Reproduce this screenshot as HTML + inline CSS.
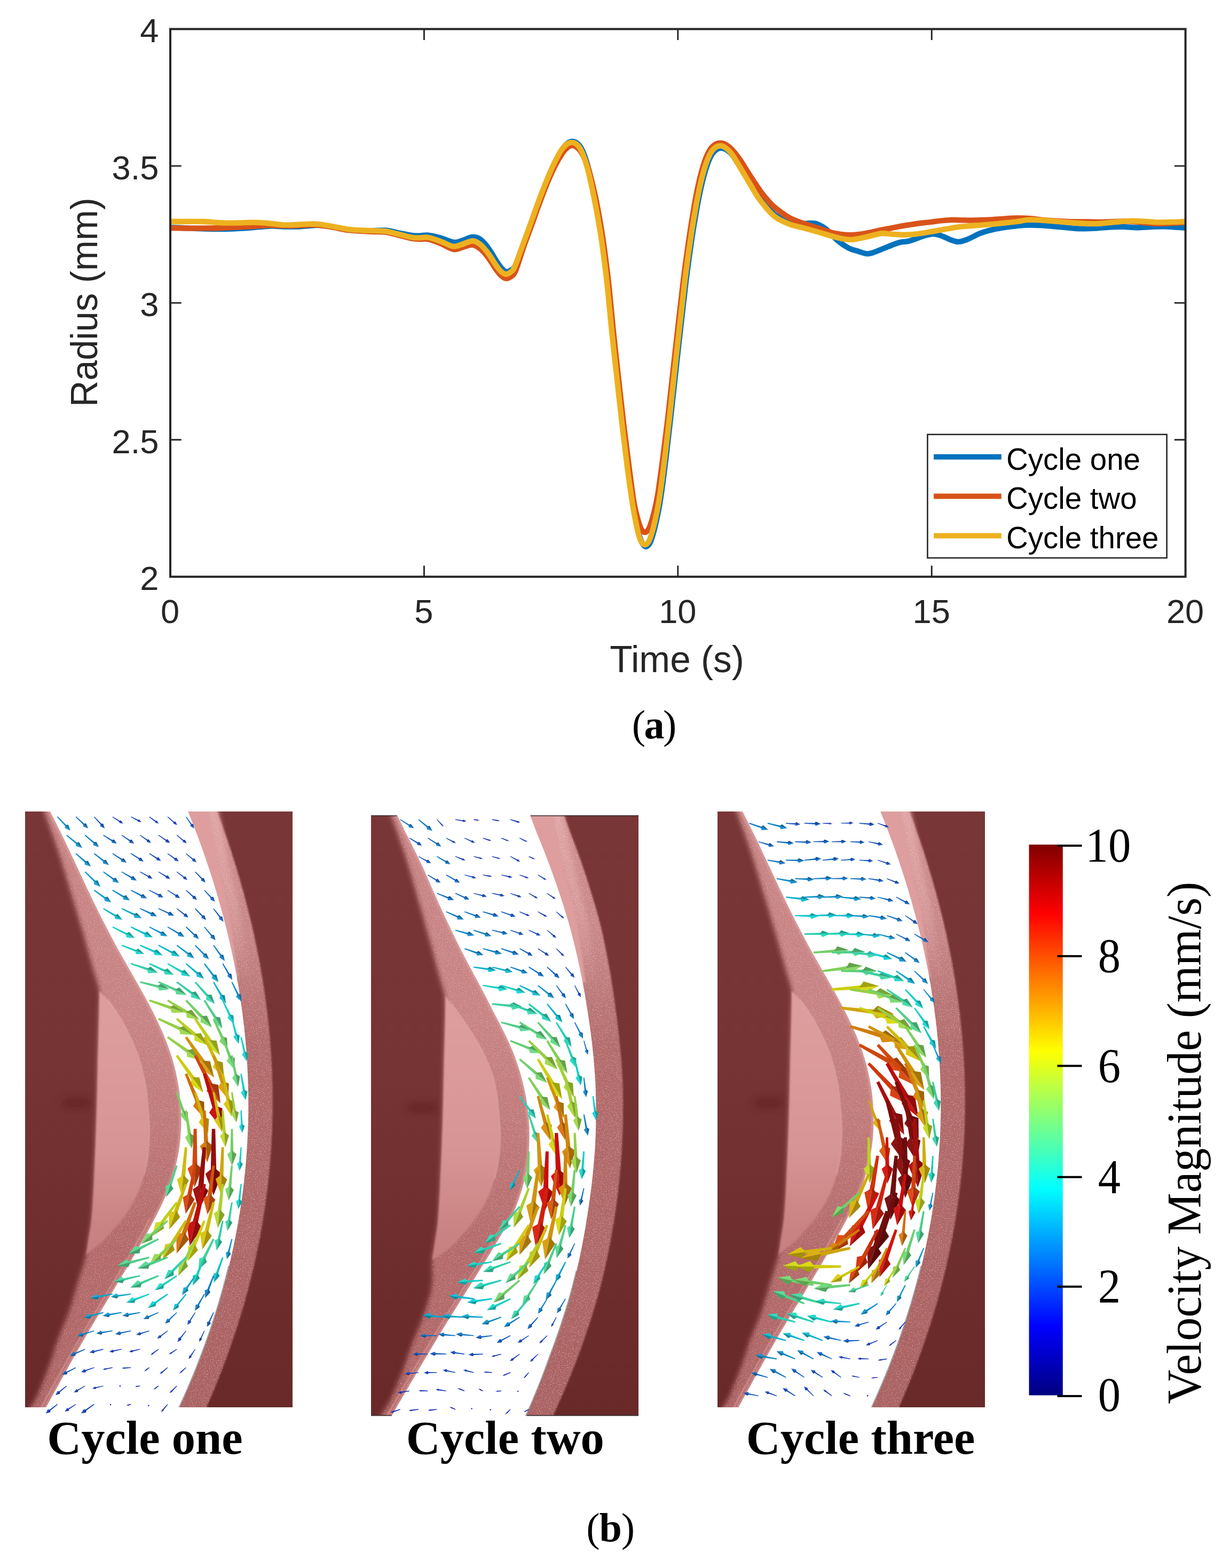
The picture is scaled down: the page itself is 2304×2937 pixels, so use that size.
<!DOCTYPE html>
<html lang="en"><head><meta charset="utf-8"><title>Radius and velocity field over three cycles</title>
<style>
html,body{margin:0;padding:0;background:#fff}
body{width:2304px;height:2937px;overflow:hidden}
svg{display:block}
text{white-space:pre}
</style></head><body>
<svg width="2304" height="2937" viewBox="0 0 2304 2937">
<rect width="2304" height="2937" fill="#fff"/>
<clipPath id="axclip"><rect x="319.0" y="54.4" width="1901.6" height="1025.9"/></clipPath>
<g clip-path="url(#axclip)" fill="none" stroke-width="10.3" stroke-linejoin="round" stroke-linecap="butt">
<path stroke="#0072BD" d="M319.0 426.0C324.2 426.2 339.5 427.1 350.0 427.5C360.5 427.9 370.8 428.2 382.0 428.5C393.2 428.8 406.5 429.1 417.0 429.0C427.5 428.9 435.3 428.5 445.0 428.0C454.7 427.5 465.0 426.8 475.0 426.0C485.0 425.2 495.2 423.8 505.0 423.5C514.8 423.2 524.8 424.3 534.0 424.5C543.2 424.7 552.7 424.8 560.0 424.5C567.3 424.2 571.7 423.4 578.0 423.0C584.3 422.6 590.2 421.7 598.0 422.0C605.8 422.3 616.2 423.6 625.0 425.0C633.8 426.4 641.8 429.2 651.0 430.5C660.2 431.8 671.8 432.2 680.0 432.5C688.2 432.8 692.8 432.2 700.0 432.0C707.2 431.8 715.0 430.8 723.0 431.5C731.0 432.2 739.7 434.9 748.0 436.5C756.3 438.1 766.3 440.2 773.0 441.0C779.7 441.8 783.2 441.6 788.0 441.5C792.8 441.4 795.8 439.8 802.0 440.5C808.2 441.2 817.7 443.4 825.0 445.5C832.3 447.6 840.8 451.7 846.0 453.0C851.2 454.3 852.0 454.2 856.0 453.5C860.0 452.8 866.0 450.4 870.0 449.0C874.0 447.6 877.1 445.8 880.0 445.0C882.9 444.2 884.6 443.8 887.4 444.0C890.2 444.2 893.7 444.7 897.0 446.5C900.3 448.3 903.3 450.9 907.0 455.0C910.7 459.1 915.2 465.3 919.0 471.0C922.8 476.7 926.5 483.7 930.0 489.0C933.5 494.3 936.9 499.7 940.0 503.0C943.1 506.3 946.0 508.5 948.8 509.0C951.6 509.5 954.3 507.8 957.0 506.0C959.7 504.2 961.2 505.7 965.0 498.0C968.8 490.3 975.0 472.8 980.0 460.0C985.0 447.2 989.9 434.2 994.7 421.0C999.5 407.8 1004.1 394.2 1009.0 381.0C1013.9 367.8 1019.0 354.4 1024.0 342.0C1029.0 329.6 1034.2 316.8 1039.0 306.5C1043.8 296.2 1049.0 286.3 1053.0 280.0C1057.0 273.7 1059.8 271.0 1063.0 268.5C1066.2 266.0 1069.2 264.8 1072.5 265.0C1075.8 265.2 1079.4 266.7 1082.5 269.5C1085.6 272.3 1088.0 275.4 1091.0 282.0C1094.0 288.6 1097.4 298.1 1100.5 309.0C1103.6 319.9 1106.5 333.5 1109.5 347.3C1112.5 361.1 1115.3 374.6 1118.5 392.0C1121.7 409.4 1125.2 428.4 1128.5 451.4C1131.8 474.4 1135.2 501.1 1138.5 530.0C1141.8 558.9 1144.8 594.7 1148.0 625.0C1151.2 655.3 1154.3 683.1 1157.5 712.0C1160.7 740.9 1164.0 771.4 1167.2 798.6C1170.4 825.8 1173.3 850.6 1176.5 875.0C1179.7 899.4 1183.8 927.9 1186.5 945.2C1189.2 962.5 1190.5 969.0 1192.5 979.0C1194.5 989.0 1196.3 998.3 1198.2 1005.0C1200.1 1011.7 1202.0 1015.8 1204.0 1019.0C1206.0 1022.2 1208.0 1023.9 1210.0 1024.0C1212.0 1024.1 1214.0 1022.5 1216.0 1019.5C1218.0 1016.5 1219.5 1012.9 1221.7 1006.0C1223.9 999.1 1226.4 989.7 1229.0 978.0C1231.6 966.3 1234.1 955.3 1237.1 936.0C1240.1 916.7 1243.8 887.8 1247.0 862.0C1250.2 836.2 1253.2 809.0 1256.4 781.0C1259.6 753.0 1262.8 722.9 1266.0 694.0C1269.2 665.1 1272.5 635.3 1275.7 607.5C1278.9 579.7 1281.8 552.7 1285.0 527.0C1288.2 501.3 1291.7 475.9 1295.0 453.4C1298.3 430.9 1301.8 409.9 1305.0 392.0C1308.2 374.1 1311.1 359.5 1314.3 346.0C1317.5 332.5 1320.8 320.5 1324.0 311.0C1327.2 301.5 1330.4 294.2 1333.6 289.0C1336.8 283.8 1339.8 281.4 1343.0 279.5C1346.2 277.6 1349.4 277.2 1352.5 277.5C1355.6 277.8 1358.3 278.9 1361.5 281.0C1364.7 283.1 1367.8 285.3 1371.5 290.0C1375.2 294.7 1379.6 302.2 1384.0 309.0C1388.4 315.8 1393.8 324.4 1398.0 331.0C1402.2 337.6 1405.1 342.4 1409.0 348.5C1412.9 354.6 1416.8 361.2 1421.3 367.5C1425.8 373.8 1430.8 380.1 1436.0 386.0C1441.2 391.9 1445.5 398.2 1452.7 403.0C1459.9 407.8 1470.2 411.9 1479.0 414.5C1487.8 417.1 1498.8 418.1 1505.4 418.6C1512.0 419.2 1514.2 417.6 1518.6 417.8C1523.0 418.0 1526.9 418.1 1531.7 420.0C1536.5 421.9 1541.3 424.2 1547.5 429.2C1553.7 434.2 1561.6 444.3 1568.6 450.2C1575.6 456.1 1583.5 461.4 1589.7 464.7C1595.9 468.0 1599.8 468.2 1605.5 470.0C1611.2 471.8 1618.8 474.9 1624.0 475.3C1629.2 475.7 1630.4 474.8 1637.0 472.6C1643.6 470.4 1655.6 465.1 1663.5 462.0C1671.4 458.9 1677.9 455.9 1684.5 454.2C1691.1 452.4 1695.5 453.5 1703.0 451.5C1710.5 449.5 1721.8 444.5 1729.3 442.3C1736.8 440.1 1742.1 438.5 1747.8 438.4C1753.5 438.3 1757.9 439.9 1763.6 441.8C1769.3 443.7 1776.7 447.9 1782.0 449.7C1787.3 451.5 1790.4 453.0 1795.2 452.9C1800.0 452.8 1804.4 451.4 1811.0 448.9C1817.6 446.3 1827.8 440.5 1834.7 437.6C1841.7 434.7 1845.3 433.6 1852.7 431.7C1860.1 429.8 1870.2 427.8 1879.0 426.4C1887.8 424.9 1896.6 423.8 1905.4 423.0C1914.2 422.2 1920.7 421.6 1931.7 421.7C1942.7 421.8 1960.2 423.0 1971.2 423.8C1982.2 424.6 1988.8 425.6 1997.6 426.4C2006.4 427.1 2015.2 428.1 2024.0 428.3C2032.8 428.5 2041.5 428.1 2050.3 427.7C2059.1 427.2 2067.8 426.1 2076.6 425.6C2085.4 425.1 2094.2 424.7 2103.0 424.8C2111.8 424.9 2120.5 426.3 2129.3 426.4C2138.1 426.4 2146.9 425.5 2155.7 425.1C2164.5 424.8 2171.2 424.0 2182.0 424.3C2192.8 424.6 2214.2 426.6 2220.7 427.0"/>
<path stroke="#D95319" d="M319.0 427.0C324.2 427.1 339.5 427.4 350.0 427.5C360.5 427.6 370.8 427.6 382.0 427.5C393.2 427.4 406.5 427.3 417.0 427.0C427.5 426.7 435.3 426.0 445.0 425.5C454.7 425.0 465.0 424.6 475.0 424.0C485.0 423.4 495.2 422.2 505.0 422.0C514.8 421.8 524.8 422.9 534.0 423.0C543.2 423.1 552.7 422.8 560.0 422.5C567.3 422.2 571.7 421.6 578.0 421.5C584.3 421.4 590.2 421.2 598.0 422.0C605.8 422.8 616.2 424.5 625.0 426.0C633.8 427.5 641.8 429.8 651.0 431.0C660.2 432.2 671.8 432.5 680.0 433.0C688.2 433.5 692.8 433.7 700.0 434.0C707.2 434.3 715.0 433.8 723.0 435.0C731.0 436.2 739.7 439.0 748.0 441.0C756.3 443.0 766.3 445.8 773.0 447.0C779.7 448.2 783.2 447.8 788.0 448.0C792.8 448.2 795.8 446.7 802.0 448.0C808.2 449.3 817.7 453.0 825.0 456.0C832.3 459.0 841.0 464.2 846.0 466.0C851.0 467.8 851.0 467.7 855.0 467.0C859.0 466.3 865.2 463.4 870.0 462.0C874.8 460.6 880.0 458.5 884.0 458.5C888.0 458.5 890.5 459.9 894.0 462.0C897.5 464.1 901.2 467.0 905.0 471.0C908.8 475.0 913.2 480.7 917.0 486.0C920.8 491.3 924.5 498.1 928.0 503.0C931.5 507.9 934.8 512.4 938.0 515.5C941.2 518.6 944.2 521.1 947.4 521.5C950.6 521.9 954.0 520.2 957.0 518.0C960.0 515.8 961.5 517.3 965.5 508.0C969.5 498.7 976.0 476.3 981.0 462.0C986.0 447.7 990.9 435.3 995.7 422.0C1000.5 408.7 1005.1 395.2 1010.0 382.0C1014.9 368.8 1020.0 355.0 1025.0 343.0C1030.0 331.0 1035.2 319.5 1040.0 310.0C1044.8 300.5 1050.0 291.8 1054.0 286.0C1058.0 280.2 1060.9 277.7 1064.0 275.5C1067.1 273.3 1069.5 272.4 1072.5 272.7C1075.5 272.9 1078.9 274.3 1082.0 277.0C1085.1 279.7 1087.8 283.2 1091.0 289.0C1094.2 294.8 1097.8 302.3 1101.0 312.0C1104.2 321.7 1107.3 334.0 1110.5 347.3C1113.7 360.6 1116.8 374.6 1120.0 392.0C1123.2 409.4 1126.7 428.4 1130.0 451.4C1133.3 474.4 1136.8 501.1 1140.0 530.0C1143.2 558.9 1146.2 594.7 1149.4 625.0C1152.6 655.3 1155.8 683.1 1159.0 712.0C1162.2 740.9 1165.5 771.9 1168.7 798.6C1171.9 825.3 1175.0 848.8 1178.0 872.0C1181.0 895.2 1184.5 922.3 1187.0 938.0C1189.5 953.7 1191.1 958.2 1193.0 966.0C1194.9 973.8 1196.9 980.3 1198.6 985.0C1200.3 989.7 1201.4 992.0 1203.0 994.0C1204.6 996.0 1206.3 997.0 1208.0 997.0C1209.7 997.0 1211.4 996.0 1213.0 994.0C1214.6 992.0 1215.8 990.3 1217.7 985.0C1219.6 979.7 1222.1 972.0 1224.5 962.0C1226.9 952.0 1229.4 942.8 1232.3 925.0C1235.2 907.2 1238.8 879.3 1242.0 855.0C1245.2 830.7 1248.2 806.5 1251.4 779.3C1254.6 752.1 1257.8 720.9 1261.0 692.0C1264.2 663.1 1267.5 633.5 1270.7 605.7C1273.9 577.9 1276.8 550.7 1280.0 525.0C1283.2 499.3 1286.7 474.2 1290.0 451.4C1293.3 428.6 1296.8 406.6 1300.0 388.0C1303.2 369.4 1306.2 354.1 1309.5 340.0C1312.8 325.9 1316.2 313.3 1319.5 303.5C1322.8 293.7 1326.2 286.5 1329.6 281.0C1333.0 275.5 1336.4 272.7 1340.0 270.5C1343.6 268.3 1347.5 267.8 1351.0 268.0C1354.5 268.2 1357.5 269.3 1361.0 271.5C1364.5 273.7 1367.8 276.4 1372.0 281.0C1376.2 285.6 1381.3 292.3 1386.0 299.0C1390.7 305.7 1395.7 314.2 1400.0 321.0C1404.3 327.8 1407.6 332.9 1412.0 339.5C1416.4 346.1 1421.8 354.5 1426.3 360.6C1430.8 366.7 1434.6 371.2 1439.0 376.0C1443.4 380.8 1446.0 384.3 1452.7 389.6C1459.4 394.9 1470.2 403.2 1479.0 408.0C1487.8 412.8 1496.6 415.4 1505.4 418.6C1514.2 421.8 1522.9 424.1 1531.7 427.0C1540.5 429.9 1550.8 433.7 1558.0 435.7C1565.2 437.7 1569.3 438.1 1575.0 438.8C1580.7 439.6 1586.8 440.2 1592.3 440.2C1597.8 440.2 1602.7 439.6 1608.0 439.0C1613.3 438.4 1618.2 437.6 1624.0 436.5C1629.8 435.4 1636.4 433.9 1643.0 432.5C1649.6 431.1 1656.8 429.7 1663.5 428.4C1670.2 427.1 1676.4 425.7 1683.0 424.5C1689.6 423.3 1696.5 422.2 1703.0 421.2C1709.5 420.2 1715.4 419.2 1722.0 418.3C1728.6 417.4 1735.8 416.8 1742.5 416.0C1749.2 415.2 1755.4 414.2 1762.0 413.5C1768.6 412.8 1775.7 412.2 1782.0 412.0C1788.3 411.8 1793.4 412.2 1800.0 412.3C1806.6 412.4 1812.7 412.7 1821.5 412.6C1830.3 412.5 1843.1 412.2 1852.7 411.7C1862.3 411.2 1870.2 410.3 1879.0 409.8C1887.8 409.3 1896.6 408.6 1905.4 408.5C1914.2 408.4 1922.9 408.8 1931.7 409.5C1940.5 410.2 1947.0 411.6 1958.0 412.5C1969.0 413.4 1984.4 414.5 1997.6 415.0C2010.8 415.5 2026.0 415.3 2037.0 415.5C2048.0 415.7 2054.7 416.1 2063.5 416.0C2072.3 415.9 2081.0 415.2 2089.8 415.0C2098.6 414.8 2107.4 414.2 2116.2 414.5C2125.0 414.8 2133.7 416.2 2142.5 417.0C2151.3 417.8 2160.0 418.8 2168.8 419.0C2177.6 419.2 2186.5 418.4 2195.2 418.0C2203.8 417.6 2216.4 416.8 2220.7 416.5"/>
<path stroke="#EDB120" d="M319.0 415.0C324.2 415.0 339.5 415.0 350.0 415.0C360.5 415.0 370.8 414.6 382.0 415.0C393.2 415.4 406.5 417.1 417.0 417.5C427.5 417.9 435.3 417.6 445.0 417.5C454.7 417.4 465.0 416.5 475.0 416.7C485.0 416.9 495.2 417.7 505.0 418.5C514.8 419.3 524.8 421.1 534.0 421.4C543.2 421.7 552.7 420.8 560.0 420.5C567.3 420.2 571.7 419.7 578.0 419.6C584.3 419.5 590.2 419.2 598.0 420.0C605.8 420.8 616.2 422.9 625.0 424.5C633.8 426.1 641.8 428.1 651.0 429.3C660.2 430.5 671.8 431.0 680.0 431.5C688.2 432.0 692.8 431.9 700.0 432.2C707.2 432.5 715.0 432.0 723.0 433.1C731.0 434.2 739.7 437.1 748.0 439.0C756.3 440.9 766.3 443.8 773.0 444.8C779.7 445.9 783.2 445.3 788.0 445.3C792.8 445.3 795.8 443.7 802.0 444.8C808.2 445.9 817.7 449.3 825.0 452.0C832.3 454.7 841.0 459.4 846.0 460.9C851.0 462.4 851.0 461.8 855.0 461.0C859.0 460.2 865.2 457.6 870.0 456.0C874.8 454.4 880.0 451.6 884.0 451.3C888.0 451.0 890.5 452.1 894.0 454.0C897.5 455.9 901.2 459.0 905.0 463.0C908.8 467.0 913.2 472.6 917.0 478.0C920.8 483.4 924.5 490.2 928.0 495.2C931.5 500.2 934.8 504.9 938.0 508.0C941.2 511.1 944.4 513.3 947.4 513.6C950.4 513.9 953.3 512.1 956.0 510.0C958.7 507.9 959.8 509.0 963.5 501.0C967.2 493.0 973.1 475.2 978.0 462.0C982.9 448.8 987.9 435.3 992.7 422.0C997.5 408.7 1002.1 395.2 1007.0 382.0C1011.9 368.8 1017.0 355.3 1022.0 343.0C1027.0 330.7 1032.1 318.2 1037.0 308.0C1041.9 297.8 1047.1 287.8 1051.3 281.5C1055.5 275.2 1058.6 272.4 1062.0 270.0C1065.4 267.6 1068.6 266.6 1071.8 266.8C1075.0 267.0 1078.1 268.3 1081.0 271.0C1083.9 273.7 1086.3 276.5 1089.3 283.0C1092.3 289.5 1095.9 299.3 1099.0 310.0C1102.1 320.7 1105.0 333.6 1108.0 347.3C1111.0 361.0 1113.8 374.6 1117.0 392.0C1120.2 409.4 1123.7 428.4 1127.0 451.4C1130.3 474.4 1133.8 501.1 1137.0 530.0C1140.2 558.9 1143.2 594.7 1146.4 625.0C1149.6 655.3 1152.8 683.1 1156.0 712.0C1159.2 740.9 1162.5 771.4 1165.7 798.6C1168.9 825.8 1171.8 850.6 1175.0 875.0C1178.2 899.4 1182.3 928.0 1185.0 945.2C1187.7 962.4 1189.1 968.4 1191.0 978.0C1192.9 987.6 1194.8 996.7 1196.6 1003.0C1198.4 1009.3 1200.1 1013.1 1202.0 1016.0C1203.9 1018.9 1206.2 1020.4 1208.2 1020.4C1210.2 1020.4 1212.1 1018.9 1214.0 1016.0C1215.9 1013.1 1217.5 1009.8 1219.7 1003.0C1221.9 996.2 1224.4 986.6 1227.0 975.0C1229.6 963.4 1232.1 952.8 1235.1 933.6C1238.1 914.4 1241.8 885.7 1245.0 860.0C1248.2 834.3 1251.2 807.3 1254.4 779.3C1257.6 751.3 1260.8 720.9 1264.0 692.0C1267.2 663.1 1270.5 633.5 1273.7 605.7C1276.9 577.9 1279.8 550.7 1283.0 525.0C1286.2 499.3 1289.7 473.9 1293.0 451.4C1296.3 428.9 1299.8 408.0 1303.0 390.0C1306.2 372.0 1309.1 357.1 1312.3 343.4C1315.5 329.7 1318.8 317.6 1322.0 308.0C1325.2 298.4 1328.4 291.0 1331.6 285.6C1334.8 280.2 1337.8 277.6 1341.0 275.5C1344.2 273.4 1347.7 272.9 1350.9 273.2C1354.1 273.5 1356.8 275.1 1360.0 277.5C1363.2 279.9 1366.4 282.4 1370.2 287.5C1374.0 292.6 1378.5 300.6 1383.0 308.0C1387.5 315.4 1393.0 324.9 1397.2 331.9C1401.4 338.9 1404.2 343.6 1408.0 350.0C1411.8 356.4 1415.8 363.9 1420.3 370.4C1424.8 376.9 1429.6 382.9 1435.0 389.0C1440.4 395.1 1445.4 401.6 1452.7 406.8C1460.0 412.0 1470.2 416.6 1479.0 420.0C1487.8 423.4 1496.6 424.6 1505.4 427.0C1514.2 429.4 1522.9 431.8 1531.7 434.4C1540.5 436.9 1550.9 440.3 1558.1 442.3C1565.3 444.3 1569.3 445.4 1575.0 446.5C1580.7 447.6 1586.8 448.8 1592.3 448.9C1597.8 449.0 1602.7 447.9 1608.0 447.0C1613.3 446.1 1618.7 444.9 1624.0 443.6C1629.3 442.4 1635.2 440.6 1640.0 439.5C1644.8 438.4 1648.0 437.2 1653.0 437.0C1658.0 436.8 1663.9 438.1 1670.0 438.5C1676.1 438.9 1682.1 439.7 1689.8 439.7C1697.5 439.7 1705.2 439.7 1716.2 438.4C1727.2 437.1 1742.5 434.0 1755.7 431.8C1768.9 429.6 1783.7 426.8 1795.2 425.2C1806.8 423.6 1815.4 423.3 1825.0 422.5C1834.6 421.7 1843.7 421.2 1852.7 420.4C1861.7 419.6 1870.2 418.7 1879.0 417.8C1887.8 416.9 1898.6 415.9 1905.4 415.0C1912.2 414.1 1915.6 413.1 1920.0 412.5C1924.4 411.9 1925.4 411.6 1931.7 411.7C1938.0 411.8 1947.0 412.2 1958.0 413.0C1969.0 413.8 1984.4 415.4 1997.6 416.4C2010.8 417.4 2026.0 418.6 2037.0 419.0C2048.0 419.4 2054.7 419.0 2063.5 418.5C2072.3 418.0 2081.0 416.7 2089.8 415.9C2098.6 415.1 2107.4 414.0 2116.2 413.8C2125.0 413.6 2133.7 414.2 2142.5 414.6C2151.3 415.0 2160.0 416.2 2168.8 416.4C2177.6 416.6 2186.5 416.1 2195.2 415.9C2203.8 415.7 2216.4 415.1 2220.7 415.0"/>
</g>
<g stroke="#262626" stroke-width="4" fill="none">
<rect x="319.0" y="54.4" width="1901.6" height="1025.9"/>
<path stroke-width="2.9" d="M794.4 1080.3v-20.7M794.4 54.4v20.7M1269.8 1080.3v-20.7M1269.8 54.4v20.7M1745.2 1080.3v-20.7M1745.2 54.4v20.7M319.0 823.8h20.7M2220.6 823.8h-20.7M319.0 567.4h20.7M2220.6 567.4h-20.7M319.0 310.9h20.7M2220.6 310.9h-20.7"/>
</g>
<g font-family="'Liberation Sans',Arial,Helvetica,sans-serif" fill="#262626" font-size="63.2">
<text x="318.5" y="1167" text-anchor="middle">0</text>
<text x="793.9" y="1167" text-anchor="middle">5</text>
<text x="1269.3" y="1167" text-anchor="middle">10</text>
<text x="1744.7" y="1167" text-anchor="middle">15</text>
<text x="2220.1" y="1167" text-anchor="middle">20</text>
<text x="297.4" y="1105.1" text-anchor="end">2</text>
<text x="297.4" y="848.6" text-anchor="end">2.5</text>
<text x="297.4" y="592.1" text-anchor="end">3</text>
<text x="297.4" y="335.7" text-anchor="end">3.5</text>
<text x="297.4" y="79.2" text-anchor="end">4</text>
</g>
<g font-family="'Liberation Sans',Arial,Helvetica,sans-serif" fill="#262626" font-size="71">
<text transform="translate(1268,1258.9) scale(0.977,1)" text-anchor="middle">Time (s)</text>
<text transform="translate(182,566.3) rotate(-90) scale(0.965,1)" text-anchor="middle">Radius (mm)</text>
</g>
<rect x="1737.4" y="813.8" width="448.2" height="231.2" fill="#fff" stroke="#262626" stroke-width="2.6"/>
<g stroke-width="10" fill="none">
<path stroke="#0072BD" d="M1749 855.7H1875.8"/>
<path stroke="#D95319" d="M1749 929.4H1875.8"/>
<path stroke="#EDB120" d="M1749 1003.5H1875.8"/>
</g>
<g font-family="'Liberation Sans',Arial,Helvetica,sans-serif" fill="#000" font-size="57.5">
<text transform="translate(1885,879.8) scale(0.982,1)">Cycle one</text>
<text transform="translate(1885,953.2) scale(0.982,1)">Cycle two</text>
<text transform="translate(1885,1027.3) scale(0.982,1)">Cycle three</text>
</g>
<text x="1225.6" y="1383.3" text-anchor="middle" font-family="'Liberation Serif','Times New Roman',serif" font-size="76" fill="#000">(<tspan font-weight="bold" dx="-2.5">a</tspan><tspan dx="-2.5">)</tspan></text>
<defs>
<filter id="b6" x="-20%" y="-5%" width="140%" height="110%"><feGaussianBlur stdDeviation="5"/></filter>
<filter id="b6w" x="-100%" y="-10%" width="300%" height="120%"><feGaussianBlur stdDeviation="5"/></filter>
<filter id="b3" x="-20%" y="-5%" width="140%" height="110%"><feGaussianBlur stdDeviation="1.6"/></filter>
<filter id="b1" x="-20%" y="-5%" width="140%" height="110%"><feGaussianBlur stdDeviation="0.8"/></filter>
<filter id="b12" x="-50%" y="-50%" width="200%" height="200%"><feGaussianBlur stdDeviation="7"/></filter>
<filter id="spk" x="0" y="0" width="100%" height="100%" color-interpolation-filters="sRGB"><feTurbulence type="fractalNoise" baseFrequency="0.5" numOctaves="2" seed="7" result="n"/><feColorMatrix in="n" type="matrix" values="0 0 0 0 1  0 0 0 0 0.84  0 0 0 0 0.84  0 0 0 6 -3.55" result="s"/><feComposite in="s" in2="SourceGraphic" operator="in"/></filter>
<linearGradient id="gdark" gradientUnits="userSpaceOnUse" x1="0" y1="1519" x2="0" y2="2640"><stop offset="0.000" stop-color="#793636"/><stop offset="0.429" stop-color="#773434"/><stop offset="0.697" stop-color="#702e2e"/><stop offset="1.000" stop-color="#692929"/></linearGradient>
<linearGradient id="glb" gradientUnits="userSpaceOnUse" x1="0" y1="1519" x2="0" y2="2640"><stop offset="0.000" stop-color="#c88585"/><stop offset="0.340" stop-color="#c88484"/><stop offset="0.518" stop-color="#c07a7a"/><stop offset="0.697" stop-color="#b56c6c"/><stop offset="1.000" stop-color="#ad6565"/></linearGradient>
<linearGradient id="grb" gradientUnits="userSpaceOnUse" x1="0" y1="1519" x2="0" y2="2640"><stop offset="0.000" stop-color="#cf9090"/><stop offset="0.206" stop-color="#c68686"/><stop offset="0.384" stop-color="#b36c6c"/><stop offset="0.697" stop-color="#ae6767"/><stop offset="1.000" stop-color="#a96262"/></linearGradient>
<linearGradient id="glf" gradientUnits="userSpaceOnUse" x1="0" y1="1519" x2="0" y2="2640"><stop offset="0.000" stop-color="#de9d9d"/><stop offset="0.340" stop-color="#de9d9d"/><stop offset="0.563" stop-color="#d79494"/><stop offset="0.697" stop-color="#c98282"/><stop offset="1.000" stop-color="#c07878"/></linearGradient>
<linearGradient id="ghl" gradientUnits="userSpaceOnUse" x1="0" y1="1500" x2="0" y2="1840"><stop offset="0" stop-color="#e6adad" stop-opacity="0.75"/><stop offset="0.55" stop-color="#e6adad" stop-opacity="0.5"/><stop offset="1" stop-color="#e6adad" stop-opacity="0"/></linearGradient>
<path id="p_lband" d="M76.0 1505.0C77.1 1507.4 77.1 1504.7 82.5 1519.3C87.9 1533.9 100.3 1567.7 108.5 1592.4C116.7 1617.1 123.9 1642.3 131.5 1667.3C139.1 1692.3 146.8 1717.3 154.0 1742.3C161.2 1767.3 169.7 1798.2 175.0 1817.2C180.3 1836.2 184.2 1842.2 186.0 1856.0C187.8 1869.8 186.0 1876.0 185.5 1900.0C185.0 1924.0 183.8 1966.7 183.0 2000.0C182.2 2033.3 181.7 2064.7 180.5 2100.0C179.3 2135.3 177.5 2182.0 176.0 2212.0C174.5 2242.0 173.4 2262.0 171.7 2280.0C170.0 2298.0 167.8 2308.2 166.0 2320.0C164.2 2331.8 164.6 2337.2 161.2 2351.0C157.8 2364.8 150.7 2385.6 145.4 2403.0C140.1 2420.4 135.8 2438.1 129.6 2455.7C123.4 2473.3 115.0 2490.8 108.5 2508.4C102.0 2526.0 97.4 2543.4 90.9 2561.0C84.5 2578.6 75.7 2600.9 69.8 2613.7C63.9 2626.5 60.1 2630.3 55.8 2638.0C51.5 2645.7 46.0 2656.3 44.0 2660.0L91.1 2660.0C93.1 2656.3 99.3 2645.2 103.4 2637.8C107.5 2630.4 111.6 2623.0 115.6 2615.6C119.7 2608.2 123.8 2600.8 127.9 2593.4C131.9 2586.0 136.0 2578.6 140.1 2571.2C144.2 2563.8 148.3 2556.3 152.5 2548.9C156.7 2541.5 160.8 2534.1 165.1 2526.7C169.3 2519.3 173.6 2511.9 177.9 2504.5C182.2 2497.1 186.6 2489.7 191.0 2482.3C195.4 2474.9 199.8 2467.5 204.3 2460.1C208.7 2452.7 213.2 2445.3 217.7 2437.9C222.1 2430.5 226.6 2423.1 231.1 2415.7C235.5 2408.3 240.0 2400.9 244.4 2393.5C248.9 2386.1 253.3 2378.7 257.7 2371.2C262.1 2363.8 266.5 2356.4 270.8 2349.0C275.1 2341.6 279.4 2334.2 283.6 2326.8C287.8 2319.4 292.0 2312.0 296.0 2304.6C300.1 2297.2 304.1 2289.8 307.9 2282.4C311.8 2275.0 315.5 2267.6 319.1 2260.2C322.6 2252.8 326.0 2245.4 329.1 2238.0C332.2 2230.6 335.1 2223.2 337.7 2215.8C340.3 2208.4 342.6 2201.0 344.7 2193.6C346.7 2186.2 348.5 2178.8 350.1 2171.3C351.6 2163.9 352.9 2156.5 353.9 2149.1C355.0 2141.7 355.8 2134.3 356.3 2126.9C356.9 2119.5 357.3 2112.1 357.4 2104.7C357.5 2097.3 357.4 2089.9 357.1 2082.5C356.9 2075.1 356.4 2067.7 355.7 2060.3C355.0 2052.9 354.1 2045.5 353.0 2038.1C351.9 2030.7 350.6 2023.3 349.0 2015.9C347.5 2008.5 345.7 2001.1 343.7 1993.7C341.7 1986.2 339.5 1978.8 337.0 1971.4C334.5 1964.0 331.8 1956.6 328.9 1949.2C326.0 1941.8 322.8 1934.4 319.5 1927.0C316.2 1919.6 312.7 1912.2 309.1 1904.8C305.5 1897.4 301.7 1890.0 297.8 1882.6C293.9 1875.2 289.9 1867.8 285.8 1860.4C281.7 1853.0 277.5 1845.6 273.3 1838.2C269.1 1830.8 264.8 1823.4 260.6 1816.0C256.4 1808.6 252.1 1801.2 247.9 1793.8C243.7 1786.3 239.6 1778.9 235.5 1771.5C231.5 1764.1 227.5 1756.7 223.7 1749.3C219.8 1741.9 216.0 1734.5 212.2 1727.1C208.4 1719.7 204.7 1712.3 201.1 1704.9C197.4 1697.5 193.8 1690.1 190.2 1682.7C186.7 1675.3 183.1 1667.9 179.6 1660.5C176.1 1653.1 172.6 1645.7 169.2 1638.3C165.7 1630.9 162.2 1623.5 158.8 1616.1C155.3 1608.7 151.8 1601.2 148.3 1593.8C144.8 1586.4 141.3 1579.0 137.7 1571.6C134.1 1564.2 130.5 1556.8 126.8 1549.4C123.1 1542.0 119.4 1534.6 115.6 1527.2C111.7 1519.8 105.8 1508.7 103.8 1505.0Z"/>
<path id="p_lband2" d="M76.0 1505.0C77.1 1507.4 77.1 1504.7 82.5 1519.3C87.9 1533.9 100.3 1567.7 108.5 1592.4C116.7 1617.1 123.9 1642.3 131.5 1667.3C139.1 1692.3 146.8 1717.3 154.0 1742.3C161.2 1767.3 169.7 1798.2 175.0 1817.2C180.3 1836.2 184.2 1849.5 186.0 1856.0L201.0 1872.0C204.3 1876.7 214.4 1889.5 220.9 1900.0C227.4 1910.5 234.3 1923.3 240.2 1935.0C246.0 1946.7 251.6 1958.6 256.0 1970.3C260.4 1982.0 263.7 1993.7 266.6 2005.4C269.5 2017.1 271.9 2028.8 273.6 2040.5C275.4 2052.2 276.2 2065.8 277.1 2075.7C278.0 2085.6 278.5 2092.3 278.9 2100.0C279.3 2107.7 279.8 2111.3 279.5 2122.0C279.2 2132.7 278.6 2151.0 277.0 2164.0C275.4 2177.0 272.8 2188.8 270.0 2200.0C267.2 2211.2 264.2 2221.0 260.0 2231.0C255.8 2241.0 250.6 2250.6 245.0 2260.0C239.4 2269.4 232.3 2279.5 226.3 2287.3C220.3 2295.1 214.6 2300.8 209.0 2307.0C203.4 2313.2 198.1 2319.6 192.6 2324.8C187.1 2330.0 181.2 2333.6 176.0 2338.0C170.8 2342.4 163.7 2348.8 161.2 2351.0L145.4 2403.0C142.8 2411.8 135.8 2438.1 129.6 2455.7C123.4 2473.3 115.0 2490.8 108.5 2508.4C102.0 2526.0 97.4 2543.4 90.9 2561.0C84.5 2578.6 75.7 2600.9 69.8 2613.7C63.9 2626.5 60.1 2630.3 55.8 2638.0C51.5 2645.7 46.0 2656.3 44.0 2660.0L91.1 2660.0C93.1 2656.3 99.3 2645.2 103.4 2637.8C107.5 2630.4 111.6 2623.0 115.6 2615.6C119.7 2608.2 123.8 2600.8 127.9 2593.4C131.9 2586.0 136.0 2578.6 140.1 2571.2C144.2 2563.8 148.3 2556.3 152.5 2548.9C156.7 2541.5 160.8 2534.1 165.1 2526.7C169.3 2519.3 173.6 2511.9 177.9 2504.5C182.2 2497.1 186.6 2489.7 191.0 2482.3C195.4 2474.9 199.8 2467.5 204.3 2460.1C208.7 2452.7 213.2 2445.3 217.7 2437.9C222.1 2430.5 226.6 2423.1 231.1 2415.7C235.5 2408.3 240.0 2400.9 244.4 2393.5C248.9 2386.1 253.3 2378.7 257.7 2371.2C262.1 2363.8 266.5 2356.4 270.8 2349.0C275.1 2341.6 279.4 2334.2 283.6 2326.8C287.8 2319.4 292.0 2312.0 296.0 2304.6C300.1 2297.2 304.1 2289.8 307.9 2282.4C311.8 2275.0 315.5 2267.6 319.1 2260.2C322.6 2252.8 326.0 2245.4 329.1 2238.0C332.2 2230.6 335.1 2223.2 337.7 2215.8C340.3 2208.4 342.6 2201.0 344.7 2193.6C346.7 2186.2 348.5 2178.8 350.1 2171.3C351.6 2163.9 352.9 2156.5 353.9 2149.1C355.0 2141.7 355.8 2134.3 356.3 2126.9C356.9 2119.5 357.3 2112.1 357.4 2104.7C357.5 2097.3 357.4 2089.9 357.1 2082.5C356.9 2075.1 356.4 2067.7 355.7 2060.3C355.0 2052.9 354.1 2045.5 353.0 2038.1C351.9 2030.7 350.6 2023.3 349.0 2015.9C347.5 2008.5 345.7 2001.1 343.7 1993.7C341.7 1986.2 339.5 1978.8 337.0 1971.4C334.5 1964.0 331.8 1956.6 328.9 1949.2C326.0 1941.8 322.8 1934.4 319.5 1927.0C316.2 1919.6 312.7 1912.2 309.1 1904.8C305.5 1897.4 301.7 1890.0 297.8 1882.6C293.9 1875.2 289.9 1867.8 285.8 1860.4C281.7 1853.0 277.5 1845.6 273.3 1838.2C269.1 1830.8 264.8 1823.4 260.6 1816.0C256.4 1808.6 252.1 1801.2 247.9 1793.8C243.7 1786.3 239.6 1778.9 235.5 1771.5C231.5 1764.1 227.5 1756.7 223.7 1749.3C219.8 1741.9 216.0 1734.5 212.2 1727.1C208.4 1719.7 204.7 1712.3 201.1 1704.9C197.4 1697.5 193.8 1690.1 190.2 1682.7C186.7 1675.3 183.1 1667.9 179.6 1660.5C176.1 1653.1 172.6 1645.7 169.2 1638.3C165.7 1630.9 162.2 1623.5 158.8 1616.1C155.3 1608.7 151.8 1601.2 148.3 1593.8C144.8 1586.4 141.3 1579.0 137.7 1571.6C134.1 1564.2 130.5 1556.8 126.8 1549.4C123.1 1542.0 119.4 1534.6 115.6 1527.2C111.7 1519.8 105.8 1508.7 103.8 1505.0Z"/>
<path id="p_leaf" d="M186.0 1856.0C188.5 1858.7 195.2 1864.7 201.0 1872.0C206.8 1879.3 214.4 1889.5 220.9 1900.0C227.4 1910.5 234.3 1923.3 240.2 1935.0C246.0 1946.7 251.6 1958.6 256.0 1970.3C260.4 1982.0 263.7 1993.7 266.6 2005.4C269.5 2017.1 271.9 2028.8 273.6 2040.5C275.4 2052.2 276.2 2065.8 277.1 2075.7C278.0 2085.6 278.5 2092.3 278.9 2100.0C279.3 2107.7 279.8 2111.3 279.5 2122.0C279.2 2132.7 278.6 2151.0 277.0 2164.0C275.4 2177.0 272.8 2188.8 270.0 2200.0C267.2 2211.2 264.2 2221.0 260.0 2231.0C255.8 2241.0 250.6 2250.6 245.0 2260.0C239.4 2269.4 232.3 2279.5 226.3 2287.3C220.3 2295.1 214.6 2300.8 209.0 2307.0C203.4 2313.2 198.1 2319.6 192.6 2324.8C187.1 2330.0 181.2 2333.6 176.0 2338.0C170.8 2342.4 163.7 2348.8 161.2 2351.0L161.2 2351.0C162.0 2345.8 164.2 2331.8 166.0 2320.0C167.8 2308.2 170.0 2298.0 171.7 2280.0C173.4 2262.0 174.5 2242.0 176.0 2212.0C177.5 2182.0 179.3 2135.3 180.5 2100.0C181.7 2064.7 182.2 2033.3 183.0 2000.0C183.8 1966.7 185.0 1924.0 185.5 1900.0C186.0 1876.0 185.9 1863.3 186.0 1856.0Z"/>
<path id="p_chan" d="M85.8 1505.0C87.8 1508.7 93.7 1519.8 97.6 1527.2C101.4 1534.6 105.1 1542.0 108.8 1549.4C112.5 1556.8 116.1 1564.2 119.7 1571.6C123.3 1579.0 126.8 1586.4 130.3 1593.8C133.8 1601.2 137.3 1608.7 140.8 1616.1C144.2 1623.5 147.7 1630.9 151.2 1638.3C154.6 1645.7 158.1 1653.1 161.6 1660.5C165.1 1667.9 168.7 1675.3 172.2 1682.7C175.8 1690.1 179.4 1697.5 183.1 1704.9C186.7 1712.3 190.4 1719.7 194.2 1727.1C198.0 1734.5 201.8 1741.9 205.7 1749.3C209.5 1756.7 213.5 1764.1 217.5 1771.5C221.6 1778.9 225.7 1786.3 229.9 1793.8C234.1 1801.2 238.4 1808.6 242.6 1816.0C246.8 1823.4 251.1 1830.8 255.3 1838.2C259.5 1845.6 263.7 1853.0 267.8 1860.4C271.9 1867.8 275.9 1875.2 279.8 1882.6C283.7 1890.0 287.5 1897.4 291.1 1904.8C294.7 1912.2 298.2 1919.6 301.5 1927.0C304.8 1934.4 308.0 1941.8 310.9 1949.2C313.8 1956.6 316.5 1964.0 319.0 1971.4C321.5 1978.8 323.7 1986.2 325.7 1993.7C327.7 2001.1 329.5 2008.5 331.0 2015.9C332.6 2023.3 333.9 2030.7 335.0 2038.1C336.1 2045.5 337.0 2052.9 337.7 2060.3C338.4 2067.7 338.9 2075.1 339.1 2082.5C339.4 2089.9 339.5 2097.3 339.4 2104.7C339.3 2112.1 338.9 2119.5 338.3 2126.9C337.8 2134.3 337.0 2141.7 335.9 2149.1C334.9 2156.5 333.6 2163.9 332.1 2171.3C330.5 2178.8 328.7 2186.2 326.7 2193.6C324.6 2201.0 322.3 2208.4 319.7 2215.8C317.1 2223.2 314.2 2230.6 311.1 2238.0C308.0 2245.4 304.6 2252.8 301.1 2260.2C297.5 2267.6 293.8 2275.0 289.9 2282.4C286.1 2289.8 282.1 2297.2 278.0 2304.6C274.0 2312.0 269.8 2319.4 265.6 2326.8C261.4 2334.2 257.1 2341.6 252.8 2349.0C248.5 2356.4 244.1 2363.8 239.7 2371.2C235.3 2378.7 230.9 2386.1 226.4 2393.5C222.0 2400.9 217.5 2408.3 213.1 2415.7C208.6 2423.1 204.1 2430.5 199.7 2437.9C195.2 2445.3 190.7 2452.7 186.3 2460.1C181.8 2467.5 177.4 2474.9 173.0 2482.3C168.6 2489.7 164.2 2497.1 159.9 2504.5C155.6 2511.9 151.3 2519.3 147.1 2526.7C142.8 2534.1 138.7 2541.5 134.5 2548.9C130.3 2556.3 126.2 2563.8 122.1 2571.2C118.0 2578.6 113.9 2586.0 109.9 2593.4C105.8 2600.8 101.7 2608.2 97.6 2615.6C93.6 2623.0 89.5 2630.4 85.4 2637.8C81.3 2645.2 75.1 2656.3 73.1 2660.0L324.9 2660.0C326.6 2656.3 332.0 2645.2 335.4 2637.8C338.8 2630.4 342.2 2623.0 345.5 2615.6C348.8 2608.2 352.0 2600.8 355.1 2593.4C358.3 2586.0 361.4 2578.6 364.4 2571.2C367.4 2563.8 370.4 2556.3 373.2 2548.9C376.1 2541.5 378.9 2534.1 381.6 2526.7C384.4 2519.3 387.1 2511.9 389.7 2504.5C392.3 2497.1 394.8 2489.7 397.2 2482.3C399.7 2474.9 402.1 2467.5 404.4 2460.1C406.8 2452.7 409.0 2445.3 411.2 2437.9C413.4 2430.5 415.5 2423.1 417.6 2415.7C419.6 2408.3 421.6 2400.9 423.5 2393.5C425.5 2386.1 427.3 2378.7 429.1 2371.2C430.9 2363.8 432.6 2356.4 434.2 2349.0C435.9 2341.6 437.5 2334.2 439.0 2326.8C440.5 2319.4 442.0 2312.0 443.3 2304.6C444.7 2297.2 446.0 2289.8 447.3 2282.4C448.6 2275.0 449.7 2267.6 450.9 2260.2C452.0 2252.8 453.0 2245.4 454.0 2238.0C455.0 2230.6 455.9 2223.2 456.8 2215.8C457.6 2208.4 458.4 2201.0 459.2 2193.6C459.9 2186.2 460.5 2178.8 461.1 2171.3C461.7 2163.9 462.3 2156.5 462.7 2149.1C463.2 2141.7 463.6 2134.3 463.9 2126.9C464.3 2119.5 464.5 2112.1 464.8 2104.7C465.0 2097.3 465.1 2089.9 465.2 2082.5C465.3 2075.1 465.3 2067.7 465.2 2060.3C465.2 2052.9 465.1 2045.5 464.9 2038.1C464.7 2030.7 464.5 2023.3 464.2 2015.9C463.9 2008.5 463.5 2001.1 463.1 1993.7C462.7 1986.2 462.2 1978.8 461.6 1971.4C461.1 1964.0 460.5 1956.6 459.8 1949.2C459.1 1941.8 458.4 1934.4 457.6 1927.0C456.7 1919.6 455.9 1912.2 455.0 1904.8C454.0 1897.4 453.0 1890.0 452.0 1882.6C450.9 1875.2 449.8 1867.8 448.6 1860.4C447.5 1853.0 446.2 1845.6 444.9 1838.2C443.6 1830.8 442.3 1823.4 440.9 1816.0C439.4 1808.6 438.0 1801.2 436.4 1793.8C434.9 1786.3 433.3 1778.9 431.6 1771.5C429.9 1764.1 428.2 1756.7 426.4 1749.3C424.7 1741.9 422.8 1734.5 420.9 1727.1C419.0 1719.7 417.0 1712.3 415.0 1704.9C413.0 1697.5 410.9 1690.1 408.8 1682.7C406.6 1675.3 404.4 1667.9 402.2 1660.5C399.9 1653.1 397.6 1645.7 395.2 1638.3C392.8 1630.9 390.4 1623.5 387.9 1616.1C385.4 1608.7 382.8 1601.2 380.2 1593.8C377.6 1586.4 374.9 1579.0 372.2 1571.6C369.4 1564.2 366.7 1556.8 363.8 1549.4C361.0 1542.0 358.0 1534.6 355.1 1527.2C352.1 1519.8 347.5 1508.7 346.0 1505.0Z"/>
<path id="p_rband" d="M328.0 1505.0C329.5 1508.7 334.1 1519.8 337.1 1527.2C340.0 1534.6 343.0 1542.0 345.8 1549.4C348.7 1556.8 351.4 1564.2 354.2 1571.6C356.9 1579.0 359.6 1586.4 362.2 1593.8C364.8 1601.2 367.4 1608.7 369.9 1616.1C372.4 1623.5 374.8 1630.9 377.2 1638.3C379.6 1645.7 381.9 1653.1 384.2 1660.5C386.4 1667.9 388.6 1675.3 390.8 1682.7C392.9 1690.1 395.0 1697.5 397.0 1704.9C399.0 1712.3 401.0 1719.7 402.9 1727.1C404.8 1734.5 406.7 1741.9 408.4 1749.3C410.2 1756.7 411.9 1764.1 413.6 1771.5C415.3 1778.9 416.9 1786.3 418.4 1793.8C420.0 1801.2 421.4 1808.6 422.9 1816.0C424.3 1823.4 425.6 1830.8 426.9 1838.2C428.2 1845.6 429.5 1853.0 430.6 1860.4C431.8 1867.8 432.9 1875.2 434.0 1882.6C435.0 1890.0 436.0 1897.4 437.0 1904.8C437.9 1912.2 438.7 1919.6 439.6 1927.0C440.4 1934.4 441.1 1941.8 441.8 1949.2C442.5 1956.6 443.1 1964.0 443.6 1971.4C444.2 1978.8 444.7 1986.2 445.1 1993.7C445.5 2001.1 445.9 2008.5 446.2 2015.9C446.5 2023.3 446.7 2030.7 446.9 2038.1C447.1 2045.5 447.2 2052.9 447.2 2060.3C447.3 2067.7 447.3 2075.1 447.2 2082.5C447.1 2089.9 447.0 2097.3 446.8 2104.7C446.5 2112.1 446.3 2119.5 445.9 2126.9C445.6 2134.3 445.2 2141.7 444.7 2149.1C444.3 2156.5 443.7 2163.9 443.1 2171.3C442.5 2178.8 441.9 2186.2 441.2 2193.6C440.4 2201.0 439.6 2208.4 438.8 2215.8C437.9 2223.2 437.0 2230.6 436.0 2238.0C435.0 2245.4 434.0 2252.8 432.9 2260.2C431.7 2267.6 430.6 2275.0 429.3 2282.4C428.0 2289.8 426.7 2297.2 425.3 2304.6C424.0 2312.0 422.5 2319.4 421.0 2326.8C419.5 2334.2 417.9 2341.6 416.2 2349.0C414.6 2356.4 412.9 2363.8 411.1 2371.2C409.3 2378.7 407.5 2386.1 405.5 2393.5C403.6 2400.9 401.6 2408.3 399.6 2415.7C397.5 2423.1 395.4 2430.5 393.2 2437.9C391.0 2445.3 388.8 2452.7 386.4 2460.1C384.1 2467.5 381.7 2474.9 379.2 2482.3C376.8 2489.7 374.3 2497.1 371.7 2504.5C369.1 2511.9 366.4 2519.3 363.6 2526.7C360.9 2534.1 358.1 2541.5 355.2 2548.9C352.4 2556.3 349.4 2563.8 346.4 2571.2C343.4 2578.6 340.3 2586.0 337.1 2593.4C334.0 2600.8 330.8 2608.2 327.5 2615.6C324.2 2623.0 320.8 2630.4 317.4 2637.8C314.0 2645.2 308.6 2656.3 306.9 2660.0L375.9 2660.0C377.5 2656.3 382.6 2645.2 385.9 2637.8C389.2 2630.4 392.4 2623.0 395.6 2615.6C398.7 2608.2 401.8 2600.8 404.8 2593.4C407.8 2586.0 410.8 2578.6 413.7 2571.2C416.6 2563.8 419.4 2556.3 422.1 2548.9C424.9 2541.5 427.6 2534.1 430.2 2526.7C432.8 2519.3 435.3 2511.9 437.8 2504.5C440.3 2497.1 442.7 2489.7 445.1 2482.3C447.5 2474.9 449.8 2467.5 452.0 2460.1C454.2 2452.7 456.4 2445.3 458.5 2437.9C460.6 2430.5 462.6 2423.1 464.6 2415.7C466.5 2408.3 468.4 2400.9 470.3 2393.5C472.1 2386.1 473.9 2378.7 475.6 2371.2C477.3 2363.8 479.0 2356.4 480.5 2349.0C482.1 2341.6 483.6 2334.2 485.1 2326.8C486.6 2319.4 488.0 2312.0 489.3 2304.6C490.6 2297.2 491.9 2289.8 493.1 2282.4C494.3 2275.0 495.4 2267.6 496.5 2260.2C497.6 2252.8 498.6 2245.4 499.6 2238.0C500.5 2230.6 501.4 2223.2 502.3 2215.8C503.1 2208.4 503.9 2201.0 504.6 2193.6C505.3 2186.2 505.9 2178.8 506.5 2171.3C507.1 2163.9 507.6 2156.5 508.1 2149.1C508.5 2141.7 508.9 2134.3 509.3 2126.9C509.6 2119.5 509.9 2112.1 510.1 2104.7C510.3 2097.3 510.5 2089.9 510.6 2082.5C510.7 2075.1 510.7 2067.7 510.7 2060.3C510.7 2052.9 510.6 2045.5 510.5 2038.1C510.3 2030.7 510.1 2023.3 509.9 2015.9C509.6 2008.5 509.3 2001.1 508.9 1993.7C508.5 1986.2 508.1 1978.8 507.6 1971.4C507.1 1964.0 506.5 1956.6 505.9 1949.2C505.3 1941.8 504.7 1934.4 503.9 1927.0C503.2 1919.6 502.4 1912.2 501.6 1904.8C500.7 1897.4 499.8 1890.0 498.8 1882.6C497.9 1875.2 496.9 1867.8 495.8 1860.4C494.7 1853.0 493.6 1845.6 492.4 1838.2C491.2 1830.8 489.9 1823.4 488.6 1816.0C487.3 1808.6 486.0 1801.2 484.6 1793.8C483.1 1786.3 481.7 1778.9 480.1 1771.5C478.6 1764.1 477.0 1756.7 475.4 1749.3C473.7 1741.9 472.0 1734.5 470.3 1727.1C468.5 1719.7 466.7 1712.3 464.8 1704.9C463.0 1697.5 461.0 1690.1 459.1 1682.7C457.1 1675.3 455.1 1667.9 453.0 1660.5C450.9 1653.1 448.7 1645.7 446.5 1638.3C444.3 1630.9 442.1 1623.5 439.8 1616.1C437.5 1608.7 435.1 1601.2 432.7 1593.8C430.3 1586.4 427.8 1579.0 425.3 1571.6C422.8 1564.2 420.2 1556.8 417.6 1549.4C415.0 1542.0 412.3 1534.6 409.5 1527.2C406.8 1519.8 402.6 1508.7 401.2 1505.0Z"/>
<path id="p_wedge" d="M328.0 1505.0C329.5 1508.7 334.1 1519.8 337.1 1527.2C340.0 1534.6 343.0 1542.0 345.8 1549.4C348.7 1556.8 351.4 1564.2 354.2 1571.6C356.9 1579.0 359.6 1586.4 362.2 1593.8C364.8 1601.2 367.4 1608.7 369.9 1616.1C372.4 1623.5 374.8 1630.9 377.2 1638.3C379.6 1645.7 381.9 1653.1 384.2 1660.5C386.4 1667.9 388.6 1675.3 390.8 1682.7C392.9 1690.1 395.0 1697.5 397.0 1704.9C399.0 1712.3 401.0 1719.7 402.9 1727.1C404.8 1734.5 406.7 1741.9 408.4 1749.3C410.2 1756.7 411.9 1764.1 413.6 1771.5C415.3 1778.9 416.9 1786.3 418.4 1793.8C420.0 1801.2 421.4 1808.6 422.9 1816.0C424.3 1823.4 426.3 1834.5 426.9 1838.2L446.0 1830.0C445.1 1823.3 442.3 1803.3 440.5 1790.0C438.7 1776.7 437.1 1764.2 435.0 1750.0C432.9 1735.8 431.0 1720.3 428.0 1705.0C425.0 1689.7 420.6 1673.7 417.0 1658.0C413.4 1642.3 409.7 1626.7 406.5 1611.0C403.3 1595.3 400.9 1579.2 398.0 1564.0C395.1 1548.8 391.5 1529.5 389.0 1519.7C386.5 1509.9 384.0 1507.5 383.0 1505.0Z"/>
<g id="bg">
<rect x="30" y="1500" width="540" height="1170" fill="url(#gdark)"/>
<ellipse cx="143" cy="2066" rx="30" ry="11" fill="#5e1d1d" opacity="0.55" filter="url(#b12)"/>
<use href="#p_lband" fill="url(#glb)" filter="url(#b6)"/>
<use href="#p_rband" fill="url(#grb)" filter="url(#b3)"/>
<use href="#p_lband2" fill="#fff" filter="url(#spk)" opacity="0.42"/>
<path d="M392.0 1505.0C393.0 1507.5 395.5 1509.9 398.0 1519.7C400.5 1529.5 404.1 1548.8 407.0 1564.0C409.9 1579.2 412.3 1595.3 415.5 1611.0C418.7 1626.7 422.4 1642.3 426.0 1658.0C429.6 1673.7 434.0 1689.7 437.0 1705.0C440.0 1720.3 441.9 1735.8 444.0 1750.0C446.1 1764.2 447.7 1776.7 449.5 1790.0C451.3 1803.3 454.1 1823.3 455.0 1830.0" fill="none" stroke="url(#ghl)" stroke-width="22" filter="url(#b6w)"/>
<use href="#p_rband" fill="#fff" filter="url(#spk)" opacity="0.5"/>
<use href="#p_leaf" fill="url(#glf)" filter="url(#b3)"/>
<use href="#p_wedge" fill="#de9e9e" filter="url(#b3)"/>
<path d="M201.0 1872.0C204.3 1876.7 214.4 1889.5 220.9 1900.0C227.4 1910.5 234.3 1923.3 240.2 1935.0C246.0 1946.7 251.6 1958.6 256.0 1970.3C260.4 1982.0 263.7 1993.7 266.6 2005.4C269.5 2017.1 271.9 2028.8 273.6 2040.5C275.4 2052.2 276.2 2065.8 277.1 2075.7C278.0 2085.6 278.5 2092.3 278.9 2100.0C279.3 2107.7 279.8 2111.3 279.5 2122.0C279.2 2132.7 278.6 2151.0 277.0 2164.0C275.4 2177.0 271.2 2194.0 270.0 2200.0" fill="none" stroke="#e9b3b3" stroke-width="1.6" opacity="0.75" filter="url(#b1)"/>
<path d="M280.9 2282.4C279.0 2286.1 273.1 2297.2 269.0 2304.6C265.0 2312.0 260.8 2319.4 256.6 2326.8C252.4 2334.2 248.1 2341.6 243.8 2349.0C239.5 2356.4 235.1 2363.8 230.7 2371.2C226.3 2378.7 221.9 2386.1 217.4 2393.5C213.0 2400.9 208.5 2408.3 204.1 2415.7C199.6 2423.1 195.1 2430.5 190.7 2437.9C186.2 2445.3 181.7 2452.7 177.3 2460.1C172.8 2467.5 168.4 2474.9 164.0 2482.3C159.6 2489.7 155.2 2497.1 150.9 2504.5C146.6 2511.9 142.3 2519.3 138.1 2526.7C133.8 2534.1 129.7 2541.5 125.5 2548.9C121.3 2556.3 117.2 2563.8 113.1 2571.2C109.0 2578.6 104.9 2586.0 100.9 2593.4C96.8 2600.8 92.7 2608.2 88.6 2615.6C84.6 2623.0 80.5 2630.4 76.4 2637.8C72.3 2645.2 66.1 2656.3 64.1 2660.0" fill="none" stroke="#eeb6b6" stroke-width="1.6" opacity="0.8" filter="url(#b1)"/>
<path d="M84.3 1505.0C86.3 1508.7 92.2 1519.8 96.1 1527.2C99.9 1534.6 103.6 1542.0 107.3 1549.4C111.0 1556.8 114.6 1564.2 118.2 1571.6C121.8 1579.0 125.3 1586.4 128.8 1593.8C132.3 1601.2 135.8 1608.7 139.3 1616.1C142.7 1623.5 146.2 1630.9 149.7 1638.3C153.1 1645.7 156.6 1653.1 160.1 1660.5C163.6 1667.9 167.2 1675.3 170.7 1682.7C174.3 1690.1 177.9 1697.5 181.6 1704.9C185.2 1712.3 188.9 1719.7 192.7 1727.1C196.5 1734.5 200.3 1741.9 204.2 1749.3C208.0 1756.7 212.0 1764.1 216.0 1771.5C220.1 1778.9 224.2 1786.3 228.4 1793.8C232.6 1801.2 236.9 1808.6 241.1 1816.0C245.3 1823.4 249.6 1830.8 253.8 1838.2C258.0 1845.6 262.2 1853.0 266.3 1860.4C270.4 1867.8 274.4 1875.2 278.3 1882.6C282.2 1890.0 286.0 1897.4 289.6 1904.8C293.2 1912.2 296.7 1919.6 300.0 1927.0C303.3 1934.4 306.5 1941.8 309.4 1949.2C312.3 1956.6 315.0 1964.0 317.5 1971.4C320.0 1978.8 322.2 1986.2 324.2 1993.7C326.2 2001.1 328.0 2008.5 329.5 2015.9C331.1 2023.3 332.4 2030.7 333.5 2038.1C334.6 2045.5 335.5 2052.9 336.2 2060.3C336.9 2067.7 337.4 2075.1 337.6 2082.5C337.9 2089.9 338.0 2097.3 337.9 2104.7C337.8 2112.1 337.4 2119.5 336.8 2126.9C336.3 2134.3 335.5 2141.7 334.4 2149.1C333.4 2156.5 332.1 2163.9 330.6 2171.3C329.0 2178.8 327.2 2186.2 325.2 2193.6C323.1 2201.0 320.8 2208.4 318.2 2215.8C315.6 2223.2 312.7 2230.6 309.6 2238.0C306.5 2245.4 303.1 2252.8 299.6 2260.2C296.0 2267.6 292.3 2275.0 288.4 2282.4C284.6 2289.8 280.6 2297.2 276.5 2304.6C272.5 2312.0 268.3 2319.4 264.1 2326.8C259.9 2334.2 255.6 2341.6 251.3 2349.0C247.0 2356.4 242.6 2363.8 238.2 2371.2C233.8 2378.7 229.4 2386.1 224.9 2393.5C220.5 2400.9 216.0 2408.3 211.6 2415.7C207.1 2423.1 202.6 2430.5 198.2 2437.9C193.7 2445.3 189.2 2452.7 184.8 2460.1C180.3 2467.5 175.9 2474.9 171.5 2482.3C167.1 2489.7 162.7 2497.1 158.4 2504.5C154.1 2511.9 149.8 2519.3 145.6 2526.7C141.3 2534.1 137.2 2541.5 133.0 2548.9C128.8 2556.3 124.7 2563.8 120.6 2571.2C116.5 2578.6 112.4 2586.0 108.4 2593.4C104.3 2600.8 100.2 2608.2 96.1 2615.6C92.1 2623.0 88.0 2630.4 83.9 2637.8C79.8 2645.2 73.6 2656.3 71.6 2660.0" fill="none" stroke="#e6a9a9" stroke-width="5" opacity="0.55" filter="url(#b3)"/>
<use href="#p_chan" fill="#fff"/>
<path d="M428.5 2371.2C427.6 2375.0 424.9 2386.1 422.9 2393.5C421.0 2400.9 419.0 2408.3 417.0 2415.7C414.9 2423.1 412.8 2430.5 410.6 2437.9C408.4 2445.3 406.2 2452.7 403.8 2460.1C401.5 2467.5 399.1 2474.9 396.6 2482.3C394.2 2489.7 391.7 2497.1 389.1 2504.5C386.5 2511.9 383.8 2519.3 381.0 2526.7C378.3 2534.1 375.5 2541.5 372.6 2548.9C369.8 2556.3 366.8 2563.8 363.8 2571.2C360.8 2578.6 357.7 2586.0 354.5 2593.4C351.4 2600.8 348.2 2608.2 344.9 2615.6C341.6 2623.0 338.2 2630.4 334.8 2637.8C331.4 2645.2 326.0 2656.3 324.3 2660.0" fill="none" stroke="#8f8f8f" stroke-width="2.2" opacity="0.8"/>
</g>
<path id="p_lbandb" d="M78.0 1505.0C79.1 1507.4 79.1 1504.7 84.5 1519.3C89.9 1533.9 102.5 1567.7 110.5 1592.4C118.5 1617.1 125.3 1642.3 132.5 1667.3C139.7 1692.3 146.9 1717.3 153.7 1742.3C160.6 1767.3 168.8 1798.2 173.9 1817.2C179.0 1836.2 182.5 1842.2 184.4 1856.0C186.4 1869.8 185.7 1876.0 185.5 1900.0C185.3 1924.0 183.8 1966.7 183.0 2000.0C182.2 2033.3 181.7 2064.7 180.5 2100.0C179.3 2135.3 177.5 2182.0 176.0 2212.0C174.5 2242.0 173.4 2262.0 171.7 2280.0C170.0 2298.0 167.8 2308.2 166.0 2320.0C164.2 2331.8 162.2 2337.2 161.2 2351.0C160.2 2364.8 162.7 2385.6 159.9 2403.0C157.2 2420.4 150.7 2438.1 144.6 2455.7C138.5 2473.3 130.1 2490.8 123.5 2508.4C116.9 2526.0 111.9 2543.4 105.0 2561.0C98.1 2578.6 88.5 2600.9 82.3 2613.7C76.1 2626.5 72.2 2630.3 67.8 2638.0C63.4 2645.7 58.0 2656.3 56.0 2660.0L94.1 2660.0C96.1 2656.3 102.2 2645.2 106.4 2637.8C110.6 2630.4 114.9 2623.0 119.2 2615.6C123.4 2608.2 127.8 2600.8 132.1 2593.4C136.4 2586.0 140.7 2578.6 145.1 2571.2C149.4 2563.8 153.8 2556.3 158.2 2548.9C162.6 2541.5 167.0 2534.1 171.5 2526.7C175.9 2519.3 180.2 2511.9 184.7 2504.5C189.1 2497.1 193.6 2489.7 198.2 2482.3C202.7 2474.9 207.3 2467.5 211.8 2460.1C216.4 2452.7 221.0 2445.3 225.6 2437.9C230.2 2430.5 234.8 2423.1 239.4 2415.7C244.0 2408.3 248.8 2400.9 253.4 2393.5C258.1 2386.1 262.8 2378.7 267.4 2371.2C272.1 2363.8 276.7 2356.4 281.2 2349.0C285.8 2341.6 290.3 2334.2 294.8 2326.8C299.2 2319.4 303.6 2312.0 308.0 2304.6C312.3 2297.2 316.6 2289.8 320.6 2282.4C324.7 2275.0 329.0 2267.6 332.4 2260.2C335.8 2252.8 338.4 2245.4 341.0 2238.0C343.6 2230.6 346.0 2223.2 348.2 2215.8C350.3 2208.4 352.1 2201.0 353.7 2193.6C355.3 2186.2 356.6 2178.8 357.7 2171.3C358.7 2163.9 359.5 2156.5 360.1 2149.1C360.7 2141.7 361.0 2134.3 361.1 2126.9C361.3 2119.5 361.3 2112.1 361.1 2104.7C360.8 2097.3 360.4 2089.9 359.7 2082.5C359.1 2075.1 358.2 2067.7 357.1 2060.3C356.1 2052.9 354.8 2045.5 353.3 2038.1C351.9 2030.7 350.1 2023.3 348.3 2015.9C346.4 2008.5 344.3 2001.1 342.0 1993.7C339.7 1986.2 337.1 1978.8 334.4 1971.4C331.6 1964.0 328.6 1956.6 325.3 1949.2C322.1 1941.8 318.7 1934.4 315.0 1927.0C311.4 1919.6 307.5 1912.2 303.7 1904.8C299.8 1897.4 295.9 1890.0 292.1 1882.6C288.3 1875.2 284.7 1867.8 280.9 1860.4C277.0 1853.0 273.1 1845.6 269.2 1838.2C265.2 1830.8 261.2 1823.4 257.2 1816.0C253.3 1808.6 249.2 1801.2 245.3 1793.8C241.4 1786.3 237.5 1778.9 233.8 1771.5C230.0 1764.1 226.3 1756.7 222.7 1749.3C219.0 1741.9 215.5 1734.5 212.0 1727.1C208.5 1719.7 205.0 1712.3 201.6 1704.9C198.1 1697.5 194.7 1690.1 191.4 1682.7C188.0 1675.3 184.7 1667.9 181.4 1660.5C178.2 1653.1 174.9 1645.7 171.6 1638.3C168.4 1630.9 165.3 1623.5 161.9 1616.1C158.5 1608.7 154.9 1601.2 151.2 1593.8C147.6 1586.4 143.9 1579.0 140.1 1571.6C136.4 1564.2 132.5 1556.8 128.9 1549.4C125.2 1542.0 122.0 1534.6 118.3 1527.2C114.6 1519.8 108.7 1508.7 106.8 1505.0Z"/>
<path id="p_lband2b" d="M78.0 1505.0C79.1 1507.4 79.1 1504.7 84.5 1519.3C89.9 1533.9 102.5 1567.7 110.5 1592.4C118.5 1617.1 125.3 1642.3 132.5 1667.3C139.7 1692.3 146.9 1717.3 153.7 1742.3C160.6 1767.3 168.8 1798.2 173.9 1817.2C179.0 1836.2 182.7 1849.5 184.4 1856.0L197.4 1872.0C200.8 1876.7 210.6 1889.5 217.8 1900.0C225.0 1910.5 233.6 1923.3 240.6 1935.0C247.6 1946.7 254.4 1958.6 259.9 1970.3C265.5 1982.0 270.4 1993.7 274.0 2005.4C277.7 2017.1 279.9 2028.8 281.8 2040.5C283.8 2052.2 284.7 2065.8 285.6 2075.7C286.6 2085.6 287.2 2092.3 287.6 2100.0C288.1 2107.7 288.8 2111.3 288.4 2122.0C288.0 2132.7 287.1 2151.0 285.2 2164.0C283.4 2177.0 280.5 2188.8 277.4 2200.0C274.3 2211.2 271.1 2221.0 266.7 2231.0C262.3 2241.0 256.8 2250.6 251.0 2260.0C245.3 2269.4 238.2 2279.5 232.1 2287.3C226.1 2295.1 220.4 2300.8 214.7 2307.0C209.0 2313.2 203.7 2319.6 198.2 2324.8C192.6 2330.0 187.6 2333.6 181.5 2338.0C175.3 2342.4 164.6 2348.8 161.2 2351.0L159.9 2403.0C157.4 2411.8 150.7 2438.1 144.6 2455.7C138.5 2473.3 130.1 2490.8 123.5 2508.4C116.9 2526.0 111.9 2543.4 105.0 2561.0C98.1 2578.6 88.5 2600.9 82.3 2613.7C76.1 2626.5 72.2 2630.3 67.8 2638.0C63.4 2645.7 58.0 2656.3 56.0 2660.0L94.1 2660.0C96.1 2656.3 102.2 2645.2 106.4 2637.8C110.6 2630.4 114.9 2623.0 119.2 2615.6C123.4 2608.2 127.8 2600.8 132.1 2593.4C136.4 2586.0 140.7 2578.6 145.1 2571.2C149.4 2563.8 153.8 2556.3 158.2 2548.9C162.6 2541.5 167.0 2534.1 171.5 2526.7C175.9 2519.3 180.2 2511.9 184.7 2504.5C189.1 2497.1 193.6 2489.7 198.2 2482.3C202.7 2474.9 207.3 2467.5 211.8 2460.1C216.4 2452.7 221.0 2445.3 225.6 2437.9C230.2 2430.5 234.8 2423.1 239.4 2415.7C244.0 2408.3 248.8 2400.9 253.4 2393.5C258.1 2386.1 262.8 2378.7 267.4 2371.2C272.1 2363.8 276.7 2356.4 281.2 2349.0C285.8 2341.6 290.3 2334.2 294.8 2326.8C299.2 2319.4 303.6 2312.0 308.0 2304.6C312.3 2297.2 316.6 2289.8 320.6 2282.4C324.7 2275.0 329.0 2267.6 332.4 2260.2C335.8 2252.8 338.4 2245.4 341.0 2238.0C343.6 2230.6 346.0 2223.2 348.2 2215.8C350.3 2208.4 352.1 2201.0 353.7 2193.6C355.3 2186.2 356.6 2178.8 357.7 2171.3C358.7 2163.9 359.5 2156.5 360.1 2149.1C360.7 2141.7 361.0 2134.3 361.1 2126.9C361.3 2119.5 361.3 2112.1 361.1 2104.7C360.8 2097.3 360.4 2089.9 359.7 2082.5C359.1 2075.1 358.2 2067.7 357.1 2060.3C356.1 2052.9 354.8 2045.5 353.3 2038.1C351.9 2030.7 350.1 2023.3 348.3 2015.9C346.4 2008.5 344.3 2001.1 342.0 1993.7C339.7 1986.2 337.1 1978.8 334.4 1971.4C331.6 1964.0 328.6 1956.6 325.3 1949.2C322.1 1941.8 318.7 1934.4 315.0 1927.0C311.4 1919.6 307.5 1912.2 303.7 1904.8C299.8 1897.4 295.9 1890.0 292.1 1882.6C288.3 1875.2 284.7 1867.8 280.9 1860.4C277.0 1853.0 273.1 1845.6 269.2 1838.2C265.2 1830.8 261.2 1823.4 257.2 1816.0C253.3 1808.6 249.2 1801.2 245.3 1793.8C241.4 1786.3 237.5 1778.9 233.8 1771.5C230.0 1764.1 226.3 1756.7 222.7 1749.3C219.0 1741.9 215.5 1734.5 212.0 1727.1C208.5 1719.7 205.0 1712.3 201.6 1704.9C198.1 1697.5 194.7 1690.1 191.4 1682.7C188.0 1675.3 184.7 1667.9 181.4 1660.5C178.2 1653.1 174.9 1645.7 171.6 1638.3C168.4 1630.9 165.3 1623.5 161.9 1616.1C158.5 1608.7 154.9 1601.2 151.2 1593.8C147.6 1586.4 143.9 1579.0 140.1 1571.6C136.4 1564.2 132.5 1556.8 128.9 1549.4C125.2 1542.0 122.0 1534.6 118.3 1527.2C114.6 1519.8 108.7 1508.7 106.8 1505.0Z"/>
<path id="p_leafb" d="M186.0 1856.0C187.9 1858.7 192.1 1864.7 197.4 1872.0C202.7 1879.3 210.6 1889.5 217.8 1900.0C225.0 1910.5 233.6 1923.3 240.6 1935.0C247.6 1946.7 254.4 1958.6 259.9 1970.3C265.5 1982.0 270.4 1993.7 274.0 2005.4C277.7 2017.1 279.9 2028.8 281.8 2040.5C283.8 2052.2 284.7 2065.8 285.6 2075.7C286.6 2085.6 287.2 2092.3 287.6 2100.0C288.1 2107.7 288.8 2111.3 288.4 2122.0C288.0 2132.7 287.1 2151.0 285.2 2164.0C283.4 2177.0 280.5 2188.8 277.4 2200.0C274.3 2211.2 271.1 2221.0 266.7 2231.0C262.3 2241.0 256.8 2250.6 251.0 2260.0C245.3 2269.4 238.2 2279.5 232.1 2287.3C226.1 2295.1 220.4 2300.8 214.7 2307.0C209.0 2313.2 203.7 2319.6 198.2 2324.8C192.6 2330.0 187.6 2333.6 181.5 2338.0C175.3 2342.4 164.6 2348.8 161.2 2351.0L161.2 2351.0C162.0 2345.8 164.2 2331.8 166.0 2320.0C167.8 2308.2 170.0 2298.0 171.7 2280.0C173.4 2262.0 174.5 2242.0 176.0 2212.0C177.5 2182.0 179.3 2135.3 180.5 2100.0C181.7 2064.7 182.2 2033.3 183.0 2000.0C183.8 1966.7 185.0 1924.0 185.5 1900.0C186.0 1876.0 185.9 1863.3 186.0 1856.0Z"/>
<path id="p_chanb" d="M88.8 1505.0C90.7 1508.7 96.6 1519.8 100.3 1527.2C104.0 1534.6 107.2 1542.0 110.9 1549.4C114.5 1556.8 118.4 1564.2 122.1 1571.6C125.9 1579.0 129.6 1586.4 133.2 1593.8C136.9 1601.2 140.5 1608.7 143.9 1616.1C147.3 1623.5 150.4 1630.9 153.6 1638.3C156.9 1645.7 160.2 1653.1 163.4 1660.5C166.7 1667.9 170.0 1675.3 173.4 1682.7C176.7 1690.1 180.1 1697.5 183.6 1704.9C187.0 1712.3 190.5 1719.7 194.0 1727.1C197.5 1734.5 201.0 1741.9 204.7 1749.3C208.3 1756.7 212.0 1764.1 215.8 1771.5C219.5 1778.9 223.4 1786.3 227.3 1793.8C231.2 1801.2 235.3 1808.6 239.2 1816.0C243.2 1823.4 247.2 1830.8 251.2 1838.2C255.1 1845.6 259.0 1853.0 262.9 1860.4C266.7 1867.8 270.3 1875.2 274.1 1882.6C277.9 1890.0 281.8 1897.4 285.7 1904.8C289.5 1912.2 293.4 1919.6 297.0 1927.0C300.7 1934.4 304.1 1941.8 307.3 1949.2C310.6 1956.6 313.6 1964.0 316.4 1971.4C319.1 1978.8 321.7 1986.2 324.0 1993.7C326.3 2001.1 328.4 2008.5 330.3 2015.9C332.1 2023.3 333.9 2030.7 335.3 2038.1C336.8 2045.5 338.1 2052.9 339.1 2060.3C340.2 2067.7 341.1 2075.1 341.7 2082.5C342.4 2089.9 342.8 2097.3 343.1 2104.7C343.3 2112.1 343.3 2119.5 343.1 2126.9C343.0 2134.3 342.7 2141.7 342.1 2149.1C341.5 2156.5 340.7 2163.9 339.7 2171.3C338.6 2178.8 337.3 2186.2 335.7 2193.6C334.1 2201.0 332.3 2208.4 330.2 2215.8C328.0 2223.2 325.6 2230.6 323.0 2238.0C320.4 2245.4 317.8 2252.8 314.4 2260.2C311.0 2267.6 306.7 2275.0 302.6 2282.4C298.6 2289.8 294.3 2297.2 290.0 2304.6C285.6 2312.0 281.2 2319.4 276.8 2326.8C272.3 2334.2 267.8 2341.6 263.2 2349.0C258.7 2356.4 254.1 2363.8 249.4 2371.2C244.8 2378.7 240.1 2386.1 235.4 2393.5C230.8 2400.9 226.0 2408.3 221.4 2415.7C216.8 2423.1 212.2 2430.5 207.6 2437.9C203.0 2445.3 198.4 2452.7 193.8 2460.1C189.3 2467.5 184.7 2474.9 180.2 2482.3C175.6 2489.7 171.1 2497.1 166.7 2504.5C162.2 2511.9 157.9 2519.3 153.5 2526.7C149.0 2534.1 144.6 2541.5 140.2 2548.9C135.8 2556.3 131.4 2563.8 127.1 2571.2C122.7 2578.6 118.4 2586.0 114.1 2593.4C109.8 2600.8 105.4 2608.2 101.2 2615.6C96.9 2623.0 92.6 2630.4 88.4 2637.8C84.2 2645.2 78.1 2656.3 76.1 2660.0L328.9 2660.0C330.6 2656.3 336.0 2645.2 339.4 2637.8C342.8 2630.4 346.0 2623.0 349.2 2615.6C352.3 2608.2 355.4 2600.8 358.4 2593.4C361.4 2586.0 364.3 2578.6 367.2 2571.2C370.1 2563.8 372.8 2556.3 375.6 2548.9C378.3 2541.5 381.0 2534.1 383.7 2526.7C386.4 2519.3 389.2 2511.9 391.9 2504.5C394.5 2497.1 397.1 2489.7 399.7 2482.3C402.2 2474.9 404.6 2467.5 407.0 2460.1C409.4 2452.7 411.7 2445.3 414.0 2437.9C416.2 2430.5 418.5 2423.1 420.5 2415.7C422.6 2408.3 424.5 2400.9 426.4 2393.5C428.3 2386.1 430.1 2378.7 431.8 2371.2C433.6 2363.8 435.2 2356.4 436.8 2349.0C438.4 2341.6 440.0 2334.2 441.4 2326.8C442.9 2319.4 444.3 2312.0 445.6 2304.6C447.0 2297.2 448.2 2289.8 449.4 2282.4C450.6 2275.0 451.7 2267.6 452.9 2260.2C454.0 2252.8 455.1 2245.4 456.2 2238.0C457.2 2230.6 458.2 2223.2 459.1 2215.8C460.0 2208.4 460.9 2201.0 461.7 2193.6C462.5 2186.2 463.2 2178.8 463.8 2171.3C464.5 2163.9 465.1 2156.5 465.6 2149.1C466.1 2141.7 466.6 2134.3 466.9 2126.9C467.3 2119.5 467.5 2112.1 467.6 2104.7C467.8 2097.3 467.9 2089.9 468.0 2082.5C468.0 2075.1 468.0 2067.7 467.9 2060.3C467.9 2052.9 467.7 2045.5 467.5 2038.1C467.3 2030.7 467.1 2023.3 466.7 2015.9C466.3 2008.5 465.8 2001.1 465.2 1993.7C464.7 1986.2 464.0 1978.8 463.3 1971.4C462.6 1964.0 461.8 1956.6 461.0 1949.2C460.2 1941.8 459.3 1934.4 458.3 1927.0C457.3 1919.6 456.3 1912.2 455.2 1904.8C454.2 1897.4 453.0 1890.0 451.9 1882.6C450.7 1875.2 449.5 1867.8 448.3 1860.4C447.0 1853.0 445.7 1845.6 444.3 1838.2C442.9 1830.8 441.5 1823.4 440.0 1816.0C438.5 1808.6 436.9 1801.2 435.3 1793.8C433.6 1786.3 432.0 1778.9 430.2 1771.5C428.5 1764.1 426.6 1756.7 424.8 1749.3C422.9 1741.9 421.0 1734.5 419.0 1727.1C416.9 1719.7 414.7 1712.3 412.5 1704.9C410.3 1697.5 407.9 1690.1 405.5 1682.7C403.2 1675.3 400.7 1667.9 398.2 1660.5C395.7 1653.1 393.2 1645.7 390.6 1638.3C387.9 1630.9 385.3 1623.5 382.5 1616.1C379.8 1608.7 377.0 1601.2 374.2 1593.8C371.3 1586.4 368.4 1579.0 365.4 1571.6C362.5 1564.2 359.3 1556.8 356.4 1549.4C353.5 1542.0 350.9 1534.6 348.0 1527.2C345.1 1519.8 340.5 1508.7 339.0 1505.0Z"/>
<path id="p_rbandb" d="M321.0 1505.0C322.5 1508.7 327.1 1519.8 330.0 1527.2C332.9 1534.6 335.5 1542.0 338.4 1549.4C341.3 1556.8 344.5 1564.2 347.4 1571.6C350.4 1579.0 353.3 1586.4 356.2 1593.8C359.0 1601.2 361.8 1608.7 364.5 1616.1C367.3 1623.5 369.9 1630.9 372.6 1638.3C375.2 1645.7 377.7 1653.1 380.2 1660.5C382.7 1667.9 385.2 1675.3 387.5 1682.7C389.9 1690.1 392.3 1697.5 394.5 1704.9C396.7 1712.3 398.9 1719.7 401.0 1727.1C403.0 1734.5 404.9 1741.9 406.8 1749.3C408.6 1756.7 410.5 1764.1 412.2 1771.5C414.0 1778.9 415.6 1786.3 417.3 1793.8C418.9 1801.2 420.5 1808.6 422.0 1816.0C423.5 1823.4 424.9 1830.8 426.3 1838.2C427.7 1845.6 429.0 1853.0 430.3 1860.4C431.5 1867.8 432.7 1875.2 433.9 1882.6C435.0 1890.0 436.2 1897.4 437.2 1904.8C438.3 1912.2 439.3 1919.6 440.3 1927.0C441.3 1934.4 442.2 1941.8 443.0 1949.2C443.8 1956.6 444.6 1964.0 445.3 1971.4C446.0 1978.8 446.7 1986.2 447.2 1993.7C447.8 2001.1 448.3 2008.5 448.7 2015.9C449.1 2023.3 449.3 2030.7 449.5 2038.1C449.7 2045.5 449.9 2052.9 449.9 2060.3C450.0 2067.7 450.0 2075.1 450.0 2082.5C449.9 2089.9 449.8 2097.3 449.6 2104.7C449.5 2112.1 449.3 2119.5 448.9 2126.9C448.6 2134.3 448.1 2141.7 447.6 2149.1C447.1 2156.5 446.5 2163.9 445.8 2171.3C445.2 2178.8 444.5 2186.2 443.7 2193.6C442.9 2201.0 442.0 2208.4 441.1 2215.8C440.2 2223.2 439.2 2230.6 438.2 2238.0C437.1 2245.4 436.0 2252.8 434.9 2260.2C433.7 2267.6 432.6 2275.0 431.4 2282.4C430.2 2289.8 429.0 2297.2 427.6 2304.6C426.3 2312.0 424.9 2319.4 423.4 2326.8C422.0 2334.2 420.4 2341.6 418.8 2349.0C417.2 2356.4 415.6 2363.8 413.8 2371.2C412.1 2378.7 410.3 2386.1 408.4 2393.5C406.5 2400.9 404.6 2408.3 402.5 2415.7C400.5 2423.1 398.2 2430.5 396.0 2437.9C393.7 2445.3 391.4 2452.7 389.0 2460.1C386.6 2467.5 384.2 2474.9 381.7 2482.3C379.1 2489.7 376.5 2497.1 373.9 2504.5C371.2 2511.9 368.4 2519.3 365.7 2526.7C363.0 2534.1 360.3 2541.5 357.6 2548.9C354.8 2556.3 352.1 2563.8 349.2 2571.2C346.3 2578.6 343.4 2586.0 340.4 2593.4C337.4 2600.8 334.3 2608.2 331.2 2615.6C328.0 2623.0 324.8 2630.4 321.4 2637.8C318.0 2645.2 312.6 2656.3 310.9 2660.0L379.9 2660.0C381.5 2656.3 386.6 2645.2 389.9 2637.8C393.3 2630.4 396.6 2623.0 399.9 2615.6C403.2 2608.2 406.4 2600.8 409.6 2593.4C412.7 2586.0 415.8 2578.6 418.9 2571.2C421.9 2563.8 424.9 2556.3 427.8 2548.9C430.7 2541.5 433.5 2534.1 436.2 2526.7C439.0 2519.3 441.7 2511.9 444.3 2504.5C446.9 2497.1 449.4 2489.7 451.9 2482.3C454.4 2474.9 456.8 2467.5 459.2 2460.1C461.5 2452.7 463.8 2445.3 466.0 2437.9C468.2 2430.5 470.4 2423.1 472.5 2415.7C474.5 2408.3 476.4 2400.9 478.3 2393.5C480.1 2386.1 481.9 2378.7 483.6 2371.2C485.3 2363.8 487.0 2356.4 488.5 2349.0C490.1 2341.6 491.6 2334.2 493.1 2326.8C494.6 2319.4 496.0 2312.0 497.3 2304.6C498.6 2297.2 499.9 2289.8 501.1 2282.4C502.3 2275.0 503.4 2267.6 504.5 2260.2C505.6 2252.8 506.6 2245.4 507.6 2238.0C508.5 2230.6 509.4 2223.2 510.3 2215.8C511.1 2208.4 511.9 2201.0 512.6 2193.6C513.3 2186.2 513.9 2178.8 514.5 2171.3C515.1 2163.9 515.6 2156.5 516.1 2149.1C516.5 2141.7 516.9 2134.3 517.3 2126.9C517.6 2119.5 517.9 2112.1 518.1 2104.7C518.3 2097.3 518.5 2089.9 518.6 2082.5C518.7 2075.1 518.7 2067.7 518.7 2060.3C518.7 2052.9 518.6 2045.5 518.5 2038.1C518.3 2030.7 518.2 2023.3 517.9 2015.9C517.6 2008.5 517.1 2001.1 516.6 1993.7C516.1 1986.2 515.6 1978.8 514.9 1971.4C514.3 1964.0 513.6 1956.6 512.9 1949.2C512.2 1941.8 511.4 1934.4 510.5 1927.0C509.7 1919.6 508.7 1912.2 507.8 1904.8C506.8 1897.4 505.9 1890.0 504.9 1882.6C503.9 1875.2 503.0 1867.8 502.0 1860.4C500.9 1853.0 499.8 1845.6 498.7 1838.2C497.5 1830.8 496.3 1823.4 495.1 1816.0C493.8 1808.6 492.5 1801.2 491.1 1793.8C489.7 1786.3 488.3 1778.9 486.8 1771.5C485.3 1764.1 483.8 1756.7 482.2 1749.3C480.6 1741.9 479.0 1734.5 477.2 1727.1C475.4 1719.7 473.4 1712.3 471.4 1704.9C469.4 1697.5 467.2 1690.1 465.0 1682.7C462.8 1675.3 460.6 1667.9 458.3 1660.5C456.0 1653.1 453.7 1645.7 451.3 1638.3C448.9 1630.9 446.5 1623.5 443.9 1616.1C441.4 1608.7 438.8 1601.2 436.1 1593.8C433.5 1586.4 430.8 1579.0 428.0 1571.6C425.2 1564.2 422.3 1556.8 419.6 1549.4C416.8 1542.0 414.3 1534.6 411.5 1527.2C408.8 1519.8 404.6 1508.7 403.2 1505.0Z"/>
<path id="p_wedgeb" d="M321.0 1505.0C322.5 1508.7 327.1 1519.8 330.0 1527.2C332.9 1534.6 335.5 1542.0 338.4 1549.4C341.3 1556.8 344.5 1564.2 347.4 1571.6C350.4 1579.0 353.3 1586.4 356.2 1593.8C359.0 1601.2 361.8 1608.7 364.5 1616.1C367.3 1623.5 369.9 1630.9 372.6 1638.3C375.2 1645.7 377.7 1653.1 380.2 1660.5C382.7 1667.9 385.2 1675.3 387.5 1682.7C389.9 1690.1 392.3 1697.5 394.5 1704.9C396.7 1712.3 398.9 1719.7 401.0 1727.1C403.0 1734.5 404.9 1741.9 406.8 1749.3C408.6 1756.7 410.5 1764.1 412.2 1771.5C414.0 1778.9 415.6 1786.3 417.3 1793.8C418.9 1801.2 420.5 1808.6 422.0 1816.0C423.5 1823.4 425.6 1834.5 426.3 1838.2L448.6 1830.0C447.7 1823.3 444.8 1803.3 442.9 1790.0C441.0 1776.7 439.4 1764.2 437.2 1750.0C434.9 1735.8 432.9 1720.3 429.6 1705.0C426.2 1689.7 421.3 1673.7 417.3 1658.0C413.3 1642.3 409.1 1626.7 405.5 1611.0C401.9 1595.3 398.7 1579.2 395.4 1564.0C392.2 1548.8 388.6 1529.5 386.0 1519.7C383.4 1509.9 381.0 1507.5 380.0 1505.0Z"/>
<g id="bgb">
<rect x="30" y="1500" width="540" height="1170" fill="url(#gdark)"/>
<ellipse cx="143" cy="2066" rx="30" ry="11" fill="#5e1d1d" opacity="0.55" filter="url(#b12)"/>
<use href="#p_lbandb" fill="url(#glb)" filter="url(#b6)"/>
<use href="#p_rbandb" fill="url(#grb)" filter="url(#b3)"/>
<use href="#p_lband2b" fill="#fff" filter="url(#spk)" opacity="0.42"/>
<path d="M389.0 1505.0C390.0 1507.5 392.4 1509.9 395.0 1519.7C397.6 1529.5 401.2 1548.8 404.4 1564.0C407.7 1579.2 410.9 1595.3 414.5 1611.0C418.1 1626.7 422.3 1642.3 426.3 1658.0C430.3 1673.7 435.2 1689.7 438.6 1705.0C441.9 1720.3 443.9 1735.8 446.2 1750.0C448.4 1764.2 450.0 1776.7 451.9 1790.0C453.8 1803.3 456.7 1823.3 457.6 1830.0" fill="none" stroke="url(#ghl)" stroke-width="22" filter="url(#b6w)"/>
<use href="#p_rbandb" fill="#fff" filter="url(#spk)" opacity="0.5"/>
<use href="#p_leafb" fill="url(#glf)" filter="url(#b3)"/>
<use href="#p_wedgeb" fill="#de9e9e" filter="url(#b3)"/>
<path d="M197.4 1872.0C200.8 1876.7 210.6 1889.5 217.8 1900.0C225.0 1910.5 233.6 1923.3 240.6 1935.0C247.6 1946.7 254.4 1958.6 259.9 1970.3C265.5 1982.0 270.4 1993.7 274.0 2005.4C277.7 2017.1 279.9 2028.8 281.8 2040.5C283.8 2052.2 284.7 2065.8 285.6 2075.7C286.6 2085.6 287.2 2092.3 287.6 2100.0C288.1 2107.7 288.8 2111.3 288.4 2122.0C288.0 2132.7 287.1 2151.0 285.2 2164.0C283.4 2177.0 278.7 2194.0 277.4 2200.0" fill="none" stroke="#e9b3b3" stroke-width="1.6" opacity="0.75" filter="url(#b1)"/>
<path d="M293.6 2282.4C291.5 2286.1 285.3 2297.2 281.0 2304.6C276.6 2312.0 272.2 2319.4 267.8 2326.8C263.3 2334.2 258.8 2341.6 254.2 2349.0C249.7 2356.4 245.1 2363.8 240.4 2371.2C235.8 2378.7 231.1 2386.1 226.4 2393.5C221.8 2400.9 217.0 2408.3 212.4 2415.7C207.8 2423.1 203.2 2430.5 198.6 2437.9C194.0 2445.3 189.4 2452.7 184.8 2460.1C180.3 2467.5 175.7 2474.9 171.2 2482.3C166.6 2489.7 162.1 2497.1 157.7 2504.5C153.2 2511.9 148.9 2519.3 144.5 2526.7C140.0 2534.1 135.6 2541.5 131.2 2548.9C126.8 2556.3 122.4 2563.8 118.1 2571.2C113.7 2578.6 109.4 2586.0 105.1 2593.4C100.8 2600.8 96.4 2608.2 92.2 2615.6C87.9 2623.0 83.6 2630.4 79.4 2637.8C75.2 2645.2 69.1 2656.3 67.1 2660.0" fill="none" stroke="#eeb6b6" stroke-width="1.6" opacity="0.8" filter="url(#b1)"/>
<path d="M87.3 1505.0C89.2 1508.7 95.1 1519.8 98.8 1527.2C102.5 1534.6 105.7 1542.0 109.4 1549.4C113.0 1556.8 116.9 1564.2 120.6 1571.6C124.4 1579.0 128.1 1586.4 131.7 1593.8C135.4 1601.2 139.0 1608.7 142.4 1616.1C145.8 1623.5 148.9 1630.9 152.1 1638.3C155.4 1645.7 158.7 1653.1 161.9 1660.5C165.2 1667.9 168.5 1675.3 171.9 1682.7C175.2 1690.1 178.6 1697.5 182.1 1704.9C185.5 1712.3 189.0 1719.7 192.5 1727.1C196.0 1734.5 199.5 1741.9 203.2 1749.3C206.8 1756.7 210.5 1764.1 214.3 1771.5C218.0 1778.9 221.9 1786.3 225.8 1793.8C229.7 1801.2 233.8 1808.6 237.7 1816.0C241.7 1823.4 245.7 1830.8 249.7 1838.2C253.6 1845.6 257.5 1853.0 261.4 1860.4C265.2 1867.8 268.8 1875.2 272.6 1882.6C276.4 1890.0 280.3 1897.4 284.2 1904.8C288.0 1912.2 291.9 1919.6 295.5 1927.0C299.2 1934.4 302.6 1941.8 305.8 1949.2C309.1 1956.6 312.1 1964.0 314.9 1971.4C317.6 1978.8 320.2 1986.2 322.5 1993.7C324.8 2001.1 326.9 2008.5 328.8 2015.9C330.6 2023.3 332.4 2030.7 333.8 2038.1C335.3 2045.5 336.6 2052.9 337.6 2060.3C338.7 2067.7 339.6 2075.1 340.2 2082.5C340.9 2089.9 341.3 2097.3 341.6 2104.7C341.8 2112.1 341.8 2119.5 341.6 2126.9C341.5 2134.3 341.2 2141.7 340.6 2149.1C340.0 2156.5 339.2 2163.9 338.2 2171.3C337.1 2178.8 335.8 2186.2 334.2 2193.6C332.6 2201.0 330.8 2208.4 328.7 2215.8C326.5 2223.2 324.1 2230.6 321.5 2238.0C318.9 2245.4 316.3 2252.8 312.9 2260.2C309.5 2267.6 305.2 2275.0 301.1 2282.4C297.1 2289.8 292.8 2297.2 288.5 2304.6C284.1 2312.0 279.7 2319.4 275.3 2326.8C270.8 2334.2 266.3 2341.6 261.7 2349.0C257.2 2356.4 252.6 2363.8 247.9 2371.2C243.3 2378.7 238.6 2386.1 233.9 2393.5C229.3 2400.9 224.5 2408.3 219.9 2415.7C215.3 2423.1 210.7 2430.5 206.1 2437.9C201.5 2445.3 196.9 2452.7 192.3 2460.1C187.8 2467.5 183.2 2474.9 178.7 2482.3C174.1 2489.7 169.6 2497.1 165.2 2504.5C160.7 2511.9 156.4 2519.3 152.0 2526.7C147.5 2534.1 143.1 2541.5 138.7 2548.9C134.3 2556.3 129.9 2563.8 125.6 2571.2C121.2 2578.6 116.9 2586.0 112.6 2593.4C108.3 2600.8 103.9 2608.2 99.7 2615.6C95.4 2623.0 91.1 2630.4 86.9 2637.8C82.7 2645.2 76.6 2656.3 74.6 2660.0" fill="none" stroke="#e6a9a9" stroke-width="5" opacity="0.55" filter="url(#b3)"/>
<use href="#p_chanb" fill="#fff"/>
<path d="M431.2 2371.2C430.3 2375.0 427.7 2386.1 425.8 2393.5C423.9 2400.9 422.0 2408.3 419.9 2415.7C417.9 2423.1 415.6 2430.5 413.4 2437.9C411.1 2445.3 408.8 2452.7 406.4 2460.1C404.0 2467.5 401.6 2474.9 399.1 2482.3C396.5 2489.7 393.9 2497.1 391.3 2504.5C388.6 2511.9 385.8 2519.3 383.1 2526.7C380.4 2534.1 377.7 2541.5 375.0 2548.9C372.2 2556.3 369.5 2563.8 366.6 2571.2C363.7 2578.6 360.8 2586.0 357.8 2593.4C354.8 2600.8 351.7 2608.2 348.6 2615.6C345.4 2623.0 342.2 2630.4 338.8 2637.8C335.4 2645.2 330.0 2656.3 328.3 2660.0" fill="none" stroke="#8f8f8f" stroke-width="2.2" opacity="0.8"/>
</g>
</defs>
<clipPath id="pc1"><rect x="47.0" y="1520.0" width="501.0" height="1116.0"/></clipPath>
<g clip-path="url(#pc1)"><use href="#bg" transform="translate(0.0,0.0)"/></g>
<g><path fill="#0d8ec7" d="M106.9 1530.5L122.5 1547.8L124.6 1545.8L108.3 1529.3Z"/><path fill="#1499d4" d="M132.0 1555.7L121.4 1550.9L122.2 1545.4Z"/><path fill="#0a6f9c" d="M132.0 1555.7L127.8 1544.8L122.2 1545.4Z"/>
<path fill="#0d71c4" d="M141.5 1530.5L156.6 1545.2L158.3 1543.3L142.5 1529.3Z"/><path fill="#147cd0" d="M165.4 1551.7L155.7 1548.1L156.2 1543.1Z"/><path fill="#0a5898" d="M165.4 1551.7L161.1 1542.2L156.2 1543.1Z"/>
<path fill="#0d54c0" d="M175.9 1530.4L188.7 1545.1L190.5 1543.5L176.9 1529.4Z"/><path fill="#145dcd" d="M196.3 1551.7L187.7 1547.7L188.5 1543.1Z"/><path fill="#0a4195" d="M196.3 1551.7L193.1 1542.7L188.5 1543.1Z"/>
<path fill="#0d39bc" d="M210.5 1530.4L223.6 1539.4L224.7 1537.7L211.1 1529.4Z"/><path fill="#1442c9" d="M230.7 1542.8L223.5 1541.3L223.1 1537.9Z"/><path fill="#0a2c91" d="M230.7 1542.8L226.4 1536.8L223.1 1537.9Z"/>
<path fill="#0d39bc" d="M244.9 1530.4L258.2 1537.6L259.1 1535.8L245.5 1529.4Z"/><path fill="#1442c9" d="M265.1 1540.0L258.3 1539.2L257.6 1536.2Z"/><path fill="#0a2c91" d="M265.1 1540.0L260.5 1534.9L257.6 1536.2Z"/>
<path fill="#0d39bc" d="M279.2 1530.4L291.0 1539.4L292.2 1537.8L280.0 1529.4Z"/><path fill="#1442c9" d="M297.4 1542.8L290.9 1541.0L290.7 1537.9Z"/><path fill="#0a2c91" d="M297.4 1542.8L293.7 1537.2L290.7 1537.9Z"/>
<path fill="#0d39bc" d="M313.6 1530.4L325.5 1541.2L326.7 1539.7L314.4 1529.4Z"/><path fill="#1442c9" d="M332.0 1545.6L325.0 1543.1L325.2 1539.6Z"/><path fill="#0a2c91" d="M332.0 1545.6L328.6 1539.0L325.2 1539.6Z"/>
<path fill="#0d54c0" d="M347.9 1530.3L357.7 1545.0L359.4 1543.8L348.9 1529.5Z"/><path fill="#145dcd" d="M363.6 1551.7L356.4 1547.2L357.7 1543.3Z"/><path fill="#0a4195" d="M363.6 1551.7L361.9 1543.4L357.7 1543.3Z"/>
<path fill="#0d8ec7" d="M124.2 1565.0L143.0 1581.3L144.9 1578.9L125.4 1563.5Z"/><path fill="#1499d4" d="M154.1 1588.4L142.2 1584.7L142.3 1578.7Z"/><path fill="#0a6f9c" d="M154.1 1588.4L148.2 1577.4L142.3 1578.7Z"/>
<path fill="#0d7dc5" d="M158.6 1565.0L175.5 1580.1L177.4 1578.0L159.8 1563.6Z"/><path fill="#1488d2" d="M185.4 1586.8L174.7 1583.3L175.0 1577.8Z"/><path fill="#0a629a" d="M185.4 1586.8L180.3 1576.7L175.0 1577.8Z"/>
<path fill="#0d60c1" d="M193.2 1564.9L209.7 1575.9L211.0 1573.8L194.0 1563.7Z"/><path fill="#146ace" d="M218.9 1580.2L209.4 1578.6L209.0 1574.0Z"/><path fill="#0a4a96" d="M218.9 1580.2L213.4 1572.3L209.0 1574.0Z"/>
<path fill="#0d54c0" d="M227.6 1564.9L242.9 1575.8L244.2 1573.9L228.4 1563.7Z"/><path fill="#145dcd" d="M251.4 1580.2L242.5 1578.4L242.3 1574.0Z"/><path fill="#0a4195" d="M251.4 1580.2L246.5 1572.6L242.3 1574.0Z"/>
<path fill="#0d43be" d="M262.0 1564.8L275.6 1575.0L276.8 1573.3L262.8 1563.8Z"/><path fill="#144ccb" d="M283.0 1579.0L275.2 1577.3L275.1 1573.4Z"/><path fill="#0a3492" d="M283.0 1579.0L278.8 1572.2L275.1 1573.4Z"/>
<path fill="#0d43be" d="M296.4 1564.8L310.7 1575.0L311.9 1573.2L297.2 1563.7Z"/><path fill="#144ccb" d="M318.6 1579.0L310.3 1577.5L310.2 1573.3Z"/><path fill="#0a3492" d="M318.6 1579.0L314.1 1572.0L310.2 1573.3Z"/>
<path fill="#0d3ebd" d="M330.8 1564.8L343.1 1575.4L344.4 1573.9L331.6 1563.8Z"/><path fill="#1447ca" d="M349.9 1579.7L342.7 1577.5L342.8 1573.8Z"/><path fill="#0a3092" d="M349.9 1579.7L346.3 1573.1L342.8 1573.8Z"/>
<path fill="#0d8bc7" d="M141.4 1599.4L159.5 1615.9L161.6 1613.6L142.6 1598.0Z"/><path fill="#1496d4" d="M170.3 1623.2L158.7 1619.3L159.0 1613.4Z"/><path fill="#0a6d9c" d="M170.3 1623.2L164.8 1612.2L159.0 1613.4Z"/>
<path fill="#0d7fc5" d="M175.8 1599.4L193.7 1614.1L195.5 1611.8L177.0 1598.0Z"/><path fill="#148ad2" d="M204.1 1620.5L193.0 1617.3L193.1 1611.8Z"/><path fill="#0a639a" d="M204.1 1620.5L198.4 1610.4L193.1 1611.8Z"/>
<path fill="#0d69c3" d="M210.4 1599.3L227.6 1611.2L229.0 1609.0L211.2 1598.0Z"/><path fill="#1473cf" d="M237.4 1616.0L227.2 1614.1L226.9 1609.2Z"/><path fill="#0a5197" d="M237.4 1616.0L231.6 1607.5L226.9 1609.2Z"/>
<path fill="#0d52c0" d="M244.8 1599.3L260.4 1609.6L261.7 1607.7L245.6 1598.1Z"/><path fill="#145ccd" d="M269.1 1613.7L260.1 1612.3L259.8 1607.9Z"/><path fill="#0a4094" d="M269.1 1613.7L263.9 1606.3L259.8 1607.9Z"/>
<path fill="#0d44be" d="M279.3 1599.2L293.7 1608.9L294.9 1607.1L279.9 1598.1Z"/><path fill="#144ecb" d="M301.6 1612.6L293.4 1611.3L293.1 1607.3Z"/><path fill="#0a3593" d="M301.6 1612.6L296.9 1605.8L293.1 1607.3Z"/>
<path fill="#0d42be" d="M313.6 1599.2L327.2 1609.4L328.4 1607.7L314.4 1598.2Z"/><path fill="#144bca" d="M334.7 1613.4L326.8 1611.7L326.7 1607.8Z"/><path fill="#0a3392" d="M334.7 1613.4L330.5 1606.6L326.7 1607.8Z"/>
<path fill="#0d45be" d="M348.0 1599.2L360.9 1610.5L362.2 1608.9L348.8 1598.2Z"/><path fill="#144ecb" d="M368.1 1615.2L360.3 1612.8L360.5 1608.8Z"/><path fill="#0a3593" d="M368.1 1615.2L364.4 1607.9L360.5 1608.8Z"/>
<path fill="#0d9bc9" d="M158.5 1633.8L177.0 1652.6L179.3 1650.2L159.9 1632.3Z"/><path fill="#14a7d5" d="M188.2 1661.2L175.9 1656.2L176.5 1649.8Z"/><path fill="#0a7a9d" d="M188.2 1661.2L182.9 1649.0L176.5 1649.8Z"/>
<path fill="#0d83c6" d="M193.1 1633.8L211.9 1648.1L213.7 1645.7L194.1 1632.3Z"/><path fill="#148ed3" d="M222.9 1654.1L211.4 1651.4L211.2 1645.7Z"/><path fill="#0a669a" d="M222.9 1654.1L216.6 1644.1L211.2 1645.7Z"/>
<path fill="#0d6cc3" d="M227.6 1633.8L245.8 1645.0L247.2 1642.7L228.4 1632.4Z"/><path fill="#1476d0" d="M256.1 1649.5L245.6 1648.1L245.0 1643.0Z"/><path fill="#0a5498" d="M256.1 1649.5L249.7 1641.0L245.0 1643.0Z"/>
<path fill="#0d49bf" d="M262.1 1633.7L277.5 1642.6L278.5 1640.7L262.7 1632.5Z"/><path fill="#1452cb" d="M285.8 1646.0L277.3 1645.1L276.7 1641.0Z"/><path fill="#0a3893" d="M285.8 1646.0L280.6 1639.2L276.7 1641.0Z"/>
<path fill="#0d43be" d="M296.5 1633.6L311.1 1642.9L312.2 1641.1L297.1 1632.5Z"/><path fill="#144ccb" d="M319.0 1646.4L310.9 1645.3L310.5 1641.3Z"/><path fill="#0a3492" d="M319.0 1646.4L314.2 1639.7L310.5 1641.3Z"/>
<path fill="#0d43be" d="M330.8 1633.6L343.9 1644.1L345.1 1642.4L331.6 1632.6Z"/><path fill="#144ccb" d="M351.1 1648.3L343.5 1646.3L343.5 1642.4Z"/><path fill="#0a3492" d="M351.1 1648.3L347.2 1641.4L343.5 1642.4Z"/>
<path fill="#0d4ebf" d="M365.1 1633.6L377.7 1647.1L379.3 1645.5L366.1 1632.6Z"/><path fill="#1458cc" d="M385.0 1653.0L376.8 1649.5L377.5 1645.2Z"/><path fill="#0a3d94" d="M385.0 1653.0L381.8 1644.7L377.5 1645.2Z"/>
<path fill="#0d9ac9" d="M175.8 1668.3L196.3 1683.8L198.2 1681.2L177.0 1666.6Z"/><path fill="#14a5d5" d="M208.4 1690.5L195.8 1687.5L195.5 1681.2Z"/><path fill="#0a799d" d="M208.4 1690.5L201.5 1679.5L195.5 1681.2Z"/>
<path fill="#0d8ec7" d="M210.3 1668.3L231.3 1681.4L232.9 1678.7L211.3 1666.6Z"/><path fill="#1499d4" d="M243.4 1686.7L231.1 1684.9L230.3 1679.0Z"/><path fill="#0a6f9c" d="M243.4 1686.7L235.9 1676.8L230.3 1679.0Z"/>
<path fill="#0d73c4" d="M244.8 1668.2L264.4 1678.9L265.7 1676.5L245.6 1666.7Z"/><path fill="#147ed1" d="M275.4 1683.0L264.3 1682.1L263.4 1676.9Z"/><path fill="#0a5a98" d="M275.4 1683.0L268.2 1674.6L263.4 1676.9Z"/>
<path fill="#0d5ac1" d="M279.3 1668.1L296.7 1677.6L297.8 1675.4L279.9 1666.8Z"/><path fill="#1464cd" d="M306.2 1681.2L296.6 1680.4L295.8 1675.8Z"/><path fill="#0a4695" d="M306.2 1681.2L300.0 1673.7L295.8 1675.8Z"/>
<path fill="#0d4ebf" d="M313.6 1668.0L328.9 1678.3L330.1 1676.4L314.4 1666.9Z"/><path fill="#1458cc" d="M337.3 1682.4L328.6 1680.9L328.3 1676.6Z"/><path fill="#0a3d94" d="M337.3 1682.4L332.3 1675.1L328.3 1676.6Z"/>
<path fill="#0d4ebf" d="M347.9 1668.0L361.3 1680.5L362.8 1678.8L348.9 1666.9Z"/><path fill="#1458cc" d="M369.0 1685.8L360.6 1683.0L361.0 1678.7Z"/><path fill="#0a3d94" d="M369.0 1685.8L365.2 1677.8L361.0 1678.7Z"/>
<path fill="#0d57c0" d="M382.3 1668.0L395.1 1682.5L396.9 1680.9L383.3 1667.0Z"/><path fill="#1460cd" d="M402.7 1688.9L394.1 1685.0L394.9 1680.5Z"/><path fill="#0a4395" d="M402.7 1688.9L399.5 1680.0L394.9 1680.5Z"/>
<path fill="#0db3cb" d="M193.1 1702.7L215.8 1717.0L217.5 1714.1L194.1 1701.0Z"/><path fill="#14c0d8" d="M229.0 1722.9L215.5 1720.9L214.7 1714.4Z"/><path fill="#0a8da0" d="M229.0 1722.9L220.7 1712.1L214.7 1714.4Z"/>
<path fill="#0da4c9" d="M227.5 1702.8L251.7 1715.1L253.2 1712.0L228.5 1700.9Z"/><path fill="#14afd6" d="M265.5 1719.9L251.7 1719.0L250.3 1712.6Z"/><path fill="#0a819e" d="M265.5 1719.9L256.2 1709.7L250.3 1712.6Z"/>
<path fill="#0d77c4" d="M262.0 1702.6L282.6 1712.7L283.8 1710.1L262.8 1701.1Z"/><path fill="#1482d1" d="M294.0 1716.4L282.6 1715.9L281.4 1710.6Z"/><path fill="#0a5d99" d="M294.0 1716.4L286.3 1708.0L281.4 1710.6Z"/>
<path fill="#0d66c2" d="M296.5 1702.6L315.6 1711.8L316.6 1709.5L297.1 1701.1Z"/><path fill="#1470cf" d="M326.1 1715.2L315.6 1714.9L314.5 1709.9Z"/><path fill="#0a4f97" d="M326.1 1715.2L319.0 1707.5L314.5 1709.9Z"/>
<path fill="#0d4ebf" d="M330.8 1702.4L345.0 1713.9L346.4 1712.2L331.6 1701.3Z"/><path fill="#1458cc" d="M353.0 1718.7L344.4 1716.5L344.5 1712.2Z"/><path fill="#0a3d94" d="M353.0 1718.7L348.7 1711.0L344.5 1712.2Z"/>
<path fill="#0d5ac1" d="M365.1 1702.4L378.4 1717.0L380.1 1715.3L366.1 1701.3Z"/><path fill="#1463cd" d="M386.2 1723.4L377.4 1719.6L378.1 1714.9Z"/><path fill="#0a4695" d="M386.2 1723.4L382.8 1714.4L378.1 1714.9Z"/>
<path fill="#0d60c1" d="M399.4 1702.3L411.4 1718.9L413.4 1717.3L400.6 1701.4Z"/><path fill="#146ace" d="M418.7 1726.4L410.1 1721.4L411.4 1716.8Z"/><path fill="#0a4a96" d="M418.7 1726.4L416.2 1716.7L411.4 1716.8Z"/>
<path fill="#15cfc6" d="M210.3 1737.3L237.0 1751.6L238.7 1748.2L211.3 1735.2Z"/><path fill="#1ddbd2" d="M252.5 1757.3L237.0 1756.0L235.5 1748.7Z"/><path fill="#11a39c" d="M252.5 1757.3L242.2 1745.6L235.5 1748.7Z"/>
<path fill="#0dc2cc" d="M244.7 1737.3L271.0 1750.9L272.6 1747.5L245.7 1735.2Z"/><path fill="#14cfd9" d="M286.2 1756.1L271.1 1755.1L269.5 1748.0Z"/><path fill="#0a99a1" d="M286.2 1756.1L276.0 1744.9L269.5 1748.0Z"/>
<path fill="#0d8ec7" d="M279.2 1737.1L301.1 1749.1L302.5 1746.3L280.0 1735.4Z"/><path fill="#1499d4" d="M313.6 1753.8L301.0 1752.7L299.9 1746.8Z"/><path fill="#0a6f9c" d="M313.6 1753.8L305.4 1744.2L299.9 1746.8Z"/>
<path fill="#0d83c6" d="M313.5 1737.0L333.9 1749.8L335.5 1747.2L314.5 1735.4Z"/><path fill="#148ed3" d="M345.6 1755.0L333.7 1753.2L333.0 1747.5Z"/><path fill="#0a669a" d="M345.6 1755.0L338.4 1745.3L333.0 1747.5Z"/>
<path fill="#0d71c4" d="M347.8 1736.8L363.3 1752.2L365.2 1750.2L349.0 1735.6Z"/><path fill="#147cd0" d="M372.5 1759.0L362.4 1755.1L363.0 1749.9Z"/><path fill="#0a5898" d="M372.5 1759.0L368.1 1749.1L363.0 1749.9Z"/>
<path fill="#0d6cc3" d="M382.2 1736.8L395.7 1753.6L397.7 1751.9L383.4 1735.7Z"/><path fill="#1476d0" d="M403.9 1761.3L394.4 1756.4L395.5 1751.4Z"/><path fill="#0a5498" d="M403.9 1761.3L400.7 1751.1L395.5 1751.4Z"/>
<path fill="#15cfc6" d="M227.6 1771.7L254.7 1783.0L256.1 1779.5L228.4 1769.6Z"/><path fill="#1ddbd2" d="M270.2 1787.0L255.1 1787.2L253.0 1780.4Z"/><path fill="#11a39c" d="M270.2 1787.0L259.2 1776.7L253.0 1780.4Z"/>
<path fill="#0dc9cd" d="M261.9 1771.7L289.0 1784.5L290.5 1781.0L262.9 1769.6Z"/><path fill="#14d6da" d="M304.6 1789.4L289.2 1788.8L287.4 1781.7Z"/><path fill="#0a9fa2" d="M304.6 1789.4L293.9 1778.3L287.4 1781.7Z"/>
<path fill="#0dbbcc" d="M296.3 1771.6L321.8 1786.0L323.5 1782.7L297.3 1769.6Z"/><path fill="#14c7d8" d="M336.6 1791.7L321.7 1790.2L320.4 1783.1Z"/><path fill="#0a93a0" d="M336.6 1791.7L326.9 1780.3L320.4 1783.1Z"/>
<path fill="#0d9bc9" d="M330.6 1771.5L351.6 1788.0L353.6 1785.3L331.8 1769.8Z"/><path fill="#14a7d5" d="M364.0 1795.2L350.9 1791.8L350.7 1785.3Z"/><path fill="#0a7a9d" d="M364.0 1795.2L357.0 1783.6L350.7 1785.3Z"/>
<path fill="#0d83c6" d="M364.9 1771.3L381.4 1789.0L383.6 1786.9L366.3 1770.0Z"/><path fill="#148ed3" d="M391.4 1797.1L380.2 1792.3L381.0 1786.5Z"/><path fill="#0a669a" d="M391.4 1797.1L386.8 1785.8L381.0 1786.5Z"/>
<path fill="#0d7dc5" d="M399.3 1771.2L412.6 1790.7L415.0 1789.0L400.7 1770.1Z"/><path fill="#1488d2" d="M421.1 1799.9L411.0 1793.7L412.7 1788.2Z"/><path fill="#0a629a" d="M421.1 1799.9L418.3 1788.4L412.7 1788.2Z"/>
<path fill="#33cfa9" d="M244.8 1806.3L277.2 1818.0L278.6 1813.8L245.6 1803.7Z"/><path fill="#3bdbb5" d="M295.8 1821.9L277.9 1822.9L275.0 1815.0Z"/><path fill="#28a385" d="M295.8 1821.9L282.1 1810.4L275.0 1815.0Z"/>
<path fill="#27cfb4" d="M279.1 1806.2L308.3 1820.6L310.1 1816.8L280.1 1803.8Z"/><path fill="#2fdbc0" d="M325.3 1826.1L308.5 1825.2L306.6 1817.5Z"/><path fill="#1fa38e" d="M325.3 1826.1L313.7 1813.9L306.6 1817.5Z"/>
<path fill="#15cfc6" d="M313.4 1806.1L340.3 1822.5L342.3 1819.0L314.6 1803.9Z"/><path fill="#1ddbd2" d="M356.2 1829.3L340.1 1827.0L338.9 1819.4Z"/><path fill="#11a39c" d="M356.2 1829.3L346.1 1816.5L338.9 1819.4Z"/>
<path fill="#0db3cb" d="M347.7 1805.9L369.1 1824.9L371.5 1822.1L349.1 1804.2Z"/><path fill="#14c0d8" d="M382.1 1833.5L368.2 1828.9L368.4 1821.9Z"/><path fill="#0a8da0" d="M382.1 1833.5L375.3 1820.5L368.4 1821.9Z"/>
<path fill="#0d9bc9" d="M381.9 1805.7L398.5 1828.7L401.4 1826.5L383.7 1804.3Z"/><path fill="#14a7d5" d="M409.1 1839.8L396.7 1832.4L398.5 1825.7Z"/><path fill="#0a7a9d" d="M409.1 1839.8L405.4 1825.8L398.5 1825.7Z"/>
<path fill="#0d71c4" d="M416.4 1805.5L427.7 1825.8L430.2 1824.3L418.0 1804.6Z"/><path fill="#147cd0" d="M435.1 1835.6L425.9 1828.6L428.0 1823.4Z"/><path fill="#0a5898" d="M435.1 1835.6L433.5 1824.1L428.0 1823.4Z"/>
<path fill="#51cf8b" d="M262.0 1840.8L297.1 1850.5L298.3 1846.0L262.8 1838.0Z"/><path fill="#5adb96" d="M317.2 1853.1L298.4 1855.6L294.6 1847.5Z"/><path fill="#40a36e" d="M317.2 1853.1L301.8 1842.0L294.6 1847.5Z"/>
<path fill="#51cf8b" d="M296.2 1840.8L329.7 1857.2L331.7 1852.8L297.4 1838.1Z"/><path fill="#5adb96" d="M349.5 1863.7L330.0 1862.6L327.7 1853.6Z"/><path fill="#40a36e" d="M349.5 1863.7L336.0 1849.5L327.7 1853.6Z"/>
<path fill="#33cfa9" d="M330.3 1840.6L359.0 1863.0L361.8 1859.3L332.1 1838.2Z"/><path fill="#3bdbb5" d="M376.5 1873.1L358.2 1868.2L357.8 1859.2Z"/><path fill="#28a385" d="M376.5 1873.1L366.5 1857.0L357.8 1859.2Z"/>
<path fill="#33cfa9" d="M364.5 1840.4L387.7 1867.5L391.1 1864.4L366.7 1838.5Z"/><path fill="#3bdbb5" d="M402.5 1880.5L385.9 1872.2L387.3 1863.6Z"/><path fill="#28a385" d="M402.5 1880.5L396.1 1863.1L387.3 1863.6Z"/>
<path fill="#0db3cb" d="M399.0 1840.0L413.4 1866.4L416.7 1864.4L401.0 1838.8Z"/><path fill="#14c0d8" d="M423.2 1879.5L411.0 1870.0L413.7 1863.1Z"/><path fill="#0a8da0" d="M423.2 1879.5L421.0 1864.2L413.7 1863.1Z"/>
<path fill="#0d8ec7" d="M433.5 1839.9L444.6 1864.2L447.6 1862.7L435.3 1839.0Z"/><path fill="#1499d4" d="M452.3 1876.3L442.2 1867.2L445.1 1861.4Z"/><path fill="#0a6f9c" d="M452.3 1876.3L451.4 1862.8L445.1 1861.4Z"/>
<path fill="#96cf46" d="M279.0 1875.5L320.8 1891.0L322.7 1885.5L280.2 1872.1Z"/><path fill="#a1db4f" d="M345.4 1896.4L321.8 1897.3L318.0 1887.0Z"/><path fill="#76a337" d="M345.4 1896.4L327.4 1881.1L318.0 1887.0Z"/>
<path fill="#96cf46" d="M313.1 1875.3L350.3 1899.5L353.3 1894.6L314.9 1872.3Z"/><path fill="#a1db4f" d="M373.0 1910.1L349.9 1905.9L348.4 1895.0Z"/><path fill="#76a337" d="M373.0 1910.1L358.8 1891.3L348.4 1895.0Z"/>
<path fill="#72cf6a" d="M347.1 1875.1L377.3 1908.2L381.6 1904.2L349.7 1872.5Z"/><path fill="#7cdb74" d="M396.9 1924.4L375.3 1914.4L376.7 1903.3Z"/><path fill="#5aa353" d="M396.9 1924.4L387.8 1902.4L376.7 1903.3Z"/>
<path fill="#51cf8b" d="M381.4 1874.7L402.3 1909.1L406.7 1906.3L384.2 1872.9Z"/><path fill="#5adb96" d="M416.5 1926.5L399.4 1914.1L402.5 1904.6Z"/><path fill="#40a36e" d="M416.5 1926.5L412.4 1905.8L402.5 1904.6Z"/>
<path fill="#15cfc6" d="M416.1 1874.3L429.0 1903.3L432.7 1901.6L418.3 1873.3Z"/><path fill="#1ddbd2" d="M438.3 1918.1L426.2 1906.9L429.7 1900.0Z"/><path fill="#11a39c" d="M438.3 1918.1L437.2 1901.7L429.7 1900.0Z"/>
<path fill="#96cf46" d="M296.0 1909.9L337.4 1930.5L339.9 1925.0L297.6 1906.5Z"/><path fill="#a1db4f" d="M362.1 1938.8L337.7 1937.1L334.9 1926.0Z"/><path fill="#76a337" d="M362.1 1938.8L345.2 1921.0L334.9 1926.0Z"/>
<path fill="#bccf20" d="M329.9 1909.7L365.5 1942.3L369.7 1937.5L332.5 1906.7Z"/><path fill="#c8db28" d="M388.1 1957.7L364.0 1949.0L364.3 1937.0Z"/><path fill="#94a319" d="M388.1 1957.7L376.2 1935.0L364.3 1937.0Z"/>
<path fill="#bccf20" d="M363.8 1909.4L392.3 1953.9L398.1 1950.0L367.4 1907.0Z"/><path fill="#c8db28" d="M412.0 1976.7L388.8 1960.6L392.5 1948.0Z"/><path fill="#94a319" d="M412.0 1976.7L405.7 1949.2L392.5 1948.0Z"/>
<path fill="#72cf6a" d="M398.5 1908.9L414.5 1945.9L419.3 1943.7L401.5 1907.5Z"/><path fill="#7cdb74" d="M426.3 1965.1L411.0 1950.5L415.4 1941.5Z"/><path fill="#5aa353" d="M426.3 1965.1L425.1 1943.9L415.4 1941.5Z"/>
<path fill="#15cfc6" d="M433.2 1908.5L440.6 1939.4L444.6 1938.4L435.6 1907.9Z"/><path fill="#1ddbd2" d="M447.0 1955.6L437.2 1942.5L441.9 1936.2Z"/><path fill="#11a39c" d="M447.0 1955.6L449.0 1939.3L441.9 1936.2Z"/>
<path fill="#96cf46" d="M312.9 1944.2L351.3 1972.8L354.9 1967.7L315.1 1941.0Z"/><path fill="#a1db4f" d="M375.1 1985.8L350.4 1979.6L349.6 1967.7Z"/><path fill="#76a337" d="M375.1 1985.8L361.1 1964.6L349.6 1967.7Z"/>
<path fill="#cf940d" d="M346.4 1943.9L378.8 1993.1L385.2 1988.7L350.4 1941.2Z"/><path fill="#dba014" d="M401.1 2018.5L374.9 2000.7L378.9 1986.5Z"/><path fill="#a3750a" d="M401.1 2018.5L393.6 1987.7L378.9 1986.5Z"/>
<path fill="#cfbb0d" d="M380.8 1943.5L403.1 1992.6L409.5 1989.4L384.8 1941.6Z"/><path fill="#dbc714" d="M419.7 2018.5L398.6 1998.8L404.2 1986.6Z"/><path fill="#a3940a" d="M419.7 2018.5L417.3 1989.7L404.2 1986.6Z"/>
<path fill="#72cf6a" d="M415.6 1943.2L428.8 1982.7L434.0 1980.9L418.8 1942.0Z"/><path fill="#7cdb74" d="M439.3 2003.7L424.8 1987.2L430.1 1978.3Z"/><path fill="#5aa353" d="M439.3 2003.7L439.9 1981.7L430.1 1978.3Z"/>
<path fill="#15cfc6" d="M450.4 1942.8L456.6 1972.4L460.3 1971.5L452.8 1942.3Z"/><path fill="#1ddbd2" d="M462.1 1987.9L453.3 1975.2L457.8 1969.4Z"/><path fill="#11a39c" d="M462.1 1987.9L464.5 1972.6L457.8 1969.4Z"/>
<path fill="#cfcb0d" d="M329.4 1978.3L359.9 2023.4L365.7 2019.3L333.0 1975.7Z"/><path fill="#dbd714" d="M380.7 2046.5L356.4 2030.5L359.9 2017.3Z"/><path fill="#a3a00a" d="M380.7 2046.5L373.5 2018.3L359.9 2017.3Z"/>
<path fill="#cf470d" d="M363.3 1978.2L392.0 2035.9L399.5 2031.9L367.9 1975.7Z"/><path fill="#db5014" d="M413.0 2066.6L386.8 2043.7L393.0 2028.7Z"/><path fill="#a3380a" d="M413.0 2066.6L408.8 2032.0L393.0 2028.7Z"/>
<path fill="#cf940d" d="M397.9 1977.7L414.0 2030.5L420.9 2028.2L402.1 1976.3Z"/><path fill="#dba014" d="M427.4 2059.2L408.5 2036.3L415.9 2024.6Z"/><path fill="#a3750a" d="M427.4 2059.2L428.8 2029.6L415.9 2024.6Z"/>
<path fill="#64cf77" d="M432.9 1977.3L439.4 2015.4L444.3 2014.5L435.9 1976.7Z"/><path fill="#6edb82" d="M446.0 2036.0L435.1 2018.9L441.2 2011.6Z"/><path fill="#4fa35e" d="M446.0 2036.0L449.7 2016.0L441.2 2011.6Z"/>
<path fill="#cf6e0d" d="M346.2 2012.3L367.0 2065.9L374.1 2062.9L350.6 2010.5Z"/><path fill="#db7814" d="M383.2 2094.6L361.8 2072.3L368.5 2059.6Z"/><path fill="#a3570a" d="M383.2 2094.6L382.3 2063.8L368.5 2059.6Z"/>
<path fill="#bb0d0d" d="M380.2 2012.2L398.6 2077.0L407.2 2074.3L385.4 2010.5Z"/><path fill="#c71414" d="M414.4 2112.5L391.8 2084.0L401.0 2069.7Z"/><path fill="#940a0a" d="M414.4 2112.5L416.7 2076.2L401.0 2069.7Z"/>
<path fill="#cfbb0d" d="M415.1 2011.8L424.6 2063.2L431.3 2061.8L419.3 2010.9Z"/><path fill="#dbc714" d="M434.1 2091.5L418.8 2068.1L427.0 2057.9Z"/><path fill="#a3940a" d="M434.1 2091.5L438.6 2063.9L427.0 2057.9Z"/>
<path fill="#15cfc6" d="M450.3 2011.6L455.0 2043.8L459.1 2043.1L452.9 2011.1Z"/><path fill="#1ddbd2" d="M460.0 2060.9L451.3 2046.5L456.6 2040.6Z"/><path fill="#11a39c" d="M460.0 2060.9L463.6 2044.5L456.6 2040.6Z"/>
<path fill="#72cf6a" d="M329.7 2046.3L341.6 2084.5L346.5 2082.8L332.7 2045.2Z"/><path fill="#7cdb74" d="M351.2 2104.8L337.6 2088.7L342.9 2080.3Z"/><path fill="#5aa353" d="M351.2 2104.8L352.2 2083.7L342.9 2080.3Z"/>
<path fill="#cfb40d" d="M363.6 2046.4L377.6 2096.5L384.2 2094.5L367.6 2045.1Z"/><path fill="#dbc014" d="M389.6 2123.7L372.4 2101.9L379.5 2091.0Z"/><path fill="#a38e0a" d="M389.6 2123.7L391.6 2096.0L379.5 2091.0Z"/>
<path fill="#cfb90d" d="M398.1 2046.2L406.9 2094.3L413.2 2093.0L401.9 2045.3Z"/><path fill="#dbc614" d="M415.7 2120.6L401.5 2098.8L409.1 2089.3Z"/><path fill="#a3920a" d="M415.7 2120.6L419.9 2094.9L409.1 2089.3Z"/>
<path fill="#96cf46" d="M432.9 2046.0L437.5 2082.8L442.2 2082.1L435.9 2045.5Z"/><path fill="#a1db4f" d="M442.8 2102.7L433.1 2085.9L439.4 2079.2Z"/><path fill="#76a337" d="M442.8 2102.7L447.2 2083.8L439.4 2079.2Z"/>
<path fill="#80cf5b" d="M346.5 2080.4L352.1 2126.5L358.2 2125.6L350.3 2079.9Z"/><path fill="#8bdb65" d="M358.9 2151.8L346.8 2130.4L354.5 2121.9Z"/><path fill="#65a348" d="M358.9 2151.8L364.4 2127.8L354.5 2121.9Z"/>
<path fill="#cf710d" d="M380.3 2080.3L382.2 2142.1L390.3 2141.7L385.3 2080.0Z"/><path fill="#db7c14" d="M388.2 2177.2L374.5 2146.8L385.9 2136.2Z"/><path fill="#a35a0a" d="M388.2 2177.2L398.4 2145.5L385.9 2136.2Z"/>
<path fill="#b5cf27" d="M415.4 2080.3L417.4 2124.4L423.2 2124.0L419.0 2080.0Z"/><path fill="#c1db2f" d="M422.1 2148.9L412.1 2127.7L420.0 2120.2Z"/><path fill="#8fa31f" d="M422.1 2148.9L429.0 2126.5L420.0 2120.2Z"/>
<path fill="#0dc9cd" d="M450.5 2080.2L451.2 2107.7L454.7 2107.5L452.7 2080.1Z"/><path fill="#14d6da" d="M453.7 2122.3L447.8 2109.6L452.9 2105.2Z"/><path fill="#0a9fa2" d="M453.7 2122.3L458.3 2109.1L452.9 2105.2Z"/>
<path fill="#cf470d" d="M362.7 2114.5L360.3 2184.1L369.6 2184.2L368.5 2114.6Z"/><path fill="#db5014" d="M364.5 2224.1L351.4 2188.8L365.0 2177.7Z"/><path fill="#a3380a" d="M364.5 2224.1L378.4 2189.1L365.0 2177.7Z"/>
<path fill="#940d0d" d="M396.8 2114.5L394.7 2193.4L405.3 2193.4L403.2 2114.5Z"/><path fill="#a01414" d="M400.0 2238.9L384.7 2198.8L400.0 2186.1Z"/><path fill="#750a0a" d="M400.0 2238.9L415.3 2198.8L400.0 2186.1Z"/>
<path fill="#72cf6a" d="M432.6 2114.5L431.5 2159.1L437.3 2159.1L436.2 2114.5Z"/><path fill="#7cdb74" d="M434.4 2184.1L425.8 2162.1L434.4 2155.1Z"/><path fill="#5aa353" d="M434.4 2184.1L443.0 2162.1L434.4 2155.1Z"/>
<path fill="#cfbb0d" d="M346.1 2148.7L339.2 2205.7L346.8 2206.4L350.7 2149.1Z"/><path fill="#dbc714" d="M340.0 2238.5L331.6 2208.9L343.5 2200.8Z"/><path fill="#a3940a" d="M340.0 2238.5L353.7 2210.9L343.5 2200.8Z"/>
<path fill="#940d0d" d="M379.7 2148.6L371.1 2223.3L381.1 2224.2L385.9 2149.2Z"/><path fill="#a01414" d="M372.3 2267.0L361.2 2227.7L376.7 2216.9Z"/><path fill="#750a0a" d="M372.3 2267.0L390.2 2230.3L376.7 2216.9Z"/>
<path fill="#cfa50d" d="M414.9 2148.8L411.1 2204.8L418.5 2205.1L419.5 2149.0Z"/><path fill="#dbb114" d="M413.5 2236.8L403.8 2208.3L415.0 2199.8Z"/><path fill="#a3820a" d="M413.5 2236.8L425.5 2209.2L415.0 2199.8Z"/>
<path fill="#15cfc6" d="M450.5 2148.8L447.7 2177.6L451.4 2177.8L452.7 2149.0Z"/><path fill="#1ddbd2" d="M448.4 2193.2L443.9 2179.2L449.7 2175.2Z"/><path fill="#11a39c" d="M448.4 2193.2L454.9 2179.9L449.7 2175.2Z"/>
<path fill="#51cf8b" d="M329.7 2182.8L315.9 2220.4L320.8 2222.1L332.7 2183.8Z"/><path fill="#5adb96" d="M311.2 2242.3L310.2 2221.3L319.5 2217.9Z"/><path fill="#40a36e" d="M311.2 2242.3L324.8 2226.2L319.5 2217.9Z"/>
<path fill="#cf400d" d="M363.3 2182.8L350.4 2240.1L358.1 2241.6L367.9 2183.8Z"/><path fill="#db4914" d="M347.8 2273.7L342.4 2242.6L355.3 2235.6Z"/><path fill="#a3320a" d="M347.8 2273.7L364.6 2247.0L355.3 2235.6Z"/>
<path fill="#cf540d" d="M397.6 2183.0L388.7 2241.3L396.5 2242.2L402.4 2183.6Z"/><path fill="#db5d14" d="M388.4 2275.1L380.8 2244.3L393.3 2236.4Z"/><path fill="#a3420a" d="M388.4 2275.1L403.4 2247.2L393.3 2236.4Z"/>
<path fill="#72cf6a" d="M432.7 2183.1L427.6 2225.0L433.1 2225.5L436.1 2183.5Z"/><path fill="#7cdb74" d="M428.1 2248.7L422.0 2227.3L430.7 2221.5Z"/><path fill="#5aa353" d="M428.1 2248.7L438.1 2228.8L430.7 2221.5Z"/>
<path fill="#cfbb0d" d="M346.2 2216.9L324.7 2270.8L331.9 2273.4L350.6 2218.5Z"/><path fill="#dbc714" d="M316.8 2303.1L316.4 2271.9L330.1 2267.1Z"/><path fill="#a3940a" d="M316.8 2303.1L337.4 2279.7L330.1 2267.1Z"/>
<path fill="#bb0d0d" d="M379.8 2217.0L360.5 2290.1L370.3 2292.4L385.8 2218.4Z"/><path fill="#c71414" d="M355.4 2333.6L350.0 2293.0L367.0 2284.4Z"/><path fill="#940a0a" d="M355.4 2333.6L378.5 2299.7L367.0 2284.4Z"/>
<path fill="#accf2f" d="M415.1 2217.5L407.7 2269.8L414.6 2270.6L419.3 2217.9Z"/><path fill="#b8db38" d="M407.7 2299.9L400.6 2272.6L411.7 2265.4Z"/><path fill="#88a325" d="M407.7 2299.9L420.9 2274.9L411.7 2265.4Z"/>
<path fill="#15cfc6" d="M450.4 2217.6L446.2 2248.2L450.2 2248.7L452.8 2217.8Z"/><path fill="#1ddbd2" d="M446.3 2265.1L442.1 2249.8L448.5 2245.8Z"/><path fill="#11a39c" d="M446.3 2265.1L453.8 2251.1L448.5 2245.8Z"/>
<path fill="#bccf20" d="M329.6 2250.9L298.9 2290.5L304.2 2294.5L332.8 2253.3Z"/><path fill="#c8db28" d="M284.8 2315.3L291.8 2289.5L304.2 2288.8Z"/><path fill="#94a319" d="M284.8 2315.3L307.4 2301.0L304.2 2288.8Z"/>
<path fill="#cf6e0d" d="M363.1 2251.2L339.4 2311.6L347.5 2314.5L368.1 2253.0Z"/><path fill="#db7814" d="M330.8 2348.0L330.2 2313.0L345.5 2307.5Z"/><path fill="#a3570a" d="M330.8 2348.0L353.8 2321.5L345.5 2307.5Z"/>
<path fill="#cfbb0d" d="M397.7 2251.5L382.8 2307.6L390.3 2309.4L402.3 2252.6Z"/><path fill="#dbc714" d="M378.9 2340.6L374.8 2309.8L387.8 2303.4Z"/><path fill="#a3940a" d="M378.9 2340.6L396.6 2314.9L387.8 2303.4Z"/>
<path fill="#3ecf9d" d="M433.0 2251.9L426.7 2286.4L431.2 2287.1L435.8 2252.3Z"/><path fill="#47dba9" d="M426.0 2305.8L421.9 2288.0L429.4 2283.7Z"/><path fill="#31a37c" d="M426.0 2305.8L435.3 2290.1L429.4 2283.7Z"/>
<path fill="#72cf6a" d="M312.9 2285.2L280.4 2312.1L284.0 2316.3L315.1 2287.8Z"/><path fill="#7cdb74" d="M264.5 2329.7L274.7 2309.9L285.1 2311.7Z"/><path fill="#5aa353" d="M264.5 2329.7L285.4 2322.2L285.1 2311.7Z"/>
<path fill="#cfbb0d" d="M346.5 2285.3L317.1 2331.0L323.2 2334.7L350.3 2287.6Z"/><path fill="#dbc714" d="M304.1 2359.2L309.3 2330.6L322.7 2328.7Z"/><path fill="#a3940a" d="M304.1 2359.2L327.2 2341.5L322.7 2328.7Z"/>
<path fill="#cdcf0e" d="M380.8 2285.7L359.9 2333.4L366.2 2336.1L384.8 2287.3Z"/><path fill="#dadb15" d="M351.8 2362.1L352.4 2334.2L364.8 2330.4Z"/><path fill="#a2a30b" d="M351.8 2362.1L371.0 2341.8L364.8 2330.4Z"/>
<path fill="#33cfa9" d="M415.8 2286.2L407.4 2322.0L412.1 2323.0L418.6 2286.8Z"/><path fill="#3bdbb5" d="M405.6 2342.3L402.3 2323.4L410.4 2319.3Z"/><path fill="#28a385" d="M405.6 2342.3L416.1 2326.3L410.4 2319.3Z"/>
<path fill="#51cf8b" d="M296.1 2319.4L259.1 2336.8L261.4 2341.5L297.5 2322.3Z"/><path fill="#5adb96" d="M239.9 2349.3L254.3 2333.3L263.5 2337.5Z"/><path fill="#40a36e" d="M239.9 2349.3L261.3 2347.4L263.5 2337.5Z"/>
<path fill="#8dcf4e" d="M329.9 2319.5L295.7 2350.7L299.9 2355.1L332.5 2322.2Z"/><path fill="#98db57" d="M279.1 2370.8L289.4 2348.6L300.8 2350.0Z"/><path fill="#70a33e" d="M279.1 2370.8L301.8 2361.5L300.8 2350.0Z"/>
<path fill="#9ecf3e" d="M363.8 2320.0L342.3 2363.5L348.0 2366.2L367.4 2321.7Z"/><path fill="#a9db47" d="M333.6 2389.7L335.3 2363.9L347.0 2360.9Z"/><path fill="#7da331" d="M333.6 2389.7L352.3 2371.8L347.0 2360.9Z"/>
<path fill="#44cf97" d="M398.5 2320.1L379.3 2356.6L384.1 2359.0L401.5 2321.6Z"/><path fill="#4ddba2" d="M371.5 2378.4L373.4 2356.8L383.4 2354.5Z"/><path fill="#36a377" d="M371.5 2378.4L387.6 2363.8L383.4 2354.5Z"/>
<path fill="#0d8ec7" d="M433.4 2320.6L426.6 2345.3L429.8 2346.0L435.4 2321.1Z"/><path fill="#1499d4" d="M424.9 2358.8L423.1 2346.0L428.7 2343.5Z"/><path fill="#0a6f9c" d="M424.9 2358.8L432.5 2348.4L428.7 2343.5Z"/>
<path fill="#51cf8b" d="M279.2 2353.7L240.3 2362.9L241.7 2367.9L280.0 2356.8Z"/><path fill="#5adb96" d="M219.5 2371.1L236.5 2358.7L244.4 2364.5Z"/><path fill="#40a36e" d="M219.5 2371.1L240.4 2373.5L244.4 2364.5Z"/>
<path fill="#4ccf90" d="M313.5 2353.8L276.7 2366.3L278.5 2371.1L314.5 2356.7Z"/><path fill="#55db9b" d="M257.4 2376.1L272.6 2362.6L280.8 2367.5Z"/><path fill="#3ca372" d="M257.4 2376.1L277.7 2376.6L280.8 2367.5Z"/>
<path fill="#2bcfb1" d="M347.3 2354.2L320.5 2380.0L323.9 2383.4L349.5 2356.3Z"/><path fill="#33dbbd" d="M307.7 2396.3L315.4 2378.4L324.5 2379.4Z"/><path fill="#22a38c" d="M307.7 2396.3L325.6 2388.5L324.5 2379.4Z"/>
<path fill="#1ecfbe" d="M381.4 2354.7L366.5 2388.2L370.9 2390.1L384.2 2355.8Z"/><path fill="#26dbca" d="M360.9 2407.9L361.2 2388.7L369.9 2386.2Z"/><path fill="#18a396" d="M360.9 2407.9L374.3 2394.1L369.9 2386.2Z"/>
<path fill="#0dbccc" d="M416.0 2354.8L404.3 2385.1L408.3 2386.5L418.4 2355.7Z"/><path fill="#14c9d8" d="M400.3 2402.4L399.7 2385.7L407.2 2383.1Z"/><path fill="#0a94a0" d="M400.3 2402.4L411.4 2389.9L407.2 2383.1Z"/>
<path fill="#3ecf9d" d="M262.1 2388.4L230.1 2394.8L231.0 2398.9L262.7 2390.9Z"/><path fill="#47dba9" d="M213.2 2400.7L227.1 2391.2L233.4 2396.2Z"/><path fill="#31a37c" d="M213.2 2400.7L229.9 2403.4L233.4 2396.2Z"/>
<path fill="#44cf97" d="M296.2 2388.3L261.8 2401.7L263.7 2406.1L297.4 2391.0Z"/><path fill="#4ddba2" d="M243.9 2411.8L257.7 2398.3L265.8 2402.6Z"/><path fill="#36a377" d="M243.9 2411.8L263.2 2411.4L265.8 2402.6Z"/>
<path fill="#20cfbb" d="M330.5 2388.6L303.4 2405.5L305.7 2408.9L331.9 2390.7Z"/><path fill="#28dbc8" d="M290.0 2416.8L299.4 2403.3L306.9 2405.7Z"/><path fill="#19a394" d="M290.0 2416.8L306.2 2413.5L306.9 2405.7Z"/>
<path fill="#0da1c9" d="M364.7 2389.0L347.9 2412.2L350.9 2414.2L366.5 2390.3Z"/><path fill="#14add6" d="M340.7 2425.9L343.9 2411.6L350.8 2411.2Z"/><path fill="#0a7f9e" d="M340.7 2425.9L352.9 2417.8L350.8 2411.2Z"/>
<path fill="#0d7dc5" d="M398.9 2389.2L387.9 2416.1L391.4 2417.5L401.1 2390.1Z"/><path fill="#1488d2" d="M384.0 2431.5L383.8 2416.6L390.5 2414.5Z"/><path fill="#0a629a" d="M384.0 2431.5L394.1 2420.5L390.5 2414.5Z"/>
<path fill="#0da4c9" d="M210.6 2423.0L183.3 2427.1L183.9 2430.6L211.0 2425.1Z"/><path fill="#14afd6" d="M169.0 2431.4L180.9 2424.0L185.9 2428.4Z"/><path fill="#0a819e" d="M169.0 2431.4L182.8 2434.3L185.9 2428.4Z"/>
<path fill="#0da4c9" d="M245.1 2423.1L220.1 2425.7L220.5 2428.8L245.3 2425.0Z"/><path fill="#14afd6" d="M207.1 2429.0L218.1 2422.7L222.4 2427.0Z"/><path fill="#0a819e" d="M207.1 2429.0L219.3 2432.2L222.4 2427.0Z"/>
<path fill="#15cfc6" d="M279.2 2422.9L251.0 2432.6L252.3 2436.2L280.0 2425.1Z"/><path fill="#1ddbd2" d="M236.6 2440.0L247.9 2429.7L254.1 2433.5Z"/><path fill="#11a39c" d="M236.6 2440.0L251.8 2440.4L254.1 2433.5Z"/>
<path fill="#0dc9cd" d="M313.3 2423.1L289.0 2439.3L291.1 2442.3L314.7 2425.0Z"/><path fill="#14d6da" d="M277.1 2449.9L285.3 2437.3L292.1 2439.4Z"/><path fill="#0a9fa2" d="M277.1 2449.9L291.7 2446.5L292.1 2439.4Z"/>
<path fill="#0db3cb" d="M347.6 2423.4L331.1 2443.1L333.6 2445.1L349.2 2424.7Z"/><path fill="#14c0d8" d="M323.8 2454.8L327.5 2442.3L333.7 2442.4Z"/><path fill="#0a8da0" d="M323.8 2454.8L335.1 2448.5L333.7 2442.4Z"/>
<path fill="#0d79c5" d="M382.0 2423.6L369.8 2444.0L372.4 2445.5L383.6 2424.5Z"/><path fill="#1484d1" d="M365.0 2455.6L366.5 2443.8L372.1 2443.0Z"/><path fill="#0a5f99" d="M365.0 2455.6L374.3 2448.3L372.1 2443.0Z"/>
<path fill="#0d9bc9" d="M193.4 2457.5L169.1 2463.3L169.9 2466.4L193.8 2459.4Z"/><path fill="#14a7d5" d="M156.7 2468.3L166.7 2460.7L171.5 2464.3Z"/><path fill="#0a7a9d" d="M156.7 2468.3L169.2 2469.9L171.5 2464.3Z"/>
<path fill="#0d8ec7" d="M227.8 2457.5L204.4 2461.0L204.9 2463.9L228.2 2459.3Z"/><path fill="#1499d4" d="M192.3 2464.6L202.4 2458.3L206.6 2462.1Z"/><path fill="#0a6f9c" d="M192.3 2464.6L203.9 2467.2L206.6 2462.1Z"/>
<path fill="#0d83c6" d="M262.2 2457.6L240.3 2461.1L240.8 2463.8L262.6 2459.3Z"/><path fill="#148ed3" d="M229.2 2464.6L238.4 2458.6L242.4 2462.1Z"/><path fill="#0a669a" d="M229.2 2464.6L240.0 2466.9L242.4 2462.1Z"/>
<path fill="#0d71c4" d="M296.5 2457.7L277.6 2465.4L278.6 2467.7L297.1 2459.1Z"/><path fill="#147cd0" d="M268.5 2470.7L275.4 2463.5L279.7 2465.9Z"/><path fill="#0a5898" d="M268.5 2470.7L278.5 2470.6L279.7 2465.9Z"/>
<path fill="#0d71c4" d="M330.7 2457.9L315.7 2471.3L317.4 2473.2L331.7 2459.0Z"/><path fill="#147cd0" d="M309.1 2479.3L313.0 2470.3L317.8 2471.1Z"/><path fill="#0a5898" d="M309.1 2479.3L318.3 2475.9L317.8 2471.1Z"/>
<path fill="#0d54c0" d="M365.0 2458.1L354.8 2473.4L356.7 2474.6L366.2 2458.8Z"/><path fill="#145dcd" d="M350.8 2481.8L352.3 2473.0L356.6 2472.7Z"/><path fill="#0a4195" d="M350.8 2481.8L358.1 2476.8L356.6 2472.7Z"/>
<path fill="#0d54c0" d="M399.3 2458.1L390.8 2475.8L393.0 2476.8L400.7 2458.7Z"/><path fill="#145dcd" d="M387.7 2485.5L388.0 2475.9L392.5 2474.9Z"/><path fill="#0a4195" d="M387.7 2485.5L394.8 2479.0L392.5 2474.9Z"/>
<path fill="#0d7dc5" d="M176.2 2492.0L155.0 2498.0L155.8 2500.6L176.6 2493.6Z"/><path fill="#1488d2" d="M144.4 2502.7L152.8 2495.7L157.1 2498.8Z"/><path fill="#0a629a" d="M144.4 2502.7L155.3 2503.7L157.1 2498.8Z"/>
<path fill="#0d71c4" d="M210.7 2492.0L190.3 2494.8L190.7 2497.3L210.9 2493.6Z"/><path fill="#147cd0" d="M180.1 2497.7L188.6 2492.4L192.2 2495.8Z"/><path fill="#0a5898" d="M180.1 2497.7L189.9 2500.1L192.2 2495.8Z"/>
<path fill="#0d66c2" d="M245.0 2492.1L225.4 2495.7L225.9 2498.1L245.4 2493.6Z"/><path fill="#1470cf" d="M215.7 2499.0L223.7 2493.4L227.3 2496.6Z"/><path fill="#0a4f97" d="M215.7 2499.0L225.3 2500.8L227.3 2496.6Z"/>
<path fill="#0d49bf" d="M279.4 2492.2L262.9 2496.8L263.5 2498.7L279.8 2493.4Z"/><path fill="#1452cb" d="M255.0 2500.2L261.3 2495.0L264.5 2497.4Z"/><path fill="#0a3893" d="M255.0 2500.2L263.1 2501.1L264.5 2497.4Z"/>
<path fill="#0d43be" d="M313.6 2492.3L300.2 2501.9L301.4 2503.5L314.4 2493.3Z"/><path fill="#144ccb" d="M294.3 2507.6L298.3 2500.9L301.9 2501.9Z"/><path fill="#0a3492" d="M294.3 2507.6L301.8 2505.6L301.9 2501.9Z"/>
<path fill="#0d43be" d="M347.9 2492.4L336.9 2506.1L338.6 2507.4L348.9 2493.2Z"/><path fill="#144ccb" d="M332.4 2513.7L334.5 2505.6L338.6 2505.6Z"/><path fill="#0a3492" d="M332.4 2513.7L339.7 2509.6L338.6 2505.6Z"/>
<path fill="#0d39bc" d="M382.3 2492.6L375.3 2506.5L377.1 2507.3L383.3 2493.1Z"/><path fill="#1442c9" d="M373.0 2513.7L373.5 2506.6L376.7 2505.8Z"/><path fill="#0a2c91" d="M373.0 2513.7L378.1 2508.8L376.7 2505.8Z"/>
<path fill="#0d66c2" d="M158.9 2526.5L140.0 2534.2L141.0 2536.5L159.5 2527.9Z"/><path fill="#1470cf" d="M130.9 2539.5L137.8 2532.3L142.1 2534.7Z"/><path fill="#0a4f97" d="M130.9 2539.5L140.9 2539.4L142.1 2534.7Z"/>
<path fill="#0d49bf" d="M193.4 2526.6L176.1 2530.3L176.6 2532.4L193.8 2527.9Z"/><path fill="#1452cb" d="M167.8 2533.4L174.6 2528.3L177.8 2531.0Z"/><path fill="#0a3893" d="M167.8 2533.4L176.1 2534.8L177.8 2531.0Z"/>
<path fill="#0d39bc" d="M227.9 2526.6L212.1 2529.6L212.5 2531.5L228.1 2527.8Z"/><path fill="#1442c9" d="M204.6 2532.1L210.8 2528.0L213.6 2530.3Z"/><path fill="#0a2c91" d="M204.6 2532.1L212.0 2533.4L213.6 2530.3Z"/>
<path fill="#0d2fbb" d="M262.3 2526.6L248.0 2529.6L248.5 2531.5L262.5 2527.8Z"/><path fill="#1438c8" d="M241.5 2532.1L246.9 2528.5L249.3 2530.3Z"/><path fill="#0a2490" d="M241.5 2532.1L248.0 2532.9L249.3 2530.3Z"/>
<path fill="#0d2aba" d="M296.4 2526.7L286.1 2534.0L287.3 2535.6L297.2 2527.7Z"/><path fill="#1433c7" d="M282.0 2538.3L285.1 2533.9L287.4 2534.2Z"/><path fill="#0a218f" d="M282.0 2538.3L287.1 2536.5L287.4 2534.2Z"/>
<path fill="#0d22b9" d="M330.9 2526.7L320.5 2533.2L321.6 2534.8L331.5 2527.7Z"/><path fill="#142ac5" d="M316.4 2537.0L319.7 2533.1L321.8 2533.5Z"/><path fill="#0a1a8d" d="M316.4 2537.0L321.4 2535.6L321.8 2533.5Z"/>
<path fill="#0d34bc" d="M365.1 2526.9L356.5 2539.1L358.1 2540.2L366.1 2527.5Z"/><path fill="#143dc8" d="M353.3 2545.7L354.8 2539.0L357.9 2538.7Z"/><path fill="#0a2890" d="M353.3 2545.7L358.8 2541.7L357.9 2538.7Z"/>
<path fill="#0d54c0" d="M141.7 2561.0L124.3 2569.5L125.4 2571.6L142.3 2562.2Z"/><path fill="#145dcd" d="M116.2 2575.1L122.1 2567.9L126.3 2569.8Z"/><path fill="#0a4195" d="M116.2 2575.1L125.5 2574.3L126.3 2569.8Z"/>
<path fill="#0d43be" d="M176.2 2561.0L159.6 2566.3L160.3 2568.3L176.6 2562.2Z"/><path fill="#144ccb" d="M151.8 2570.2L157.9 2564.6L161.3 2566.9Z"/><path fill="#0a3492" d="M151.8 2570.2L160.1 2570.8L161.3 2566.9Z"/>
<path fill="#0d2fbb" d="M210.7 2561.0L198.0 2563.2L198.4 2565.1L210.9 2562.2Z"/><path fill="#1438c8" d="M192.4 2565.3L197.2 2562.6L199.1 2563.9Z"/><path fill="#0a2490" d="M192.4 2565.3L197.8 2566.0L199.1 2563.9Z"/>
<path fill="#0d2aba" d="M245.2 2561.0L233.3 2561.5L233.4 2563.4L245.2 2562.2Z"/><path fill="#1433c7" d="M228.0 2562.8L232.6 2561.0L234.2 2562.4Z"/><path fill="#0a218f" d="M228.0 2562.8L232.8 2564.0L234.2 2562.4Z"/>
<path fill="#0d22b9" d="M279.2 2561.1L272.0 2566.1L273.2 2567.7L280.0 2562.1Z"/><path fill="#142ac5" d="M269.8 2569.0L271.8 2566.5L273.0 2566.5Z"/><path fill="#0a1a8d" d="M269.8 2569.0L272.7 2567.7L273.0 2566.5Z"/>
<path fill="#0d2fbb" d="M313.6 2561.1L303.3 2569.2L304.6 2570.7L314.4 2562.1Z"/><path fill="#1438c8" d="M299.2 2573.9L302.2 2569.1L304.7 2569.4Z"/><path fill="#0a2490" d="M299.2 2573.9L304.5 2571.8L304.7 2569.4Z"/>
<path fill="#0d2aba" d="M348.0 2561.2L339.2 2568.5L340.6 2570.0L348.8 2562.0Z"/><path fill="#1433c7" d="M336.1 2572.7L338.5 2568.7L340.5 2568.7Z"/><path fill="#0a218f" d="M336.1 2572.7L340.3 2570.7L340.5 2568.7Z"/>
<path fill="#0d43be" d="M124.4 2595.5L110.2 2606.6L111.6 2608.3L125.2 2596.5Z"/><path fill="#144ccb" d="M103.9 2613.2L107.9 2605.5L112.0 2606.5Z"/><path fill="#0a3492" d="M103.9 2613.2L112.2 2610.8L112.0 2606.5Z"/>
<path fill="#0d39bc" d="M158.9 2595.5L144.7 2603.4L145.7 2605.1L159.5 2596.5Z"/><path fill="#1442c9" d="M138.3 2608.3L142.9 2602.3L146.3 2603.6Z"/><path fill="#0a2c91" d="M138.3 2608.3L145.8 2607.2L146.3 2603.6Z"/>
<path fill="#0d2fbb" d="M193.5 2595.4L179.2 2598.4L179.7 2600.3L193.7 2596.6Z"/><path fill="#1438c8" d="M172.7 2600.9L178.1 2597.3L180.5 2599.1Z"/><path fill="#0a2490" d="M172.7 2600.9L179.2 2601.7L180.5 2599.1Z"/>
<circle cx="224.9" cy="2596.2" r="1.2" fill="#0d17d4"/>
<path fill="#0d19b7" d="M262.3 2595.4L255.0 2595.9L255.3 2597.9L262.5 2596.6Z"/><path fill="#1421c4" d="M252.6 2597.2L254.8 2596.4L255.6 2596.8Z"/><path fill="#0a148c" d="M252.6 2597.2L254.9 2597.4L255.6 2596.8Z"/>
<path fill="#0d1db8" d="M296.4 2595.5L289.2 2600.5L290.4 2602.0L297.2 2596.5Z"/><path fill="#1426c5" d="M287.0 2603.4L289.0 2600.9L290.2 2600.9Z"/><path fill="#0a178d" d="M287.0 2603.4L289.9 2602.1L290.2 2600.9Z"/>
<path fill="#0d2aba" d="M330.8 2595.6L321.3 2604.5L322.7 2605.9L331.6 2596.4Z"/><path fill="#1433c7" d="M317.7 2609.5L320.2 2604.5L322.7 2604.5Z"/><path fill="#0a218f" d="M317.7 2609.5L322.7 2607.0L322.7 2604.5Z"/>
<path fill="#0d43be" d="M107.2 2629.8L92.2 2640.9L93.6 2642.7L108.0 2630.9Z"/><path fill="#144ccb" d="M85.5 2647.6L89.8 2639.7L94.1 2640.9Z"/><path fill="#0a3492" d="M85.5 2647.6L94.2 2645.3L94.1 2640.9Z"/>
<path fill="#0d39bc" d="M141.7 2629.9L127.5 2638.6L128.6 2640.3L142.3 2630.9Z"/><path fill="#1442c9" d="M121.1 2643.9L125.6 2637.4L129.1 2638.7Z"/><path fill="#0a2c91" d="M121.1 2643.9L128.8 2642.5L129.1 2638.7Z"/>
<path fill="#0d43be" d="M176.0 2629.8L159.4 2640.8L160.8 2642.8L176.8 2631.0Z"/><path fill="#144ccb" d="M151.8 2647.6L157.0 2639.4L161.5 2640.8Z"/><path fill="#0a3492" d="M151.8 2647.6L161.3 2645.5L161.5 2640.8Z"/>
<circle cx="207.1" cy="2631.0" r="1.2" fill="#0d17d4"/>
<path fill="#0d15b7" d="M245.0 2629.8L238.5 2631.3L239.0 2633.2L245.4 2631.0Z"/><path fill="#141dc3" d="M236.6 2632.8L238.4 2631.9L239.1 2632.1Z"/><path fill="#0a118b" d="M236.6 2632.8L238.6 2632.7L239.1 2632.1Z"/>
<circle cx="278.4" cy="2632.8" r="1.2" fill="#0d12d4"/>
<path fill="#0d2aba" d="M313.5 2630.0L304.9 2639.8L306.4 2641.1L314.5 2630.8Z"/><path fill="#1433c7" d="M301.7 2645.1L303.8 2639.9L306.2 2639.7Z"/><path fill="#0a218f" d="M301.7 2645.1L306.5 2642.2L306.2 2639.7Z"/></g>
<clipPath id="pc2"><rect x="695.0" y="1527.0" width="501.0" height="1125.0"/></clipPath>
<g clip-path="url(#pc2)"><use href="#bgb" transform="translate(648.4,9.0)"/></g>
<path d="M695 1528H743.4M994.1 1528H1196M695 2651.3H733.5M986.8 2651.3H1196" stroke="#3a3636" stroke-width="1.7" fill="none"/>
<g><path fill="#0d71c4" d="M749.3 1535.8L766.1 1547.0L767.4 1544.9L750.1 1534.6Z"/><path fill="#147cd0" d="M775.5 1551.4L765.8 1549.8L765.4 1545.0Z"/><path fill="#0a5898" d="M775.5 1551.4L769.9 1543.4L765.4 1545.0Z"/>
<path fill="#0d7dc5" d="M783.6 1535.9L800.2 1550.2L802.0 1548.1L784.6 1534.5Z"/><path fill="#1488d2" d="M809.9 1556.3L799.5 1553.2L799.7 1548.0Z"/><path fill="#0a629a" d="M809.9 1556.3L804.8 1546.8L799.7 1548.0Z"/>
<path fill="#0d39bc" d="M818.1 1535.6L826.2 1544.8L827.6 1543.5L818.9 1534.8Z"/><path fill="#1442c9" d="M830.8 1548.2L826.3 1545.7L826.3 1543.5Z"/><path fill="#0a2c91" d="M830.8 1548.2L828.5 1543.6L826.3 1543.5Z"/>
<path fill="#0d2fbb" d="M852.8 1535.8L866.9 1538.3L867.2 1536.4L853.0 1534.6Z"/><path fill="#1438c8" d="M873.8 1538.4L867.5 1539.6L866.0 1537.2Z"/><path fill="#0a2490" d="M873.8 1538.4L868.2 1535.3L866.0 1537.2Z"/>
<path fill="#0d19b7" d="M887.2 1535.8L895.2 1537.2L895.4 1535.3L887.4 1534.6Z"/><path fill="#1421c4" d="M898.4 1536.7L895.6 1536.9L894.8 1536.2Z"/><path fill="#0a148c" d="M898.4 1536.7L895.8 1535.7L894.8 1536.2Z"/>
<path fill="#0d1db8" d="M921.6 1535.8L931.8 1537.9L932.2 1536.0L921.8 1534.6Z"/><path fill="#1426c5" d="M936.5 1537.7L932.4 1538.1L931.3 1536.8Z"/><path fill="#0a178d" d="M936.5 1537.7L932.7 1535.9L931.3 1536.8Z"/>
<path fill="#0d26b9" d="M955.9 1535.8L968.4 1540.0L969.0 1538.1L956.3 1534.6Z"/><path fill="#142ec6" d="M974.5 1540.9L968.8 1541.0L967.7 1538.8Z"/><path fill="#0a1d8e" d="M974.5 1540.9L969.9 1537.5L967.7 1538.8Z"/>

<path fill="#0d54c0" d="M766.5 1570.3L781.9 1580.2L783.0 1578.3L767.3 1569.1Z"/><path fill="#145dcd" d="M790.3 1584.0L781.6 1582.7L781.2 1578.4Z"/><path fill="#0a4195" d="M790.3 1584.0L785.2 1576.8L781.2 1578.4Z"/>
<path fill="#0d71c4" d="M800.9 1570.4L817.4 1581.3L818.7 1579.3L801.7 1569.1Z"/><path fill="#147cd0" d="M826.6 1585.7L817.1 1584.1L816.7 1579.4Z"/><path fill="#0a5898" d="M826.6 1585.7L821.1 1577.8L816.7 1579.4Z"/>
<path fill="#0d39bc" d="M835.4 1570.2L847.7 1577.2L848.7 1575.5L836.0 1569.2Z"/><path fill="#1442c9" d="M854.1 1579.6L847.9 1578.6L847.2 1575.9Z"/><path fill="#0a2c91" d="M854.1 1579.6L849.9 1574.9L847.2 1575.9Z"/>
<path fill="#0d39bc" d="M869.8 1570.3L883.0 1576.8L883.8 1575.0L870.4 1569.2Z"/><path fill="#1442c9" d="M889.8 1578.8L883.2 1578.3L882.4 1575.4Z"/><path fill="#0a2c91" d="M889.8 1578.8L885.1 1574.1L882.4 1575.4Z"/>
<path fill="#0d26b9" d="M904.3 1570.3L915.2 1574.4L915.8 1572.5L904.7 1569.2Z"/><path fill="#142ec6" d="M920.5 1575.1L915.7 1575.0L914.7 1573.2Z"/><path fill="#0a1d8e" d="M920.5 1575.1L916.6 1572.3L914.7 1573.2Z"/>
<path fill="#0d26b9" d="M938.7 1570.3L948.8 1574.7L949.5 1572.9L939.1 1569.2Z"/><path fill="#142ec6" d="M953.7 1575.6L949.2 1575.2L948.4 1573.5Z"/><path fill="#0a1d8e" d="M953.7 1575.6L950.1 1572.9L948.4 1573.5Z"/>
<path fill="#0d2aba" d="M973.0 1570.3L983.1 1575.7L983.9 1574.0L973.6 1569.2Z"/><path fill="#1433c7" d="M988.1 1577.1L983.5 1576.3L982.8 1574.5Z"/><path fill="#0a218f" d="M988.1 1577.1L984.7 1573.9L982.8 1574.5Z"/>
<path fill="#0d54c0" d="M783.8 1604.8L799.1 1613.7L800.2 1611.8L784.4 1603.7Z"/><path fill="#145dcd" d="M807.5 1617.0L799.0 1616.2L798.4 1612.1Z"/><path fill="#0a4195" d="M807.5 1617.0L802.2 1610.3L798.4 1612.1Z"/>
<path fill="#0d6cc3" d="M818.1 1604.9L834.5 1615.0L835.7 1613.0L818.9 1603.6Z"/><path fill="#1476d0" d="M843.6 1619.0L834.3 1617.8L833.8 1613.2Z"/><path fill="#0a5498" d="M843.6 1619.0L838.0 1611.5L833.8 1613.2Z"/>
<path fill="#0d39bc" d="M852.7 1604.8L865.4 1610.2L866.1 1608.3L853.1 1603.7Z"/><path fill="#1442c9" d="M871.8 1611.6L865.8 1611.4L864.8 1608.9Z"/><path fill="#0a2c91" d="M871.8 1611.6L867.2 1607.7L864.8 1608.9Z"/>
<path fill="#0d2fbb" d="M887.2 1604.8L898.9 1608.2L899.4 1606.3L887.4 1603.7Z"/><path fill="#1438c8" d="M904.5 1608.7L899.4 1608.9L898.3 1607.1Z"/><path fill="#0a2490" d="M904.5 1608.7L900.2 1605.9L898.3 1607.1Z"/>
<path fill="#0d2aba" d="M921.5 1604.8L932.5 1608.2L933.0 1606.4L921.9 1603.7Z"/><path fill="#1433c7" d="M937.7 1608.7L933.0 1608.8L932.0 1607.1Z"/><path fill="#0a218f" d="M937.7 1608.7L933.7 1606.2L932.0 1607.1Z"/>
<path fill="#0d34bc" d="M955.8 1604.8L968.1 1611.8L969.1 1610.0L956.4 1603.7Z"/><path fill="#143dc8" d="M974.5 1614.1L968.3 1613.2L967.6 1610.4Z"/><path fill="#0a2890" d="M974.5 1614.1L970.3 1609.4L967.6 1610.4Z"/>
<path fill="#0d19b7" d="M990.3 1604.8L998.8 1609.0L999.6 1607.2L990.7 1603.7Z"/><path fill="#1421c4" d="M1002.8 1609.6L999.3 1609.1L998.6 1607.8Z"/><path fill="#0a148c" d="M1002.8 1609.6L1000.0 1607.4L998.6 1607.8Z"/>
<path fill="#0d60c1" d="M800.9 1639.4L816.7 1649.5L817.9 1647.6L801.7 1638.2Z"/><path fill="#146ace" d="M825.4 1653.5L816.4 1652.2L816.0 1647.8Z"/><path fill="#0a4a96" d="M825.4 1653.5L820.1 1646.1L816.0 1647.8Z"/>
<path fill="#0d66c2" d="M835.3 1639.4L852.2 1649.6L853.4 1647.5L836.1 1638.1Z"/><path fill="#1470cf" d="M861.5 1653.5L852.0 1652.4L851.4 1647.7Z"/><path fill="#0a4f97" d="M861.5 1653.5L855.7 1645.9L851.4 1647.7Z"/>
<path fill="#0d43be" d="M869.9 1639.3L884.7 1643.8L885.3 1642.0L870.3 1638.2Z"/><path fill="#144ccb" d="M892.2 1644.9L885.2 1645.6L883.8 1642.6Z"/><path fill="#0a3492" d="M892.2 1644.9L886.5 1640.7L883.8 1642.6Z"/>
<path fill="#0d26b9" d="M904.4 1639.3L916.2 1641.9L916.5 1640.0L904.6 1638.2Z"/><path fill="#142ec6" d="M921.7 1642.0L916.7 1642.6L915.5 1640.8Z"/><path fill="#0a1d8e" d="M921.7 1642.0L917.3 1639.6L915.5 1640.8Z"/>
<path fill="#0d34bc" d="M938.8 1639.3L952.8 1643.0L953.3 1641.1L939.0 1638.2Z"/><path fill="#143dc8" d="M959.8 1643.7L953.3 1644.5L952.0 1641.8Z"/><path fill="#0a2890" d="M959.8 1643.7L954.4 1640.1L952.0 1641.8Z"/>
<path fill="#0d2fbb" d="M973.1 1639.3L984.7 1644.1L985.4 1642.2L973.5 1638.2Z"/><path fill="#1438c8" d="M990.5 1645.2L985.2 1644.9L984.2 1642.8Z"/><path fill="#0a2490" d="M990.5 1645.2L986.3 1641.8L984.2 1642.8Z"/>
<path fill="#0d2fbb" d="M1007.4 1639.3L1018.1 1646.3L1019.1 1644.7L1008.0 1638.2Z"/><path fill="#1438c8" d="M1023.7 1648.6L1018.3 1647.3L1017.8 1645.0Z"/><path fill="#0a2490" d="M1023.7 1648.6L1020.1 1644.4L1017.8 1645.0Z"/>
<path fill="#0d6cc3" d="M818.2 1674.1L839.0 1683.0L840.0 1680.4L818.8 1672.5Z"/><path fill="#1476d0" d="M850.5 1686.1L839.2 1686.2L837.7 1681.0Z"/><path fill="#0a5498" d="M850.5 1686.1L842.4 1678.2L837.7 1681.0Z"/>
<path fill="#0d66c2" d="M852.6 1673.9L869.9 1682.2L870.8 1680.0L853.2 1672.6Z"/><path fill="#1470cf" d="M879.2 1685.1L869.9 1684.9L868.9 1680.5Z"/><path fill="#0a4f97" d="M879.2 1685.1L872.9 1678.3L868.9 1680.5Z"/>
<path fill="#0d54c0" d="M887.1 1673.9L903.5 1678.4L904.0 1676.4L887.5 1672.7Z"/><path fill="#145dcd" d="M911.9 1679.4L904.0 1680.7L902.4 1677.1Z"/><path fill="#0a4195" d="M911.9 1679.4L905.5 1674.6L902.4 1677.1Z"/>
<path fill="#0d43be" d="M921.6 1673.9L937.2 1677.5L937.6 1675.6L921.8 1672.7Z"/><path fill="#144ccb" d="M945.1 1678.2L937.7 1679.5L936.1 1676.3Z"/><path fill="#0a3492" d="M945.1 1678.2L938.9 1674.1L936.1 1676.3Z"/>
<path fill="#0d39bc" d="M955.9 1673.8L969.9 1679.2L970.5 1677.3L956.3 1672.7Z"/><path fill="#1442c9" d="M977.0 1680.7L970.2 1680.8L969.1 1677.9Z"/><path fill="#0a2c91" d="M977.0 1680.7L971.8 1676.3L969.1 1677.9Z"/>
<path fill="#0d34bc" d="M990.2 1673.8L1001.7 1680.8L1002.7 1679.1L990.8 1672.8Z"/><path fill="#143dc8" d="M1007.7 1683.1L1001.9 1682.0L1001.3 1679.5Z"/><path fill="#0a2890" d="M1007.7 1683.1L1003.8 1678.7L1001.3 1679.5Z"/>
<path fill="#0d34bc" d="M1024.6 1673.8L1035.2 1681.6L1036.3 1680.0L1025.2 1672.8Z"/><path fill="#143dc8" d="M1040.9 1684.3L1035.4 1682.8L1035.0 1680.3Z"/><path fill="#0a2890" d="M1040.9 1684.3L1037.5 1679.7L1035.0 1680.3Z"/>
<path fill="#0d7dc5" d="M835.3 1708.6L856.8 1718.8L858.1 1716.1L836.1 1707.0Z"/><path fill="#1488d2" d="M868.9 1722.6L857.0 1722.2L855.6 1716.7Z"/><path fill="#0a629a" d="M868.9 1722.6L860.7 1713.9L855.6 1716.7Z"/>
<path fill="#0d71c4" d="M869.8 1708.6L889.9 1716.3L890.8 1713.8L870.4 1707.0Z"/><path fill="#147cd0" d="M900.8 1718.9L890.2 1719.4L888.7 1714.5Z"/><path fill="#0a5898" d="M900.8 1718.9L893.0 1711.7L888.7 1714.5Z"/>
<path fill="#0d66c2" d="M904.3 1708.5L923.6 1714.7L924.3 1712.3L904.7 1707.1Z"/><path fill="#1470cf" d="M934.0 1716.4L924.1 1717.5L922.4 1713.0Z"/><path fill="#0a4f97" d="M934.0 1716.4L926.3 1710.1L922.4 1713.0Z"/>
<path fill="#0d54c0" d="M938.7 1708.5L956.5 1715.1L957.2 1712.9L939.1 1707.1Z"/><path fill="#145dcd" d="M965.9 1717.1L956.8 1717.8L955.4 1713.5Z"/><path fill="#0a4195" d="M965.9 1717.1L959.1 1711.0L955.4 1713.5Z"/>
<path fill="#0d39bc" d="M973.1 1708.4L985.9 1714.2L986.7 1712.4L973.5 1707.2Z"/><path fill="#1442c9" d="M992.5 1715.9L986.2 1715.6L985.3 1712.9Z"/><path fill="#0a2c91" d="M992.5 1715.9L987.9 1711.7L985.3 1712.9Z"/>
<path fill="#0d34bc" d="M1007.4 1708.3L1018.9 1715.3L1019.9 1713.6L1008.0 1707.3Z"/><path fill="#143dc8" d="M1024.9 1717.6L1019.1 1716.5L1018.5 1714.0Z"/><path fill="#0a2890" d="M1024.9 1717.6L1021.0 1713.2L1018.5 1714.0Z"/>
<path fill="#0d34bc" d="M1041.7 1708.2L1051.5 1717.4L1052.8 1715.9L1042.5 1707.4Z"/><path fill="#143dc8" d="M1056.9 1720.8L1051.5 1718.6L1051.4 1716.0Z"/><path fill="#0a2890" d="M1056.9 1720.8L1054.0 1715.8L1051.4 1716.0Z"/>
<path fill="#0d83c6" d="M852.7 1743.2L875.8 1750.2L876.6 1747.3L853.1 1741.4Z"/><path fill="#148ed3" d="M888.6 1752.2L876.5 1753.6L874.3 1748.2Z"/><path fill="#0a669a" d="M888.6 1752.2L878.9 1744.7L874.3 1748.2Z"/>
<path fill="#0d7dc5" d="M887.0 1743.2L908.6 1750.9L909.5 1748.2L887.6 1741.5Z"/><path fill="#1488d2" d="M920.5 1753.4L909.1 1754.2L907.3 1749.0Z"/><path fill="#0a629a" d="M920.5 1753.4L911.8 1745.9L907.3 1749.0Z"/>
<path fill="#0d66c2" d="M921.5 1743.1L940.9 1748.1L941.5 1745.7L921.9 1741.6Z"/><path fill="#1470cf" d="M951.2 1749.2L941.6 1750.9L939.6 1746.5Z"/><path fill="#0a4f97" d="M951.2 1749.2L943.3 1743.5L939.6 1746.5Z"/>
<path fill="#0d54c0" d="M955.9 1742.9L972.2 1749.1L972.9 1747.1L956.3 1741.7Z"/><path fill="#145dcd" d="M980.7 1750.9L972.4 1751.5L971.2 1747.6Z"/><path fill="#0a4195" d="M980.7 1750.9L974.6 1745.3L971.2 1747.6Z"/>
<path fill="#0d49bf" d="M990.2 1742.9L1004.9 1750.1L1005.7 1748.3L990.8 1741.8Z"/><path fill="#1452cb" d="M1012.6 1752.6L1005.0 1752.3L1004.2 1748.7Z"/><path fill="#0a3893" d="M1012.6 1752.6L1007.4 1747.0L1004.2 1748.7Z"/>
<path fill="#0d3ebd" d="M1024.5 1742.8L1035.9 1753.0L1037.1 1751.5L1025.3 1741.9Z"/><path fill="#1447ca" d="M1042.1 1757.1L1035.5 1754.7L1035.6 1751.5Z"/><path fill="#0a3092" d="M1042.1 1757.1L1038.8 1750.9L1035.6 1751.5Z"/>
<path fill="#0d83c6" d="M869.8 1777.7L892.9 1786.4L893.9 1783.4L870.4 1775.9Z"/><path fill="#148ed3" d="M905.8 1789.1L893.4 1789.8L891.5 1784.2Z"/><path fill="#0a669a" d="M905.8 1789.1L896.4 1780.9L891.5 1784.2Z"/>
<path fill="#0d83c6" d="M904.3 1777.7L927.4 1784.7L928.2 1781.8L904.7 1775.9Z"/><path fill="#148ed3" d="M940.2 1786.7L928.1 1788.1L925.9 1782.7Z"/><path fill="#0a669a" d="M940.2 1786.7L930.5 1779.2L925.9 1782.7Z"/>
<path fill="#0d71c4" d="M938.6 1777.7L960.2 1785.5L961.1 1782.7L939.2 1776.0Z"/><path fill="#147cd0" d="M972.1 1787.9L960.7 1788.7L958.9 1783.5Z"/><path fill="#0a5898" d="M972.1 1787.9L963.4 1780.4L958.9 1783.5Z"/>
<path fill="#0d54c0" d="M973.0 1777.5L989.1 1786.8L990.2 1784.8L973.6 1776.2Z"/><path fill="#145dcd" d="M997.9 1790.4L988.9 1789.5L988.3 1785.1Z"/><path fill="#0a4195" d="M997.9 1790.4L992.3 1783.3L988.3 1785.1Z"/>
<path fill="#0d43be" d="M1007.4 1777.4L1021.1 1786.7L1022.2 1785.0L1008.0 1776.3Z"/><path fill="#144ccb" d="M1028.6 1790.4L1020.9 1788.9L1020.6 1785.2Z"/><path fill="#0a3492" d="M1028.6 1790.4L1024.1 1783.9L1020.6 1785.2Z"/>
<path fill="#0d39bc" d="M1041.7 1777.3L1051.4 1787.5L1052.8 1786.1L1042.5 1776.4Z"/><path fill="#1442c9" d="M1056.9 1791.6L1051.2 1788.9L1051.3 1786.1Z"/><path fill="#0a2c91" d="M1056.9 1791.6L1054.2 1785.9L1051.3 1786.1Z"/>
<path fill="#0db3cb" d="M887.1 1812.4L914.5 1817.2L915.0 1813.7L887.5 1810.3Z"/><path fill="#14c0d8" d="M929.5 1817.7L915.7 1821.0L912.4 1815.1Z"/><path fill="#0a8da0" d="M929.5 1817.7L917.3 1810.5L912.4 1815.1Z"/>
<path fill="#0db3cb" d="M921.5 1812.4L946.8 1819.2L947.5 1815.9L921.9 1810.4Z"/><path fill="#14c0d8" d="M960.7 1820.8L947.6 1822.8L945.0 1817.0Z"/><path fill="#0a8da0" d="M960.7 1820.8L949.9 1813.1L945.0 1817.0Z"/>
<path fill="#0d83c6" d="M955.8 1812.2L977.1 1820.3L978.0 1817.6L956.4 1810.5Z"/><path fill="#148ed3" d="M988.8 1823.0L977.5 1823.5L975.8 1818.3Z"/><path fill="#0a669a" d="M988.8 1823.0L980.4 1815.4L975.8 1818.3Z"/>
<path fill="#0d71c4" d="M990.0 1812.1L1008.5 1824.3L1010.0 1822.0L991.0 1810.6Z"/><path fill="#147cd0" d="M1019.0 1829.3L1008.1 1827.4L1007.7 1822.2Z"/><path fill="#0a5898" d="M1019.0 1829.3L1012.6 1820.3L1007.7 1822.2Z"/>
<path fill="#0d60c1" d="M1024.4 1811.9L1039.3 1826.2L1041.1 1824.3L1025.4 1810.8Z"/><path fill="#146ace" d="M1048.1 1832.4L1038.5 1829.0L1038.9 1824.1Z"/><path fill="#0a4a96" d="M1048.1 1832.4L1043.8 1823.2L1038.9 1824.1Z"/>
<path fill="#0d49bf" d="M1058.8 1811.8L1069.7 1825.4L1071.4 1824.0L1059.8 1810.9Z"/><path fill="#1452cb" d="M1076.2 1831.4L1068.7 1827.6L1069.6 1823.7Z"/><path fill="#0a3893" d="M1076.2 1831.4L1073.7 1823.4L1069.6 1823.7Z"/>
<path fill="#15cfc6" d="M904.3 1847.1L934.3 1852.6L934.9 1848.7L904.7 1844.7Z"/><path fill="#1ddbd2" d="M950.9 1853.3L935.6 1856.7L932.0 1850.2Z"/><path fill="#11a39c" d="M950.9 1853.3L937.4 1845.2L932.0 1850.2Z"/>
<path fill="#15cfc6" d="M938.5 1847.0L967.7 1856.6L968.8 1852.9L939.3 1844.7Z"/><path fill="#1ddbd2" d="M984.2 1859.6L968.5 1861.0L965.7 1854.0Z"/><path fill="#11a39c" d="M984.2 1859.6L971.9 1849.7L965.7 1854.0Z"/>
<path fill="#0db3cb" d="M972.8 1846.9L997.9 1859.8L999.4 1856.6L973.8 1844.9Z"/><path fill="#14c0d8" d="M1012.3 1864.9L997.9 1863.9L996.5 1857.2Z"/><path fill="#0a8da0" d="M1012.3 1864.9L1002.7 1854.2L996.5 1857.2Z"/>
<path fill="#0d8ec7" d="M1007.1 1846.7L1026.7 1863.0L1028.7 1860.5L1008.3 1845.1Z"/><path fill="#1499d4" d="M1038.3 1870.1L1025.9 1866.5L1026.0 1860.4Z"/><path fill="#0a6f9c" d="M1038.3 1870.1L1032.0 1858.9L1026.0 1860.4Z"/>
<path fill="#0d60c1" d="M1041.5 1846.3L1053.0 1862.6L1054.9 1861.2L1042.7 1845.4Z"/><path fill="#146ace" d="M1060.0 1870.1L1051.6 1865.1L1053.0 1860.6Z"/><path fill="#0a4a96" d="M1060.0 1870.1L1057.7 1860.7L1053.0 1860.6Z"/>
<path fill="#0d43be" d="M1076.0 1846.2L1083.4 1861.2L1085.1 1860.2L1077.0 1845.6Z"/><path fill="#144ccb" d="M1088.1 1868.0L1082.0 1863.0L1083.6 1859.5Z"/><path fill="#0a3492" d="M1088.1 1868.0L1087.4 1860.2L1083.6 1859.5Z"/>
<path fill="#3ecf9d" d="M921.6 1881.9L958.1 1886.4L958.6 1881.7L921.8 1878.9Z"/><path fill="#47dba9" d="M978.6 1886.1L960.1 1891.4L955.1 1883.7Z"/><path fill="#31a37c" d="M978.6 1886.1L961.5 1877.3L955.1 1883.7Z"/>
<path fill="#33cfa9" d="M955.6 1881.7L988.0 1894.8L989.5 1890.5L956.6 1879.1Z"/><path fill="#3bdbb5" d="M1006.7 1899.4L988.6 1899.7L985.9 1891.6Z"/><path fill="#28a385" d="M1006.7 1899.4L993.3 1887.2L985.9 1891.6Z"/>
<path fill="#27cfb4" d="M989.6 1881.5L1016.3 1903.9L1019.1 1900.4L991.4 1879.3Z"/><path fill="#2fdbc0" d="M1032.7 1914.1L1015.3 1908.8L1015.3 1900.3Z"/><path fill="#1fa38e" d="M1032.7 1914.1L1023.7 1898.4L1015.3 1900.3Z"/>
<path fill="#0db3cb" d="M1024.0 1881.1L1041.9 1904.2L1044.8 1901.8L1025.8 1879.7Z"/><path fill="#14c0d8" d="M1053.4 1915.2L1040.3 1908.0L1041.8 1901.0Z"/><path fill="#0a8da0" d="M1053.4 1915.2L1048.9 1900.9L1041.8 1901.0Z"/>
<path fill="#0d71c4" d="M1058.6 1880.8L1068.6 1899.8L1070.9 1898.5L1060.0 1880.0Z"/><path fill="#147cd0" d="M1075.1 1908.9L1066.8 1902.3L1068.9 1897.6Z"/><path fill="#0a5898" d="M1075.1 1908.9L1073.9 1898.3L1068.9 1897.6Z"/>
<path fill="#51cf8b" d="M938.5 1916.3L973.6 1926.7L974.8 1922.1L939.3 1913.5Z"/><path fill="#5adb96" d="M993.7 1929.7L974.7 1931.8L971.1 1923.6Z"/><path fill="#40a36e" d="M993.7 1929.7L978.4 1918.3L971.1 1923.6Z"/>
<path fill="#5dcf7e" d="M972.5 1916.2L1005.1 1938.1L1007.9 1933.8L974.1 1913.6Z"/><path fill="#67db89" d="M1024.9 1947.6L1004.7 1943.7L1003.6 1934.1Z"/><path fill="#4aa364" d="M1024.9 1947.6L1012.8 1930.9L1003.6 1934.1Z"/>
<path fill="#5dcf7e" d="M1006.5 1916.0L1032.8 1947.2L1036.8 1943.6L1008.9 1913.8Z"/><path fill="#67db89" d="M1049.9 1962.3L1030.7 1952.6L1032.4 1942.7Z"/><path fill="#4aa364" d="M1049.9 1962.3L1042.5 1942.2L1032.4 1942.7Z"/>
<path fill="#27cfb4" d="M1040.9 1915.7L1058.5 1946.0L1062.4 1943.7L1043.3 1914.2Z"/><path fill="#2fdbc0" d="M1070.6 1961.3L1055.9 1950.3L1058.8 1942.2Z"/><path fill="#1fa38e" d="M1070.6 1961.3L1067.4 1943.3L1058.8 1942.2Z"/>
<path fill="#0d7dc5" d="M1075.7 1915.3L1085.6 1935.6L1088.1 1934.4L1077.3 1914.5Z"/><path fill="#1488d2" d="M1092.3 1945.5L1083.7 1938.2L1086.0 1933.3Z"/><path fill="#0a629a" d="M1092.3 1945.5L1091.4 1934.3L1086.0 1933.3Z"/>
<path fill="#64cf77" d="M955.5 1950.9L992.4 1966.8L994.3 1961.9L956.7 1947.9Z"/><path fill="#6edb82" d="M1014.1 1972.6L993.0 1972.5L990.0 1963.0Z"/><path fill="#4fa35e" d="M1014.1 1972.6L998.7 1958.2L990.0 1963.0Z"/>
<path fill="#96cf46" d="M989.1 1950.8L1022.6 1986.1L1027.1 1981.6L991.9 1948.0Z"/><path fill="#a1db4f" d="M1044.3 2003.2L1020.6 1992.8L1021.8 1980.7Z"/><path fill="#76a337" d="M1044.3 2003.2L1033.8 1979.5L1021.8 1980.7Z"/>
<path fill="#80cf5b" d="M1023.3 1950.4L1046.6 1990.2L1051.8 1987.0L1026.5 1948.5Z"/><path fill="#8bdb65" d="M1062.8 2010.6L1043.3 1995.9L1047.0 1985.1Z"/><path fill="#65a348" d="M1062.8 2010.6L1058.4 1986.5L1047.0 1985.1Z"/>
<path fill="#27cfb4" d="M1058.0 1950.0L1070.1 1982.9L1074.3 1981.2L1060.6 1948.9Z"/><path fill="#2fdbc0" d="M1079.3 2000.0L1066.8 1986.7L1071.1 1979.2Z"/><path fill="#1fa38e" d="M1079.3 2000.0L1079.3 1981.8L1071.1 1979.2Z"/>
<path fill="#0d71c4" d="M1093.0 1949.6L1097.5 1967.3L1099.7 1966.7L1094.4 1949.3Z"/><path fill="#147cd0" d="M1101.1 1975.8L1095.6 1969.0L1098.2 1965.6Z"/><path fill="#0a5898" d="M1101.1 1975.8L1102.2 1967.1L1098.2 1965.6Z"/>
<path fill="#72cf6a" d="M972.2 1985.3L1004.6 2014.5L1008.3 2010.2L974.4 1982.6Z"/><path fill="#7cdb74" d="M1024.9 2028.2L1003.2 2020.6L1003.4 2009.8Z"/><path fill="#5aa353" d="M1024.9 2028.2L1014.1 2007.9L1003.4 2009.8Z"/>
<path fill="#cbcf10" d="M1005.8 1985.1L1033.4 2033.6L1039.7 2029.8L1009.6 1982.8Z"/><path fill="#d8db18" d="M1053.0 2058.8L1029.4 2040.5L1034.0 2027.3Z"/><path fill="#a0a30d" d="M1053.0 2058.8L1047.8 2029.3L1034.0 2027.3Z"/>
<path fill="#a5cf37" d="M1040.2 1984.8L1060.0 2031.1L1066.0 2028.4L1044.0 1983.1Z"/><path fill="#b0db3f" d="M1074.8 2055.6L1055.6 2036.9L1061.1 2025.6Z"/><path fill="#82a32b" d="M1074.8 2055.6L1073.2 2028.8L1061.1 2025.6Z"/>
<path fill="#15cfc6" d="M1075.2 1984.3L1081.9 2016.5L1086.1 2015.5L1077.8 1983.7Z"/><path fill="#1ddbd2" d="M1088.1 2033.5L1078.3 2019.5L1083.3 2013.2Z"/><path fill="#11a39c" d="M1088.1 2033.5L1090.6 2016.7L1083.3 2013.2Z"/>
<path fill="#80cf5b" d="M988.9 2019.5L1013.6 2059.3L1018.7 2055.9L992.1 2017.4Z"/><path fill="#8bdb65" d="M1030.6 2079.6L1010.3 2065.2L1013.8 2054.1Z"/><path fill="#65a348" d="M1030.6 2079.6L1025.4 2055.3L1013.8 2054.1Z"/>
<path fill="#cf940d" d="M1022.9 2019.3L1041.9 2068.3L1048.3 2065.6L1026.9 2017.7Z"/><path fill="#dba014" d="M1056.5 2094.4L1037.1 2074.1L1043.3 2062.5Z"/><path fill="#a3750a" d="M1056.5 2094.4L1055.8 2066.3L1043.3 2062.5Z"/>
<path fill="#a5cf37" d="M1057.3 2018.9L1067.6 2067.7L1073.9 2066.2L1061.3 2018.0Z"/><path fill="#b0db3f" d="M1077.2 2094.4L1062.2 2072.5L1069.7 2062.6Z"/><path fill="#82a32b" d="M1077.2 2094.4L1080.9 2068.1L1069.7 2062.6Z"/>
<path fill="#0d83c6" d="M1092.8 2018.6L1094.9 2042.8L1098.0 2042.5L1094.6 2018.4Z"/><path fill="#148ed3" d="M1097.9 2055.4L1092.0 2044.7L1096.2 2040.6Z"/><path fill="#0a669a" d="M1097.9 2055.4L1101.2 2043.6L1096.2 2040.6Z"/>
<path fill="#27cfb4" d="M972.2 2053.8L991.3 2081.5L994.8 2079.0L974.4 2052.2Z"/><path fill="#2fdbc0" d="M1003.9 2095.2L989.1 2085.8L991.3 2077.9Z"/><path fill="#1fa38e" d="M1003.9 2095.2L999.6 2078.2L991.3 2077.9Z"/>
<path fill="#cf850d" d="M1005.5 2053.6L1019.0 2107.1L1026.0 2105.1L1009.9 2052.4Z"/><path fill="#db9014" d="M1030.9 2136.3L1013.2 2112.6L1021.1 2101.3Z"/><path fill="#a3690a" d="M1030.9 2136.3L1033.7 2106.9L1021.1 2101.3Z"/>
<path fill="#cf6e0d" d="M1039.9 2053.4L1049.3 2106.8L1056.4 2105.4L1044.3 2052.6Z"/><path fill="#db7814" d="M1059.0 2136.3L1043.3 2111.8L1051.9 2101.3Z"/><path fill="#a3570a" d="M1059.0 2136.3L1063.8 2107.7L1051.9 2101.3Z"/>
<path fill="#96cf46" d="M1074.8 2053.2L1078.5 2095.2L1084.0 2094.6L1078.2 2052.8Z"/><path fill="#a1db4f" d="M1083.9 2118.3L1073.5 2098.7L1080.8 2091.2Z"/><path fill="#76a337" d="M1083.9 2118.3L1089.6 2096.8L1080.8 2091.2Z"/>
<path fill="#0ececc" d="M1109.7 2053.1L1112.7 2083.1L1116.6 2082.6L1112.1 2052.9Z"/><path fill="#16dad9" d="M1116.7 2099.1L1109.2 2085.5L1114.3 2080.3Z"/><path fill="#0ba2a1" d="M1116.7 2099.1L1120.6 2084.1L1114.3 2080.3Z"/>
<path fill="#3ecf9d" d="M989.1 2088.0L999.8 2123.6L1004.3 2122.1L991.9 2087.1Z"/><path fill="#47dba9" d="M1008.4 2142.3L996.0 2127.4L1001.0 2119.7Z"/><path fill="#31a37c" d="M1008.4 2142.3L1009.6 2122.9L1001.0 2119.7Z"/>
<path fill="#cfc90d" d="M1022.9 2088.0L1033.1 2138.6L1039.7 2137.1L1026.9 2087.1Z"/><path fill="#dbd614" d="M1042.9 2166.3L1027.5 2143.5L1035.4 2133.3Z"/><path fill="#a39f0a" d="M1042.9 2166.3L1046.9 2139.0L1035.4 2133.3Z"/>
<path fill="#cf850d" d="M1056.7 2087.7L1060.4 2152.2L1068.9 2151.5L1061.9 2087.3Z"/><path fill="#db9014" d="M1067.7 2188.7L1052.6 2157.3L1064.2 2146.0Z"/><path fill="#a3690a" d="M1067.7 2188.7L1077.5 2155.2L1064.2 2146.0Z"/>
<path fill="#0d83c6" d="M1092.7 2087.7L1096.9 2113.9L1100.2 2113.3L1094.7 2087.3Z"/><path fill="#148ed3" d="M1101.1 2127.6L1093.8 2116.2L1098.1 2111.4Z"/><path fill="#0a669a" d="M1101.1 2127.6L1103.8 2114.4L1098.1 2111.4Z"/>
<path fill="#cf940d" d="M1005.1 2122.2L1007.4 2186.6L1016.0 2186.1L1010.3 2121.9Z"/><path fill="#dba014" d="M1014.0 2223.2L999.6 2191.6L1011.4 2180.5Z"/><path fill="#a3750a" d="M1014.0 2223.2L1024.4 2190.0L1011.4 2180.5Z"/>
<path fill="#cb0d0d" d="M1039.0 2122.2L1041.1 2197.2L1051.1 2196.6L1045.2 2121.9Z"/><path fill="#d71414" d="M1048.4 2240.1L1031.9 2202.9L1045.7 2190.0Z"/><path fill="#a00a0a" d="M1048.4 2240.1L1060.9 2201.3L1045.7 2190.0Z"/>
<path fill="#96cf46" d="M1074.5 2122.1L1075.3 2170.7L1081.7 2170.4L1078.5 2122.0Z"/><path fill="#a1db4f" d="M1079.7 2197.9L1069.3 2174.2L1078.3 2166.2Z"/><path fill="#76a337" d="M1079.7 2197.9L1088.0 2173.5L1078.3 2166.2Z"/>
<path fill="#72cf6a" d="M988.7 2156.5L985.5 2201.7L991.4 2201.9L992.3 2156.6Z"/><path fill="#7cdb74" d="M987.3 2227.2L979.6 2204.4L988.7 2197.7Z"/><path fill="#5aa353" d="M987.3 2227.2L997.1 2205.2L988.7 2197.7Z"/>
<path fill="#cb0d0d" d="M1022.0 2156.5L1017.5 2227.3L1027.0 2227.7L1027.8 2156.7Z"/><path fill="#d71414" d="M1020.7 2268.3L1008.3 2231.9L1022.5 2221.0Z"/><path fill="#a00a0a" d="M1020.7 2268.3L1035.8 2232.9L1022.5 2221.0Z"/>
<path fill="#cf850d" d="M1056.7 2156.5L1054.4 2220.9L1062.9 2220.9L1061.9 2156.6Z"/><path fill="#db9014" d="M1058.2 2257.7L1046.1 2225.2L1058.7 2215.0Z"/><path fill="#a3690a" d="M1058.2 2257.7L1071.0 2225.4L1058.7 2215.0Z"/>
<path fill="#15cfc6" d="M1092.3 2156.5L1088.8 2190.4L1093.2 2190.8L1095.1 2156.7Z"/><path fill="#1ddbd2" d="M1089.5 2209.3L1084.3 2192.3L1091.2 2187.6Z"/><path fill="#11a39c" d="M1089.5 2209.3L1097.3 2193.4L1091.2 2187.6Z"/>
<path fill="#0db3cb" d="M972.3 2190.6L960.0 2215.7L963.3 2217.2L974.3 2191.5Z"/><path fill="#14c0d8" d="M955.4 2230.1L956.0 2215.9L962.6 2214.3Z"/><path fill="#0a8da0" d="M955.4 2230.1L965.7 2220.3L962.6 2214.3Z"/>
<path fill="#cf940d" d="M1005.1 2190.7L994.7 2254.8L1003.3 2256.0L1010.3 2191.4Z"/><path fill="#dba014" d="M994.0 2292.3L985.9 2258.1L999.8 2249.5Z"/><path fill="#a3750a" d="M994.0 2292.3L1010.8 2261.5L999.8 2249.5Z"/>
<path fill="#cf540d" d="M1039.7 2190.8L1031.9 2249.9L1039.8 2250.7L1044.5 2191.3Z"/><path fill="#db5d14" d="M1032.2 2284.1L1023.9 2253.2L1036.4 2244.9Z"/><path fill="#a3420a" d="M1032.2 2284.1L1046.8 2255.6L1036.4 2244.9Z"/>
<path fill="#72cf6a" d="M1074.7 2190.9L1068.9 2235.3L1074.7 2236.0L1078.3 2191.3Z"/><path fill="#7cdb74" d="M1069.1 2260.6L1062.9 2237.7L1072.2 2231.7Z"/><path fill="#5aa353" d="M1069.1 2260.6L1080.0 2239.6L1072.2 2231.7Z"/>
<path fill="#accf2f" d="M988.6 2224.9L969.2 2271.5L975.4 2273.9L992.4 2226.3Z"/><path fill="#b8db38" d="M962.0 2299.4L962.0 2272.4L974.0 2268.5Z"/><path fill="#88a325" d="M962.0 2299.4L980.2 2279.4L974.0 2268.5Z"/>
<path fill="#cf200d" d="M1022.0 2225.1L1006.8 2295.6L1016.3 2297.4L1027.8 2226.1Z"/><path fill="#db2814" d="M1003.8 2337.3L996.9 2298.8L1012.8 2290.0Z"/><path fill="#a3190a" d="M1003.8 2337.3L1024.3 2304.0L1012.8 2290.0Z"/>
<path fill="#cbcf10" d="M1057.0 2225.3L1047.5 2281.5L1055.0 2282.6L1061.6 2225.9Z"/><path fill="#d8db18" d="M1046.7 2314.1L1039.8 2284.3L1052.0 2276.9Z"/><path fill="#a0a30d" d="M1046.7 2314.1L1061.6 2287.4L1052.0 2276.9Z"/>
<path fill="#0d71c4" d="M1092.9 2225.4L1087.5 2246.8L1090.2 2247.4L1094.5 2225.8Z"/><path fill="#147cd0" d="M1086.3 2258.3L1084.5 2247.5L1089.3 2245.3Z"/><path fill="#0a5898" d="M1086.3 2258.3L1092.6 2249.4L1089.3 2245.3Z"/>
<path fill="#3ecf9d" d="M972.2 2259.1L947.0 2287.0L950.7 2290.2L974.4 2261.1Z"/><path fill="#47dba9" d="M935.4 2304.4L941.8 2285.8L951.0 2286.1Z"/><path fill="#31a37c" d="M935.4 2304.4L952.7 2295.2L951.0 2286.1Z"/>
<path fill="#cf940d" d="M1005.3 2259.2L981.7 2316.3L989.4 2319.3L1010.1 2261.0Z"/><path fill="#dba014" d="M972.9 2350.8L972.9 2317.5L987.6 2312.5Z"/><path fill="#a3750a" d="M972.9 2350.8L995.2 2326.0L987.6 2312.5Z"/>
<path fill="#cf940d" d="M1039.5 2259.6L1024.5 2322.2L1032.9 2324.0L1044.7 2260.7Z"/><path fill="#dba014" d="M1021.0 2359.2L1015.6 2324.9L1029.9 2317.3Z"/><path fill="#a3750a" d="M1021.0 2359.2L1040.0 2330.0L1029.9 2317.3Z"/>
<path fill="#44cf97" d="M1075.0 2259.8L1067.3 2297.7L1072.2 2298.5L1078.0 2260.4Z"/><path fill="#4ddba2" d="M1066.0 2319.1L1062.0 2299.3L1070.3 2294.7Z"/><path fill="#36a377" d="M1066.0 2319.1L1076.6 2301.9L1070.3 2294.7Z"/>
<path fill="#33cfa9" d="M955.2 2293.4L923.5 2314.3L926.3 2318.4L957.0 2295.9Z"/><path fill="#3bdbb5" d="M907.6 2328.4L918.7 2311.8L927.7 2314.4Z"/><path fill="#28a385" d="M907.6 2328.4L927.0 2323.8L927.7 2314.4Z"/>
<path fill="#cfcb0d" d="M988.8 2293.5L960.7 2336.0L966.4 2339.5L992.2 2295.7Z"/><path fill="#dbd714" d="M948.3 2362.1L953.4 2335.5L966.0 2333.8Z"/><path fill="#a3a00a" d="M948.3 2362.1L970.1 2345.9L966.0 2333.8Z"/>
<path fill="#cfbb0d" d="M1022.8 2293.8L1000.0 2344.3L1006.8 2347.1L1027.0 2295.5Z"/><path fill="#dbc714" d="M991.2 2374.7L992.1 2345.0L1005.3 2341.1Z"/><path fill="#a3940a" d="M991.2 2374.7L1011.8 2353.4L1005.3 2341.1Z"/>
<path fill="#51cf8b" d="M1057.7 2294.2L1045.9 2333.9L1051.1 2335.3L1060.9 2295.1Z"/><path fill="#5adb96" d="M1042.4 2356.8L1040.1 2335.2L1049.4 2331.0Z"/><path fill="#40a36e" d="M1042.4 2356.8L1055.4 2339.3L1049.4 2331.0Z"/>
<path fill="#27cfb4" d="M938.4 2327.8L904.8 2338.6L906.3 2342.9L939.4 2330.5Z"/><path fill="#2fdbc0" d="M887.3 2347.1L901.2 2335.1L908.5 2339.7Z"/><path fill="#1fa38e" d="M887.3 2347.1L905.6 2347.9L908.5 2339.7Z"/>
<path fill="#4fcf8d" d="M972.4 2327.8L938.5 2348.3L941.3 2352.6L974.2 2330.5Z"/><path fill="#58db98" d="M921.3 2362.3L933.5 2345.5L942.8 2348.6Z"/><path fill="#3ea36f" d="M921.3 2362.3L941.7 2358.3L942.8 2348.6Z"/>
<path fill="#b2cf29" d="M1005.9 2328.2L980.3 2370.9L986.0 2374.1L1009.5 2330.2Z"/><path fill="#bedb31" d="M969.2 2396.9L973.1 2370.7L985.3 2368.6Z"/><path fill="#8da320" d="M969.2 2396.9L989.8 2380.2L985.3 2368.6Z"/>
<path fill="#4fcf8c" d="M1040.6 2328.6L1024.5 2365.1L1029.3 2367.1L1043.6 2329.8Z"/><path fill="#58db97" d="M1018.5 2386.7L1018.8 2365.7L1028.3 2362.8Z"/><path fill="#3ea36f" d="M1018.5 2386.7L1033.0 2371.5L1028.3 2362.8Z"/>
<path fill="#0d71c4" d="M1075.8 2328.8L1066.3 2347.4L1068.6 2348.5L1077.2 2329.5Z"/><path fill="#147cd0" d="M1062.8 2357.6L1063.3 2347.4L1068.2 2346.4Z"/><path fill="#0a5898" d="M1062.8 2357.6L1070.5 2350.8L1068.2 2346.4Z"/>
<path fill="#1bcfc0" d="M921.5 2362.5L890.7 2366.5L891.3 2370.4L921.9 2364.9Z"/><path fill="#23dbcc" d="M874.3 2371.1L888.1 2362.9L893.6 2368.0Z"/><path fill="#16a398" d="M874.3 2371.1L889.9 2374.7L893.6 2368.0Z"/>
<path fill="#33cfa9" d="M955.6 2362.4L922.1 2373.4L923.6 2377.7L956.6 2365.0Z"/><path fill="#3bdbb4" d="M904.5 2382.2L918.3 2370.0L925.8 2374.5Z"/><path fill="#28a385" d="M904.5 2382.2L922.9 2382.8L925.8 2374.5Z"/>
<path fill="#53cf88" d="M989.5 2362.6L960.9 2387.3L964.2 2391.0L991.5 2364.8Z"/><path fill="#5ddb93" d="M947.1 2403.2L955.8 2385.5L965.0 2386.9Z"/><path fill="#42a36c" d="M947.1 2403.2L965.6 2396.2L965.0 2386.9Z"/>
<path fill="#1acfc1" d="M1023.8 2363.0L1006.4 2389.6L1009.8 2391.7L1026.0 2364.3Z"/><path fill="#22dbce" d="M998.9 2405.3L1001.8 2389.2L1009.6 2388.3Z"/><path fill="#15a399" d="M998.9 2405.3L1012.2 2395.6L1009.6 2388.3Z"/>
<path fill="#0d9fc9" d="M1058.3 2363.2L1045.5 2387.3L1048.6 2388.9L1060.3 2364.2Z"/><path fill="#14abd6" d="M1040.4 2401.2L1041.6 2387.3L1048.1 2386.0Z"/><path fill="#0a7d9e" d="M1040.4 2401.2L1050.9 2392.0L1048.1 2386.0Z"/>
<path fill="#15cfc6" d="M904.4 2397.0L873.3 2398.6L873.6 2402.6L904.6 2399.4Z"/><path fill="#1ddbd2" d="M856.5 2401.9L871.0 2394.8L876.1 2400.4Z"/><path fill="#11a39c" d="M856.5 2401.9L871.9 2406.7L876.1 2400.4Z"/>
<path fill="#27cfb4" d="M938.5 2396.8L904.2 2405.5L905.4 2409.9L939.3 2399.6Z"/><path fill="#2fdbc0" d="M886.0 2413.0L900.7 2401.8L907.8 2406.9Z"/><path fill="#1fa38e" d="M886.0 2413.0L904.4 2414.9L907.8 2406.9Z"/>
<path fill="#72cf6a" d="M972.2 2396.9L940.0 2423.0L943.5 2427.1L974.4 2399.5Z"/><path fill="#7cdb74" d="M924.1 2440.0L934.4 2420.8L944.5 2422.6Z"/><path fill="#5aa353" d="M924.1 2440.0L944.8 2432.9L944.5 2422.6Z"/>
<path fill="#51cf8b" d="M1006.5 2397.4L986.7 2427.1L990.6 2429.6L1008.9 2399.0Z"/><path fill="#5adb96" d="M978.2 2444.9L981.6 2426.7L990.3 2425.7Z"/><path fill="#40a36e" d="M978.2 2444.9L993.2 2434.0L990.3 2425.7Z"/>
<path fill="#0d8ec7" d="M1041.2 2397.7L1027.8 2421.4L1030.8 2423.0L1043.0 2398.7Z"/><path fill="#1499d4" d="M1022.4 2435.1L1023.9 2421.3L1030.4 2420.2Z"/><path fill="#0a6f9c" d="M1022.4 2435.1L1033.1 2426.2L1030.4 2420.2Z"/>
<path fill="#0db3cb" d="M887.4 2431.5L857.2 2427.1L856.8 2431.0L887.2 2433.9Z"/><path fill="#14c0d8" d="M840.6 2427.1L855.7 2423.0L859.6 2429.4Z"/><path fill="#0a8da0" d="M840.6 2427.1L854.3 2434.6L859.6 2429.4Z"/>
<path fill="#0dc9cd" d="M921.5 2431.5L891.1 2435.1L891.7 2439.0L921.9 2433.9Z"/><path fill="#14d6da" d="M875.0 2439.4L888.6 2431.5L894.0 2436.7Z"/><path fill="#0a9fa2" d="M875.0 2439.4L890.3 2443.1L894.0 2436.7Z"/>
<path fill="#15cfc6" d="M955.6 2431.6L926.6 2444.7L928.3 2448.4L956.6 2433.9Z"/><path fill="#1ddbd2" d="M911.8 2454.1L922.9 2442.0L929.9 2445.4Z"/><path fill="#11a39c" d="M911.8 2454.1L928.2 2453.0L929.9 2445.4Z"/>
<path fill="#33cfa9" d="M989.5 2431.9L967.4 2456.0L970.6 2458.8L991.5 2433.6Z"/><path fill="#3bdbb5" d="M957.3 2470.8L962.9 2454.9L970.9 2455.2Z"/><path fill="#28a385" d="M957.3 2470.8L972.3 2463.1L970.9 2455.2Z"/>
<path fill="#0d83c6" d="M1024.2 2432.3L1012.4 2450.6L1014.7 2452.0L1025.6 2433.2Z"/><path fill="#148ed3" d="M1007.7 2461.0L1009.3 2450.3L1014.5 2449.8Z"/><path fill="#0a669a" d="M1007.7 2461.0L1016.4 2454.6L1014.5 2449.8Z"/>
<path fill="#0d72c4" d="M1058.6 2432.3L1047.6 2450.0L1049.8 2451.3L1060.0 2433.1Z"/><path fill="#147cd0" d="M1043.2 2459.9L1044.6 2449.7L1049.6 2449.2Z"/><path fill="#0a5998" d="M1043.2 2459.9L1051.5 2453.8L1049.6 2449.2Z"/>
<path fill="#0da4c9" d="M835.8 2466.1L807.1 2463.0L806.8 2466.7L835.6 2468.4Z"/><path fill="#14afd6" d="M791.4 2463.6L805.5 2459.2L809.4 2465.1Z"/><path fill="#0a819e" d="M791.4 2463.6L804.6 2470.2L809.4 2465.1Z"/>
<path fill="#0da4c9" d="M870.2 2466.2L843.0 2463.9L842.8 2467.4L870.0 2468.3Z"/><path fill="#14afd6" d="M828.3 2464.8L841.4 2460.3L845.2 2465.8Z"/><path fill="#0a819e" d="M828.3 2464.8L840.8 2470.7L845.2 2465.8Z"/>
<path fill="#0da4c9" d="M904.5 2466.2L878.1 2464.4L878.0 2467.8L904.5 2468.3Z"/><path fill="#14afd6" d="M863.9 2465.5L876.6 2461.0L880.3 2466.2Z"/><path fill="#0a819e" d="M863.9 2465.5L876.1 2471.1L880.3 2466.2Z"/>
<path fill="#0d8ec7" d="M938.6 2466.3L914.3 2474.2L915.3 2477.3L939.2 2468.2Z"/><path fill="#1499d4" d="M902.0 2480.3L911.7 2471.7L916.9 2475.0Z"/><path fill="#0a6f9c" d="M902.0 2480.3L914.9 2480.9L916.9 2475.0Z"/>
<path fill="#0d7dc5" d="M972.8 2466.5L953.2 2478.1L954.7 2480.6L973.8 2468.0Z"/><path fill="#1488d2" d="M943.8 2485.7L950.4 2476.4L955.5 2478.3Z"/><path fill="#0a629a" d="M943.8 2485.7L955.0 2483.8L955.5 2478.3Z"/>
<path fill="#0d60c1" d="M1007.1 2466.7L993.8 2481.1L995.6 2482.7L1008.3 2467.7Z"/><path fill="#146ace" d="M988.0 2489.4L991.1 2480.3L995.7 2480.7Z"/><path fill="#0a4a96" d="M988.0 2489.4L996.7 2485.3L995.7 2480.7Z"/>
<path fill="#0d43be" d="M1041.6 2467.0L1034.6 2479.3L1036.3 2480.2L1042.6 2467.5Z"/><path fill="#144ccb" d="M1032.3 2485.7L1033.2 2479.4L1035.9 2478.8Z"/><path fill="#0a3492" d="M1032.3 2485.7L1036.9 2481.5L1035.9 2478.8Z"/>
<path fill="#0d71c4" d="M818.5 2501.0L797.4 2500.5L797.4 2503.1L818.5 2502.6Z"/><path fill="#147cd0" d="M786.5 2501.8L796.1 2497.8L799.2 2501.8Z"/><path fill="#0a5898" d="M786.5 2501.8L796.1 2505.8L799.2 2501.8Z"/>
<path fill="#0d71c4" d="M853.0 2501.0L831.9 2498.8L831.7 2501.4L852.8 2502.6Z"/><path fill="#147cd0" d="M820.9 2499.3L830.8 2496.0L833.6 2500.3Z"/><path fill="#0a5898" d="M820.9 2499.3L830.2 2504.0L833.6 2500.3Z"/>
<path fill="#0d71c4" d="M887.4 2500.9L865.6 2498.5L865.3 2501.2L887.2 2502.6Z"/><path fill="#147cd0" d="M854.1 2498.8L864.5 2495.5L867.3 2500.0Z"/><path fill="#0a5898" d="M854.1 2498.8L863.7 2503.8L867.3 2500.0Z"/>
<path fill="#0d60c1" d="M921.6 2501.0L901.2 2502.9L901.5 2505.5L921.8 2502.5Z"/><path fill="#146ace" d="M891.0 2505.4L899.7 2500.5L903.1 2504.0Z"/><path fill="#0a4a96" d="M891.0 2505.4L900.6 2508.2L903.1 2504.0Z"/>
<path fill="#0d54c0" d="M955.8 2501.1L938.4 2509.7L939.5 2511.8L956.4 2502.4Z"/><path fill="#145dcd" d="M930.3 2515.3L936.2 2508.0L940.4 2510.0Z"/><path fill="#0a4195" d="M930.3 2515.3L939.6 2514.5L940.4 2510.0Z"/>
<path fill="#0d43be" d="M990.2 2501.2L976.0 2510.0L977.1 2511.7L990.8 2502.3Z"/><path fill="#144ccb" d="M969.6 2515.3L974.1 2508.8L977.6 2510.1Z"/><path fill="#0a3492" d="M969.6 2515.3L977.3 2513.9L977.6 2510.1Z"/>
<path fill="#0d39bc" d="M1024.5 2501.3L1014.2 2511.1L1015.6 2512.4L1025.3 2502.2Z"/><path fill="#1442c9" d="M1010.1 2516.5L1012.8 2510.8L1015.7 2511.0Z"/><path fill="#0a2c91" d="M1010.1 2516.5L1015.8 2513.8L1015.7 2511.0Z"/>
<path fill="#0d54c0" d="M801.3 2535.6L782.5 2535.1L782.5 2537.4L801.3 2537.0Z"/><path fill="#145dcd" d="M773.0 2536.3L781.4 2532.7L784.0 2536.3Z"/><path fill="#0a4195" d="M773.0 2536.3L781.4 2539.8L784.0 2536.3Z"/>
<path fill="#0d54c0" d="M835.7 2535.5L815.4 2534.5L815.4 2537.0L835.7 2537.1Z"/><path fill="#145dcd" d="M805.0 2535.5L814.2 2531.9L817.1 2535.8Z"/><path fill="#0a4195" d="M805.0 2535.5L814.0 2539.6L817.1 2535.8Z"/>
<path fill="#0d4ebf" d="M870.2 2535.6L852.3 2532.7L852.0 2534.9L870.0 2537.0Z"/><path fill="#1458cc" d="M843.1 2532.6L851.5 2530.3L853.6 2534.0Z"/><path fill="#0a3d94" d="M843.1 2532.6L850.6 2537.1L853.6 2534.0Z"/>
<path fill="#0d49bf" d="M904.5 2535.6L886.4 2536.0L886.5 2538.2L904.5 2537.0Z"/><path fill="#1452cb" d="M877.5 2537.5L885.3 2533.7L887.9 2537.0Z"/><path fill="#0a3893" d="M877.5 2537.5L885.6 2540.5L887.9 2537.0Z"/>
<path fill="#0d2aba" d="M938.7 2535.7L926.1 2538.7L926.6 2540.6L939.1 2536.9Z"/><path fill="#1433c7" d="M920.5 2541.2L925.1 2538.1L927.2 2539.4Z"/><path fill="#0a218f" d="M920.5 2541.2L926.1 2541.5L927.2 2539.4Z"/>
<path fill="#0d39bc" d="M972.9 2535.8L960.3 2544.6L961.5 2546.2L973.7 2536.8Z"/><path fill="#1442c9" d="M954.9 2549.8L958.7 2543.9L961.9 2544.7Z"/><path fill="#0a2c91" d="M954.9 2549.8L961.7 2548.0L961.9 2544.7Z"/>
<path fill="#0d34bc" d="M1007.3 2535.9L997.0 2545.6L998.4 2547.0L1008.1 2536.7Z"/><path fill="#143dc8" d="M992.9 2551.0L995.6 2545.3L998.5 2545.5Z"/><path fill="#0a2890" d="M992.9 2551.0L998.6 2548.4L998.5 2545.5Z"/>
<path fill="#0d43be" d="M784.0 2570.2L766.8 2571.4L767.0 2573.5L784.2 2571.4Z"/><path fill="#144ccb" d="M758.3 2573.3L765.5 2569.3L768.2 2572.3Z"/><path fill="#0a3492" d="M758.3 2573.3L766.1 2575.8L768.2 2572.3Z"/>
<path fill="#0d3ebd" d="M818.5 2570.2L802.0 2570.1L802.1 2572.1L818.5 2571.4Z"/><path fill="#1447ca" d="M793.9 2571.3L801.0 2568.2L803.3 2571.1Z"/><path fill="#0a3092" d="M793.9 2571.3L801.1 2574.1L803.3 2571.1Z"/>
<path fill="#0d39bc" d="M853.0 2570.2L837.4 2566.5L837.0 2568.5L852.8 2571.4Z"/><path fill="#1442c9" d="M829.5 2565.9L836.9 2564.6L838.5 2567.8Z"/><path fill="#0a2c91" d="M829.5 2565.9L835.7 2570.0L838.5 2567.8Z"/>
<path fill="#0d2fbb" d="M887.4 2570.2L874.2 2566.5L873.7 2568.4L887.2 2571.4Z"/><path fill="#1438c8" d="M867.6 2565.9L873.7 2565.3L874.9 2567.7Z"/><path fill="#0a2490" d="M867.6 2565.9L872.7 2569.2L874.9 2567.7Z"/>
<path fill="#0d26b9" d="M921.7 2570.2L910.7 2569.3L910.6 2571.3L921.7 2571.4Z"/><path fill="#142ec6" d="M905.7 2570.1L910.1 2569.0L911.4 2570.3Z"/><path fill="#0a1d8e" d="M905.7 2570.1L910.0 2571.5L911.4 2570.3Z"/>
<path fill="#0d22b9" d="M955.9 2570.2L945.5 2574.2L946.2 2576.0L956.3 2571.4Z"/><path fill="#142ac5" d="M941.3 2576.9L944.8 2574.1L946.6 2574.8Z"/><path fill="#0a1a8d" d="M941.3 2576.9L945.8 2576.5L946.6 2574.8Z"/>
<path fill="#0d22b9" d="M990.1 2570.4L982.9 2577.9L984.4 2579.2L990.9 2571.2Z"/><path fill="#142ac5" d="M980.7 2581.9L982.5 2578.2L984.1 2578.0Z"/><path fill="#0a1a8d" d="M980.7 2581.9L984.1 2579.7L984.1 2578.0Z"/>
<path fill="#0d34bc" d="M766.8 2604.7L751.8 2606.8L752.1 2608.8L767.0 2605.9Z"/><path fill="#143dc8" d="M744.8 2609.0L750.7 2605.5L753.1 2607.6Z"/><path fill="#0a2890" d="M744.8 2609.0L751.5 2610.4L753.1 2607.6Z"/>
<path fill="#0d26b9" d="M801.3 2604.7L789.5 2604.0L789.4 2606.0L801.3 2605.9Z"/><path fill="#142ec6" d="M784.1 2604.8L788.8 2603.5L790.3 2605.0Z"/><path fill="#0a1d8e" d="M784.1 2604.8L788.8 2606.4L790.3 2605.0Z"/>
<path fill="#0d2fbb" d="M835.8 2604.7L822.5 2602.3L822.2 2604.3L835.6 2605.9Z"/><path fill="#1438c8" d="M816.0 2602.4L821.8 2601.3L823.3 2603.5Z"/><path fill="#0a2490" d="M816.0 2602.4L821.3 2605.1L823.3 2603.5Z"/>
<path fill="#0d22b9" d="M870.3 2604.8L861.0 2600.6L860.3 2602.4L869.9 2605.9Z"/><path fill="#142ac5" d="M856.6 2599.9L860.5 2600.4L861.3 2601.8Z"/><path fill="#0a1a8d" d="M856.6 2599.9L859.7 2602.3L861.3 2601.8Z"/>
<path fill="#0d15b7" d="M904.8 2604.8L898.6 2601.2L897.7 2602.9L904.2 2605.9Z"/><path fill="#141dc3" d="M895.9 2600.9L898.1 2601.5L898.5 2602.2Z"/><path fill="#0a118b" d="M895.9 2600.9L897.7 2602.3L898.5 2602.2Z"/>
<path fill="#0d19b7" d="M938.9 2604.7L930.8 2604.9L931.0 2606.8L938.9 2605.9Z"/><path fill="#1421c4" d="M927.8 2606.1L930.5 2605.3L931.4 2605.8Z"/><path fill="#0a148c" d="M927.8 2606.1L930.6 2606.5L931.4 2605.8Z"/>
<circle cx="970.2" cy="2605.9" r="1.2" fill="#0d12d4"/>
<path fill="#0d2aba" d="M749.5 2639.3L736.8 2643.1L737.4 2645.0L749.9 2640.4Z"/><path fill="#1433c7" d="M731.3 2646.0L735.8 2642.5L738.1 2643.7Z"/><path fill="#0a218f" d="M731.3 2646.0L737.0 2646.0L738.1 2643.7Z"/>
<path fill="#0d26b9" d="M784.0 2639.2L771.4 2640.6L771.6 2642.5L784.2 2640.4Z"/><path fill="#142ec6" d="M765.7 2642.3L770.6 2639.9L772.4 2641.4Z"/><path fill="#0a1d8e" d="M765.7 2642.3L771.0 2643.3L772.4 2641.4Z"/>
<path fill="#0d26b9" d="M818.4 2639.2L806.5 2640.2L806.8 2642.2L818.6 2640.4Z"/><path fill="#142ec6" d="M801.3 2641.8L805.8 2639.8L807.5 2641.1Z"/><path fill="#0a1d8e" d="M801.3 2641.8L806.2 2642.7L807.5 2641.1Z"/>
<path fill="#0d19b7" d="M853.1 2639.3L845.4 2635.4L844.6 2637.2L852.7 2640.4Z"/><path fill="#1421c4" d="M841.8 2634.9L844.9 2635.5L845.5 2636.5Z"/><path fill="#0a148c" d="M841.8 2634.9L844.3 2636.8L845.5 2636.5Z"/>
<circle cx="883.6" cy="2638.4" r="1.2" fill="#0d17d4"/>
<circle cx="918.6" cy="2640.5" r="1.2" fill="#0d12d4"/>
<path fill="#0d22b9" d="M955.7 2639.4L948.5 2646.1L949.9 2647.5L956.5 2640.3Z"/><path fill="#142ac5" d="M946.3 2649.7L948.1 2646.4L949.6 2646.3Z"/><path fill="#0a1a8d" d="M946.3 2649.7L949.5 2647.8L949.6 2646.3Z"/>
<path fill="#0d1bb8" d="M990.2 2639.3L983.1 2642.9L984.0 2644.6L990.8 2640.4Z"/><path fill="#1423c4" d="M980.9 2645.3L982.9 2643.4L984.0 2643.5Z"/><path fill="#0a158c" d="M980.9 2645.3L983.5 2644.5L984.0 2643.5Z"/></g>
<clipPath id="pc3"><rect x="1344.0" y="1520.0" width="501.0" height="1116.0"/></clipPath>
<g clip-path="url(#pc3)"><use href="#bg" transform="translate(1297.0,0.0)"/></g>
<g><path fill="#0d83c6" d="M1403.1 1542.9L1426.2 1551.5L1427.2 1548.6L1403.7 1541.1Z"/><path fill="#148ed3" d="M1439.1 1554.3L1426.7 1555.0L1424.8 1549.4Z"/><path fill="#0a669a" d="M1439.1 1554.3L1429.7 1546.1L1424.8 1549.4Z"/>
<path fill="#0d83c6" d="M1437.6 1542.9L1461.5 1549.6L1462.3 1546.6L1438.0 1541.1Z"/><path fill="#148ed3" d="M1474.7 1551.3L1462.3 1553.1L1459.9 1547.6Z"/><path fill="#0a669a" d="M1474.7 1551.3L1464.6 1543.9L1459.9 1547.6Z"/>
<path fill="#0d49bf" d="M1472.2 1542.7L1490.1 1544.4L1490.3 1542.2L1472.2 1541.3Z"/><path fill="#1452cb" d="M1499.2 1544.0L1491.0 1546.8L1488.8 1543.2Z"/><path fill="#0a3893" d="M1499.2 1544.0L1491.5 1540.0L1488.8 1543.2Z"/>
<path fill="#0d54c0" d="M1506.6 1542.8L1526.9 1544.1L1527.0 1541.6L1506.6 1541.2Z"/><path fill="#145dcd" d="M1537.3 1543.2L1528.0 1546.7L1525.2 1542.7Z"/><path fill="#0a4195" d="M1537.3 1543.2L1528.3 1539.0L1525.2 1542.7Z"/>
<path fill="#0d2aba" d="M1541.0 1542.6L1553.6 1543.5L1553.7 1541.5L1541.0 1541.4Z"/><path fill="#1433c7" d="M1559.4 1542.7L1554.3 1544.2L1552.7 1542.5Z"/><path fill="#0a218f" d="M1559.4 1542.7L1554.4 1540.9L1552.7 1542.5Z"/>
<path fill="#0d39bc" d="M1575.4 1542.6L1591.1 1542.6L1591.1 1540.7L1575.4 1541.4Z"/><path fill="#1442c9" d="M1598.8 1541.5L1592.1 1544.3L1589.9 1541.7Z"/><path fill="#0a2c91" d="M1598.8 1541.5L1592.0 1539.0L1589.9 1541.7Z"/>
<path fill="#0d49bf" d="M1609.7 1542.7L1628.5 1544.8L1628.7 1542.5L1609.9 1541.3Z"/><path fill="#1452cb" d="M1638.1 1544.5L1629.4 1547.3L1627.0 1543.5Z"/><path fill="#0a3893" d="M1638.1 1544.5L1630.0 1540.2L1627.0 1543.5Z"/>
<path fill="#0d39bc" d="M1644.0 1542.6L1658.0 1547.9L1658.6 1546.1L1644.4 1541.4Z"/><path fill="#1442c9" d="M1665.1 1549.4L1658.3 1549.5L1657.2 1546.6Z"/><path fill="#0a2c91" d="M1665.1 1549.4L1659.9 1545.0L1657.2 1546.6Z"/>
<path fill="#0d60c1" d="M1420.4 1577.3L1439.7 1583.5L1440.4 1581.1L1420.8 1575.9Z"/><path fill="#146ace" d="M1450.1 1585.2L1440.2 1586.3L1438.5 1581.8Z"/><path fill="#0a4a96" d="M1450.1 1585.2L1442.4 1578.9L1438.5 1581.8Z"/>
<path fill="#0d66c2" d="M1454.9 1577.4L1476.0 1579.9L1476.2 1577.2L1455.1 1575.8Z"/><path fill="#1470cf" d="M1487.0 1579.6L1477.0 1582.7L1474.3 1578.4Z"/><path fill="#0a4f97" d="M1487.0 1579.6L1477.8 1574.7L1474.3 1578.4Z"/>
<path fill="#0d60c1" d="M1489.4 1577.4L1509.7 1578.7L1509.8 1576.2L1489.4 1575.8Z"/><path fill="#146ace" d="M1520.1 1577.8L1510.8 1581.3L1508.0 1577.3Z"/><path fill="#0a4a96" d="M1520.1 1577.8L1511.1 1573.6L1508.0 1577.3Z"/>
<path fill="#0d5ac1" d="M1523.8 1577.3L1543.4 1577.5L1543.3 1575.1L1523.8 1575.9Z"/><path fill="#1463cd" d="M1553.3 1576.1L1544.6 1580.0L1541.7 1576.3Z"/><path fill="#0a4695" d="M1553.3 1576.1L1544.5 1572.6L1541.7 1576.3Z"/>
<path fill="#0d4ebf" d="M1558.2 1577.3L1576.2 1577.4L1576.2 1575.2L1558.2 1575.9Z"/><path fill="#1458cc" d="M1585.2 1576.1L1577.4 1579.7L1574.8 1576.3Z"/><path fill="#0a3d94" d="M1585.2 1576.1L1577.2 1572.9L1574.8 1576.3Z"/>
<path fill="#0d4ebf" d="M1592.6 1577.3L1610.6 1578.5L1610.7 1576.3L1592.6 1575.9Z"/><path fill="#1458cc" d="M1619.6 1577.8L1611.5 1580.9L1609.2 1577.4Z"/><path fill="#0a3d94" d="M1619.6 1577.8L1611.8 1574.1L1609.2 1577.4Z"/>
<path fill="#0d4ebf" d="M1626.9 1577.3L1644.8 1581.5L1645.2 1579.3L1627.1 1575.9Z"/><path fill="#1458cc" d="M1654.0 1582.3L1645.4 1584.0L1643.5 1580.1Z"/><path fill="#0a3d94" d="M1654.0 1582.3L1646.8 1577.2L1643.5 1580.1Z"/>
<path fill="#0d71c4" d="M1437.7 1612.1L1459.9 1616.3L1460.3 1613.5L1437.9 1610.3Z"/><path fill="#147cd0" d="M1471.7 1616.9L1460.8 1619.4L1458.2 1614.6Z"/><path fill="#0a5898" d="M1471.7 1616.9L1462.2 1610.9L1458.2 1614.6Z"/>
<path fill="#0d71c4" d="M1472.2 1612.1L1494.8 1613.1L1494.8 1610.3L1472.2 1610.3Z"/><path fill="#147cd0" d="M1506.6 1611.9L1496.1 1616.0L1492.9 1611.6Z"/><path fill="#0a5898" d="M1506.6 1611.9L1496.3 1607.4L1492.9 1611.6Z"/>
<path fill="#0d66c2" d="M1506.7 1612.0L1527.8 1610.6L1527.6 1607.9L1506.5 1610.4Z"/><path fill="#1470cf" d="M1538.6 1608.2L1529.4 1613.1L1525.9 1609.4Z"/><path fill="#0a4f97" d="M1538.6 1608.2L1528.6 1605.1L1525.9 1609.4Z"/>
<path fill="#0d60c1" d="M1541.1 1612.0L1561.4 1610.5L1561.2 1608.0L1540.9 1610.4Z"/><path fill="#146ace" d="M1571.7 1608.2L1562.9 1613.0L1559.6 1609.4Z"/><path fill="#0a4a96" d="M1571.7 1608.2L1562.2 1605.3L1559.6 1609.4Z"/>
<path fill="#0d54c0" d="M1575.4 1611.9L1593.5 1611.1L1593.3 1609.0L1575.4 1610.5Z"/><path fill="#145dcd" d="M1602.4 1609.5L1594.7 1613.4L1592.0 1610.1Z"/><path fill="#0a4195" d="M1602.4 1609.5L1594.3 1606.6L1592.0 1610.1Z"/>
<path fill="#0d4ebf" d="M1609.8 1611.8L1627.0 1613.2L1627.1 1611.1L1609.8 1610.6Z"/><path fill="#1458cc" d="M1635.6 1612.7L1627.9 1615.5L1625.7 1612.1Z"/><path fill="#0a3d94" d="M1635.6 1612.7L1628.3 1609.0L1625.7 1612.1Z"/>
<path fill="#0d49bf" d="M1644.0 1611.8L1660.3 1617.6L1660.9 1615.6L1644.4 1610.6Z"/><path fill="#1452cb" d="M1668.8 1619.3L1660.6 1620.0L1659.3 1616.2Z"/><path fill="#0a3893" d="M1668.8 1619.3L1662.6 1613.9L1659.3 1616.2Z"/>
<path fill="#0d8ec7" d="M1454.8 1646.8L1480.4 1651.9L1481.0 1648.7L1455.2 1644.8Z"/><path fill="#1499d4" d="M1494.3 1652.7L1481.5 1655.5L1478.5 1649.9Z"/><path fill="#0a6f9c" d="M1494.3 1652.7L1483.2 1645.7L1478.5 1649.9Z"/>
<path fill="#0d7dc5" d="M1489.4 1646.7L1512.7 1648.2L1512.8 1645.3L1489.4 1644.9Z"/><path fill="#1488d2" d="M1525.1 1647.3L1514.1 1651.3L1510.8 1646.7Z"/><path fill="#0a629a" d="M1525.1 1647.3L1514.4 1642.4L1510.8 1646.7Z"/>
<path fill="#0d7dc5" d="M1523.8 1646.7L1547.2 1646.6L1547.1 1643.7L1523.8 1644.9Z"/><path fill="#1488d2" d="M1559.5 1644.8L1548.8 1649.6L1545.2 1645.2Z"/><path fill="#0a629a" d="M1559.5 1644.8L1548.5 1640.7L1545.2 1645.2Z"/>
<path fill="#0d71c4" d="M1558.2 1646.6L1578.5 1646.7L1578.5 1644.2L1558.2 1645.0Z"/><path fill="#147cd0" d="M1588.9 1645.3L1579.8 1649.3L1576.8 1645.5Z"/><path fill="#0a5898" d="M1588.9 1645.3L1579.7 1641.6L1576.8 1645.5Z"/>
<path fill="#0d71c4" d="M1592.6 1646.6L1612.9 1647.7L1613.0 1645.2L1592.6 1645.0Z"/><path fill="#147cd0" d="M1623.3 1646.8L1614.0 1650.3L1611.2 1646.4Z"/><path fill="#0a5898" d="M1623.3 1646.8L1614.3 1642.6L1611.2 1646.4Z"/>
<path fill="#0d60c1" d="M1626.9 1646.5L1645.6 1649.9L1645.9 1647.6L1627.1 1645.1Z"/><path fill="#146ace" d="M1655.3 1650.2L1646.3 1652.5L1644.2 1648.5Z"/><path fill="#0a4a96" d="M1655.3 1650.2L1647.5 1645.4L1644.2 1648.5Z"/>
<path fill="#0d43be" d="M1661.2 1646.4L1676.6 1653.0L1677.4 1651.1L1661.6 1645.2Z"/><path fill="#144ccb" d="M1684.8 1655.1L1676.8 1655.3L1675.8 1651.6Z"/><path fill="#0a3492" d="M1684.8 1655.1L1679.1 1649.6L1675.8 1651.6Z"/>
<path fill="#0db3cb" d="M1472.1 1681.5L1500.8 1685.4L1501.2 1681.8L1472.3 1679.3Z"/><path fill="#14c0d8" d="M1516.5 1685.3L1502.2 1689.3L1498.5 1683.3Z"/><path fill="#0a8da0" d="M1516.5 1685.3L1503.4 1678.3L1498.5 1683.3Z"/>
<path fill="#0d93c8" d="M1506.6 1681.4L1532.3 1681.2L1532.2 1678.0L1506.6 1679.4Z"/><path fill="#149ed5" d="M1545.9 1679.2L1534.1 1684.4L1530.1 1679.7Z"/><path fill="#0a739d" d="M1545.9 1679.2L1533.8 1674.6L1530.1 1679.7Z"/>
<path fill="#0d8ec7" d="M1541.0 1681.4L1566.0 1681.2L1565.9 1678.0L1541.0 1679.4Z"/><path fill="#1499d4" d="M1579.1 1679.2L1567.7 1684.3L1563.8 1679.7Z"/><path fill="#0a6f9c" d="M1579.1 1679.2L1567.4 1674.8L1563.8 1679.7Z"/>
<path fill="#0d8ec7" d="M1575.3 1681.4L1600.2 1684.4L1600.5 1681.2L1575.5 1679.4Z"/><path fill="#1499d4" d="M1613.5 1684.1L1601.4 1687.7L1598.2 1682.6Z"/><path fill="#0a6f9c" d="M1613.5 1684.1L1602.4 1678.2L1598.2 1682.6Z"/>
<path fill="#0d71c4" d="M1609.7 1681.2L1630.0 1683.3L1630.2 1680.8L1609.9 1679.6Z"/><path fill="#147cd0" d="M1640.5 1682.9L1631.1 1686.0L1628.4 1681.9Z"/><path fill="#0a5898" d="M1640.5 1682.9L1631.7 1678.3L1628.4 1681.9Z"/>
<path fill="#0d66c2" d="M1644.0 1681.1L1663.4 1686.5L1664.0 1684.1L1644.4 1679.7Z"/><path fill="#1470cf" d="M1673.7 1687.8L1664.0 1689.3L1662.1 1684.9Z"/><path fill="#0a4f97" d="M1673.7 1687.8L1665.8 1681.9L1662.1 1684.9Z"/>
<path fill="#0d5ac1" d="M1678.3 1681.0L1695.2 1690.4L1696.3 1688.3L1678.9 1679.8Z"/><path fill="#1463cd" d="M1704.4 1693.9L1695.1 1693.1L1694.3 1688.6Z"/><path fill="#0a4695" d="M1704.4 1693.9L1698.5 1686.7L1694.3 1688.6Z"/>
<path fill="#0dc9cd" d="M1489.4 1716.1L1518.1 1717.5L1518.2 1713.8L1489.4 1713.9Z"/><path fill="#14d6da" d="M1533.7 1716.0L1519.9 1721.2L1515.7 1715.6Z"/><path fill="#0a9fa2" d="M1533.7 1716.0L1520.1 1710.2L1515.7 1715.6Z"/>
<path fill="#0dc2cc" d="M1523.8 1716.1L1551.8 1716.0L1551.7 1712.4L1523.8 1713.9Z"/><path fill="#14cfd9" d="M1566.8 1713.8L1553.8 1719.5L1549.4 1714.3Z"/><path fill="#0a99a1" d="M1566.8 1713.8L1553.4 1708.8L1549.4 1714.3Z"/>
<path fill="#0dc2cc" d="M1558.2 1716.1L1586.2 1716.8L1586.2 1713.2L1558.2 1713.9Z"/><path fill="#14cfd9" d="M1601.2 1715.0L1588.0 1720.3L1583.8 1715.0Z"/><path fill="#0a99a1" d="M1601.2 1715.0L1588.0 1709.7L1583.8 1715.0Z"/>
<path fill="#0d8ec7" d="M1592.6 1715.9L1615.9 1717.8L1616.1 1714.8L1592.6 1714.1Z"/><path fill="#1499d4" d="M1628.3 1717.0L1617.2 1720.8L1614.0 1716.2Z"/><path fill="#0a6f9c" d="M1628.3 1717.0L1617.7 1711.9L1614.0 1716.2Z"/>
<path fill="#0d83c6" d="M1626.9 1715.9L1649.4 1720.1L1649.8 1717.3L1627.1 1714.1Z"/><path fill="#148ed3" d="M1661.4 1720.7L1650.3 1723.2L1647.7 1718.4Z"/><path fill="#0a669a" d="M1661.4 1720.7L1651.7 1714.6L1647.7 1718.4Z"/>
<path fill="#0d71c4" d="M1661.1 1715.7L1680.5 1723.0L1681.3 1720.6L1661.7 1714.3Z"/><path fill="#147cd0" d="M1690.9 1725.3L1680.8 1725.9L1679.3 1721.3Z"/><path fill="#0a5898" d="M1690.9 1725.3L1683.4 1718.5L1679.3 1721.3Z"/>
<path fill="#0d54c0" d="M1695.4 1715.6L1710.7 1726.6L1712.0 1724.7L1696.2 1714.4Z"/><path fill="#145dcd" d="M1719.2 1731.0L1710.2 1729.2L1710.1 1724.8Z"/><path fill="#0a4195" d="M1719.2 1731.0L1714.3 1723.3L1710.1 1724.8Z"/>
<path fill="#27cfb4" d="M1506.6 1750.9L1538.5 1751.2L1538.4 1747.1L1506.6 1748.3Z"/><path fill="#2fdbc0" d="M1555.8 1748.9L1540.6 1755.2L1535.7 1749.2Z"/><path fill="#1fa38e" d="M1555.8 1748.9L1540.4 1743.0L1535.7 1749.2Z"/>
<path fill="#27cfb4" d="M1541.0 1750.9L1573.7 1750.6L1573.5 1746.4L1541.0 1748.3Z"/><path fill="#2fdbc0" d="M1591.4 1747.9L1576.0 1754.7L1570.8 1748.6Z"/><path fill="#1fa38e" d="M1591.4 1747.9L1575.5 1742.2L1570.8 1748.6Z"/>
<path fill="#15cfc6" d="M1575.4 1750.8L1604.9 1752.0L1605.0 1748.2L1575.4 1748.4Z"/><path fill="#1ddbd2" d="M1620.9 1750.3L1606.8 1755.8L1602.4 1750.0Z"/><path fill="#11a39c" d="M1620.9 1750.3L1606.9 1744.5L1602.4 1750.0Z"/>
<path fill="#0db3cb" d="M1609.7 1750.6L1635.3 1753.6L1635.6 1750.4L1609.9 1748.6Z"/><path fill="#14c0d8" d="M1649.1 1753.3L1636.7 1757.1L1633.3 1751.8Z"/><path fill="#0a8da0" d="M1649.1 1753.3L1637.6 1747.3L1633.3 1751.8Z"/>
<path fill="#0d8ec7" d="M1644.0 1750.4L1665.7 1756.6L1666.4 1753.9L1644.4 1748.8Z"/><path fill="#1499d4" d="M1677.4 1758.2L1666.3 1759.8L1664.2 1754.8Z"/><path fill="#0a6f9c" d="M1677.4 1758.2L1668.5 1751.5L1664.2 1754.8Z"/>
<path fill="#0d66c2" d="M1678.3 1750.3L1695.9 1759.6L1697.0 1757.4L1678.9 1748.9Z"/><path fill="#1470cf" d="M1705.6 1763.1L1695.9 1762.5L1695.0 1757.8Z"/><path fill="#0a4f97" d="M1705.6 1763.1L1699.3 1755.7L1695.0 1757.8Z"/>
<path fill="#0d67c2" d="M1712.6 1750.3L1729.8 1760.9L1731.0 1758.7L1713.4 1748.9Z"/><path fill="#1471cf" d="M1739.3 1765.0L1729.6 1763.7L1729.0 1759.0Z"/><path fill="#0a5097" d="M1739.3 1765.0L1733.4 1757.1L1729.0 1759.0Z"/>
<path fill="#72cf6a" d="M1523.9 1785.9L1566.6 1783.8L1566.2 1778.3L1523.7 1782.5Z"/><path fill="#7cdb74" d="M1590.2 1779.3L1569.9 1789.0L1562.6 1781.3Z"/><path fill="#5aa353" d="M1590.2 1779.3L1568.6 1772.6L1562.6 1781.3Z"/>
<path fill="#51cf8b" d="M1558.2 1785.8L1598.5 1786.0L1598.4 1780.8L1558.2 1782.6Z"/><path fill="#5adb96" d="M1620.9 1783.0L1601.3 1791.1L1594.9 1783.5Z"/><path fill="#40a36e" d="M1620.9 1783.0L1601.0 1775.6L1594.9 1783.5Z"/>
<path fill="#33cfa9" d="M1592.5 1785.5L1625.8 1789.5L1626.2 1785.2L1592.7 1782.9Z"/><path fill="#3bdbb5" d="M1644.2 1789.1L1627.6 1794.0L1623.0 1787.1Z"/><path fill="#28a385" d="M1644.2 1789.1L1628.8 1781.2L1623.0 1787.1Z"/>
<path fill="#0dc9cd" d="M1626.7 1785.3L1655.2 1794.0L1656.2 1790.3L1627.3 1783.1Z"/><path fill="#14d6da" d="M1671.3 1796.5L1656.1 1798.2L1653.2 1791.5Z"/><path fill="#0a9fa2" d="M1671.3 1796.5L1659.1 1787.2L1653.2 1791.5Z"/>
<path fill="#0d8ec7" d="M1661.0 1785.1L1684.7 1796.9L1686.2 1793.9L1661.8 1783.3Z"/><path fill="#1499d4" d="M1698.3 1801.4L1684.8 1800.7L1683.4 1794.5Z"/><path fill="#0a6f9c" d="M1698.3 1801.4L1689.1 1791.6L1683.4 1794.5Z"/>
<path fill="#0d7dc5" d="M1695.3 1784.9L1712.8 1798.2L1714.4 1796.0L1696.3 1783.5Z"/><path fill="#1488d2" d="M1722.8 1803.9L1712.2 1801.3L1712.1 1796.1Z"/><path fill="#0a629a" d="M1722.8 1803.9L1717.2 1794.6L1712.1 1796.1Z"/>
<path fill="#80cf5b" d="M1541.2 1820.7L1589.3 1815.9L1588.5 1809.6L1540.8 1816.9Z"/><path fill="#8bdb65" d="M1615.8 1809.3L1593.3 1821.6L1584.5 1813.3Z"/><path fill="#65a348" d="M1615.8 1809.3L1590.9 1803.1L1584.5 1813.3Z"/>
<path fill="#64cf77" d="M1575.4 1820.5L1618.7 1821.6L1618.7 1816.0L1575.4 1817.1Z"/><path fill="#6edb82" d="M1642.9 1818.8L1621.6 1827.1L1614.8 1818.8Z"/><path fill="#4fa35e" d="M1642.9 1818.8L1621.6 1810.5L1614.8 1818.8Z"/>
<path fill="#3ecf9d" d="M1609.5 1820.4L1648.6 1829.5L1649.6 1824.4L1610.1 1817.2Z"/><path fill="#47dba9" d="M1670.9 1831.4L1650.1 1835.0L1645.6 1826.2Z"/><path fill="#31a37c" d="M1670.9 1831.4L1653.3 1819.9L1645.6 1826.2Z"/>
<path fill="#21cfba" d="M1643.7 1820.1L1675.4 1833.1L1677.0 1829.0L1644.7 1817.5Z"/><path fill="#29dbc6" d="M1693.7 1837.8L1675.9 1838.0L1673.4 1830.0Z"/><path fill="#1aa393" d="M1693.7 1837.8L1680.6 1825.7L1673.4 1830.0Z"/>
<path fill="#0da4c9" d="M1678.0 1819.7L1700.9 1836.1L1702.9 1833.1L1679.2 1817.9Z"/><path fill="#14afd6" d="M1714.4 1843.0L1700.4 1840.0L1699.9 1833.2Z"/><path fill="#0a819e" d="M1714.4 1843.0L1706.4 1831.1L1699.9 1833.2Z"/>
<path fill="#0d83c6" d="M1712.4 1819.4L1728.6 1835.8L1730.6 1833.7L1713.6 1818.2Z"/><path fill="#148ed3" d="M1738.3 1843.0L1727.6 1838.9L1728.2 1833.4Z"/><path fill="#0a669a" d="M1738.3 1843.0L1733.7 1832.6L1728.2 1833.4Z"/>
<path fill="#cbcf10" d="M1558.4 1855.7L1614.9 1853.1L1614.4 1845.6L1558.0 1851.1Z"/><path fill="#d8db18" d="M1646.7 1847.1L1619.3 1860.0L1609.5 1849.7Z"/><path fill="#a0a30d" d="M1646.7 1847.1L1617.7 1838.2L1609.5 1849.7Z"/>
<path fill="#96cf46" d="M1592.3 1855.5L1643.3 1863.5L1644.2 1856.8L1592.9 1851.3Z"/><path fill="#a1db4f" d="M1672.7 1863.9L1645.9 1870.5L1639.1 1859.5Z"/><path fill="#76a337" d="M1672.7 1863.9L1648.5 1850.7L1639.1 1859.5Z"/>
<path fill="#72cf6a" d="M1626.4 1855.1L1667.2 1871.6L1669.2 1866.2L1627.6 1851.7Z"/><path fill="#7cdb74" d="M1691.3 1877.6L1668.0 1877.9L1664.5 1867.5Z"/><path fill="#5aa353" d="M1691.3 1877.6L1674.0 1862.0L1664.5 1867.5Z"/>
<path fill="#3ecf9d" d="M1660.5 1854.6L1691.2 1877.1L1694.0 1873.1L1662.3 1852.2Z"/><path fill="#47dba9" d="M1709.9 1887.1L1690.5 1882.5L1689.8 1873.2Z"/><path fill="#31a37c" d="M1709.9 1887.1L1698.8 1870.6L1689.8 1873.2Z"/>
<path fill="#15cfc6" d="M1694.9 1854.3L1716.1 1878.0L1719.1 1875.2L1696.7 1852.5Z"/><path fill="#1ddbd2" d="M1729.5 1889.2L1714.6 1882.3L1715.7 1874.6Z"/><path fill="#11a39c" d="M1729.5 1889.2L1723.5 1873.9L1715.7 1874.6Z"/>
<path fill="#0d8ec7" d="M1729.6 1853.9L1743.0 1870.9L1745.1 1869.2L1730.8 1852.9Z"/><path fill="#1499d4" d="M1751.3 1878.7L1741.8 1873.7L1742.9 1868.7Z"/><path fill="#0a6f9c" d="M1751.3 1878.7L1748.1 1868.5L1742.9 1868.7Z"/>
<path fill="#cfa40d" d="M1575.1 1890.6L1637.9 1899.6L1638.9 1891.2L1575.7 1885.4Z"/><path fill="#dbb014" d="M1674.5 1899.6L1641.3 1908.1L1632.6 1894.7Z"/><path fill="#a3820a" d="M1674.5 1899.6L1644.2 1883.7L1632.6 1894.7Z"/>
<path fill="#cbcf10" d="M1609.1 1890.1L1660.4 1909.6L1662.8 1902.7L1610.5 1885.9Z"/><path fill="#d8db18" d="M1691.0 1916.5L1661.6 1917.4L1656.9 1904.5Z"/><path fill="#a0a30d" d="M1691.0 1916.5L1668.6 1897.4L1656.9 1904.5Z"/>
<path fill="#96cf46" d="M1643.1 1889.7L1684.2 1917.7L1687.7 1912.2L1645.3 1886.3Z"/><path fill="#a1db4f" d="M1709.5 1930.2L1683.6 1924.8L1682.2 1912.5Z"/><path fill="#76a337" d="M1709.5 1930.2L1694.0 1908.7L1682.2 1912.5Z"/>
<path fill="#51cf8b" d="M1677.4 1889.2L1707.0 1920.4L1711.0 1916.4L1679.8 1886.8Z"/><path fill="#5adb96" d="M1726.0 1935.4L1705.2 1926.3L1706.3 1915.7Z"/><path fill="#40a36e" d="M1726.0 1935.4L1716.9 1914.6L1706.3 1915.7Z"/>
<path fill="#15cfc6" d="M1712.0 1888.7L1729.8 1915.1L1733.1 1912.7L1714.0 1887.3Z"/><path fill="#1ddbd2" d="M1741.5 1928.1L1727.7 1919.2L1729.8 1911.7Z"/><path fill="#11a39c" d="M1741.5 1928.1L1737.6 1912.1L1729.8 1911.7Z"/>
<path fill="#cf7d0d" d="M1591.9 1925.0L1650.5 1944.0L1652.8 1936.1L1593.3 1920.2Z"/><path fill="#db8814" d="M1685.3 1950.0L1652.3 1952.6L1646.2 1938.4Z"/><path fill="#a3630a" d="M1685.3 1950.0L1659.0 1929.8L1646.2 1938.4Z"/>
<path fill="#cf940d" d="M1625.9 1924.7L1676.8 1954.2L1680.6 1947.4L1628.1 1920.5Z"/><path fill="#dba014" d="M1708.2 1966.9L1676.8 1962.7L1674.0 1948.2Z"/><path fill="#a3750a" d="M1708.2 1966.9L1687.7 1942.7L1674.0 1948.2Z"/>
<path fill="#cfbb0d" d="M1659.7 1924.2L1698.9 1966.9L1704.4 1961.6L1663.1 1921.0Z"/><path fill="#dbc714" d="M1724.6 1987.9L1696.4 1974.9L1698.0 1960.4Z"/><path fill="#a3940a" d="M1724.6 1987.9L1712.5 1959.3L1698.0 1960.4Z"/>
<path fill="#7ecf5d" d="M1694.3 1923.6L1718.4 1961.8L1723.3 1958.5L1697.3 1921.6Z"/><path fill="#89db67" d="M1734.9 1981.2L1715.3 1967.5L1718.6 1956.8Z"/><path fill="#64a34a" d="M1734.9 1981.2L1729.8 1957.8L1718.6 1956.8Z"/>
<path fill="#0dc2cc" d="M1729.1 1923.2L1743.5 1950.9L1747.0 1948.9L1731.3 1922.0Z"/><path fill="#14cfd9" d="M1753.4 1964.8L1741.0 1954.6L1743.9 1947.5Z"/><path fill="#0a99a1" d="M1753.4 1964.8L1751.4 1948.8L1743.9 1947.5Z"/>
<path fill="#cf470d" d="M1608.5 1959.6L1667.2 1994.0L1671.6 1986.0L1611.1 1954.8Z"/><path fill="#db5014" d="M1703.6 2008.8L1667.1 2003.8L1663.9 1987.0Z"/><path fill="#a3380a" d="M1703.6 2008.8L1679.8 1980.7L1663.9 1987.0Z"/>
<path fill="#cf470d" d="M1642.2 1959.1L1686.5 2009.1L1693.0 2003.1L1646.2 1955.3Z"/><path fill="#db5014" d="M1715.9 2034.1L1683.4 2018.3L1685.6 2001.6Z"/><path fill="#a3380a" d="M1715.9 2034.1L1702.3 2000.6L1685.6 2001.6Z"/>
<path fill="#cf940d" d="M1676.4 1958.6L1708.6 2013.1L1715.7 2008.6L1680.8 1955.8Z"/><path fill="#dba014" d="M1731.3 2041.5L1704.0 2021.0L1709.1 2005.9Z"/><path fill="#a3750a" d="M1731.3 2041.5L1724.8 2008.0L1709.1 2005.9Z"/>
<path fill="#87cf54" d="M1711.4 1957.9L1727.9 1998.9L1733.2 1996.6L1714.6 1956.5Z"/><path fill="#92db5e" d="M1740.4 2020.4L1723.9 2003.8L1729.0 1994.1Z"/><path fill="#6ba343" d="M1740.4 2020.4L1739.6 1997.1L1729.0 1994.1Z"/>
<path fill="#0da2c9" d="M1746.5 1957.6L1755.9 1980.5L1758.8 1979.3L1748.3 1956.8Z"/><path fill="#14aed6" d="M1762.6 1991.9L1753.6 1983.2L1756.5 1978.0Z"/><path fill="#0a7f9e" d="M1762.6 1991.9L1762.3 1979.5L1756.5 1978.0Z"/>
<path fill="#cf370d" d="M1625.0 1993.7L1670.0 2043.1L1676.4 2036.9L1629.0 1989.9Z"/><path fill="#db4014" d="M1699.7 2067.7L1667.1 2052.3L1669.0 2035.6Z"/><path fill="#a32c0a" d="M1699.7 2067.7L1685.7 2034.4L1669.0 2035.6Z"/>
<path fill="#bb0d0d" d="M1658.8 1993.3L1694.6 2058.5L1703.1 2053.5L1664.0 1990.3Z"/><path fill="#c71414" d="M1720.4 2093.0L1689.0 2067.7L1695.4 2050.1Z"/><path fill="#940a0a" d="M1720.4 2093.0L1713.9 2053.2L1695.4 2050.1Z"/>
<path fill="#cf7d0d" d="M1693.6 1992.7L1715.4 2047.1L1722.5 2044.0L1698.0 1990.9Z"/><path fill="#db8714" d="M1732.1 2076.2L1710.1 2053.7L1716.8 2040.7Z"/><path fill="#a3630a" d="M1732.1 2076.2L1730.9 2044.8L1716.8 2040.7Z"/>
<path fill="#72cf6a" d="M1728.5 1992.3L1739.5 2035.8L1745.2 2034.2L1731.9 1991.3Z"/><path fill="#7cdb74" d="M1749.2 2059.3L1734.8 2040.3L1741.3 2031.1Z"/><path fill="#5aa353" d="M1749.2 2059.3L1751.5 2035.6L1741.3 2031.1Z"/>
<path fill="#ac0d0d" d="M1641.6 2027.7L1671.5 2091.4L1679.8 2087.2L1646.8 2025.1Z"/><path fill="#b71414" d="M1693.7 2125.5L1665.6 2099.7L1672.8 2083.5Z"/><path fill="#880a0a" d="M1693.7 2125.5L1690.0 2087.6L1672.8 2083.5Z"/>
<path fill="#7d0d0d" d="M1675.8 2027.5L1700.8 2096.4L1709.9 2092.8L1681.4 2025.3Z"/><path fill="#881414" d="M1720.8 2133.9L1694.0 2104.5L1702.9 2088.3Z"/><path fill="#630a0a" d="M1720.8 2133.9L1720.4 2094.1L1702.9 2088.3Z"/>
<path fill="#cf940d" d="M1710.8 2026.9L1722.8 2082.4L1730.1 2080.6L1715.2 2025.9Z"/><path fill="#dba014" d="M1734.1 2112.8L1716.7 2087.8L1725.2 2076.5Z"/><path fill="#a3750a" d="M1734.1 2112.8L1738.0 2082.6L1725.2 2076.5Z"/>
<path fill="#33cfa9" d="M1746.0 2026.7L1752.6 2062.2L1757.2 2061.2L1748.8 2026.1Z"/><path fill="#3bdbb5" d="M1759.0 2081.2L1748.6 2065.5L1754.2 2058.6Z"/><path fill="#28a385" d="M1759.0 2081.2L1762.2 2062.6L1754.2 2058.6Z"/>
<path fill="#cfa40d" d="M1625.5 2061.6L1638.8 2099.2L1643.7 2097.3L1628.5 2060.4Z"/><path fill="#dbb014" d="M1649.1 2119.0L1635.0 2103.5L1640.0 2094.9Z"/><path fill="#a3820a" d="M1649.1 2119.0L1649.3 2098.0L1640.0 2094.9Z"/>
<path fill="#7d0d0d" d="M1658.4 2061.8L1676.6 2135.2L1686.3 2132.5L1664.4 2060.2Z"/><path fill="#881414" d="M1693.0 2175.9L1668.7 2142.8L1679.6 2127.1Z"/><path fill="#630a0a" d="M1693.0 2175.9L1697.0 2135.0L1679.6 2127.1Z"/>
<path fill="#7d0d0d" d="M1692.8 2061.5L1704.3 2134.8L1714.0 2133.0L1698.8 2060.5Z"/><path fill="#881414" d="M1716.9 2175.9L1696.0 2141.5L1707.9 2127.2Z"/><path fill="#630a0a" d="M1716.9 2175.9L1724.2 2136.3L1707.9 2127.2Z"/>
<path fill="#bccf20" d="M1728.3 2061.3L1733.9 2108.0L1740.0 2107.1L1732.1 2060.7Z"/><path fill="#c8db28" d="M1740.7 2133.7L1728.4 2112.0L1736.3 2103.4Z"/><path fill="#94a319" d="M1740.7 2133.7L1746.4 2109.4L1736.3 2103.4Z"/>
<path fill="#cf580d" d="M1642.0 2096.1L1652.8 2150.5L1659.9 2148.8L1646.4 2095.1Z"/><path fill="#db6214" d="M1663.2 2180.4L1646.7 2155.7L1655.2 2144.7Z"/><path fill="#a3460a" d="M1663.2 2180.4L1667.6 2151.0L1655.2 2144.7Z"/>
<path fill="#850d0d" d="M1675.5 2096.0L1684.4 2171.8L1694.5 2170.3L1681.7 2095.2Z"/><path fill="#901414" d="M1695.7 2214.6L1675.6 2178.4L1688.5 2164.1Z"/><path fill="#690a0a" d="M1695.7 2214.6L1704.8 2174.2L1688.5 2164.1Z"/>
<path fill="#a40d0d" d="M1709.6 2095.8L1711.6 2177.3L1722.5 2176.8L1716.4 2095.4Z"/><path fill="#b01414" d="M1719.3 2224.2L1701.5 2183.5L1716.6 2169.5Z"/><path fill="#820a0a" d="M1719.3 2224.2L1733.1 2181.9L1716.6 2169.5Z"/>
<path fill="#33cfa9" d="M1746.0 2095.8L1750.0 2129.9L1754.4 2129.3L1748.8 2095.4Z"/><path fill="#3bdbb5" d="M1754.8 2148.3L1745.9 2132.8L1751.7 2126.6Z"/><path fill="#28a385" d="M1754.8 2148.3L1759.0 2131.0L1751.7 2126.6Z"/>
<path fill="#bccf20" d="M1624.8 2130.3L1624.7 2185.4L1632.0 2185.2L1629.2 2130.1Z"/><path fill="#c8db28" d="M1629.1 2216.6L1617.8 2189.3L1628.2 2180.3Z"/><path fill="#94a319" d="M1629.1 2216.6L1639.1 2188.8L1628.2 2180.3Z"/>
<path fill="#cf120d" d="M1659.1 2130.2L1658.4 2185.6L1665.7 2185.5L1663.7 2130.2Z"/><path fill="#db1a14" d="M1662.4 2217.0L1651.4 2189.4L1662.0 2180.5Z"/><path fill="#a30e0a" d="M1662.4 2217.0L1672.8 2189.2L1662.0 2180.5Z"/>
<path fill="#6e0d0d" d="M1692.8 2130.2L1691.0 2202.4L1700.6 2202.4L1698.8 2130.2Z"/><path fill="#781414" d="M1695.8 2244.0L1681.8 2207.4L1695.8 2195.8Z"/><path fill="#570a0a" d="M1695.8 2244.0L1709.8 2207.4L1695.8 2195.8Z"/>
<path fill="#cfac0d" d="M1728.0 2130.3L1727.9 2185.4L1735.2 2185.2L1732.4 2130.1Z"/><path fill="#dbb714" d="M1732.3 2216.6L1721.0 2189.3L1731.4 2180.3Z"/><path fill="#a3880a" d="M1732.3 2216.6L1742.3 2188.8L1731.4 2180.3Z"/>
<path fill="#cf300d" d="M1641.5 2164.3L1628.4 2230.3L1637.2 2231.9L1646.9 2165.3Z"/><path fill="#db3814" d="M1626.3 2269.1L1619.2 2233.5L1633.9 2225.0Z"/><path fill="#a3260a" d="M1626.3 2269.1L1644.9 2237.9L1633.9 2225.0Z"/>
<path fill="#6e0d0d" d="M1675.5 2164.5L1666.8 2240.5L1677.0 2241.4L1681.7 2165.1Z"/><path fill="#781414" d="M1668.1 2285.0L1656.7 2245.0L1672.5 2234.0Z"/><path fill="#570a0a" d="M1668.1 2285.0L1686.2 2247.6L1672.5 2234.0Z"/>
<path fill="#cf430d" d="M1710.5 2164.7L1706.8 2226.9L1715.0 2227.2L1715.5 2164.9Z"/><path fill="#db4c14" d="M1709.7 2262.7L1698.7 2230.9L1711.1 2221.4Z"/><path fill="#a3350a" d="M1709.7 2262.7L1722.8 2231.7L1711.1 2221.4Z"/>
<path fill="#1ccfc0" d="M1746.1 2164.7L1743.2 2197.4L1747.5 2197.7L1748.7 2164.9Z"/><path fill="#24dbcc" d="M1744.2 2215.5L1738.9 2199.3L1745.5 2194.7Z"/><path fill="#16a398" d="M1744.2 2215.5L1751.5 2200.1L1745.5 2194.7Z"/>
<path fill="#cfa90d" d="M1624.9 2198.4L1599.9 2250.4L1606.8 2253.5L1629.1 2200.4Z"/><path fill="#dbb514" d="M1589.9 2281.8L1591.6 2250.9L1605.5 2247.1Z"/><path fill="#a3860a" d="M1589.9 2281.8L1611.9 2260.1L1605.5 2247.1Z"/>
<path fill="#cf210d" d="M1658.7 2198.7L1640.1 2264.1L1648.8 2266.3L1664.1 2200.1Z"/><path fill="#db2914" d="M1634.7 2303.0L1630.5 2266.5L1646.0 2259.2Z"/><path fill="#a31a0a" d="M1634.7 2303.0L1656.0 2273.0L1646.0 2259.2Z"/>
<path fill="#cc0d0d" d="M1693.3 2199.0L1681.9 2260.0L1690.0 2261.3L1698.3 2199.8Z"/><path fill="#d91414" d="M1680.3 2295.6L1673.4 2262.9L1686.8 2255.0Z"/><path fill="#a10a0a" d="M1680.3 2295.6L1697.1 2266.7L1686.8 2255.0Z"/>
<path fill="#bfcf1c" d="M1728.3 2199.1L1720.7 2246.6L1727.0 2247.5L1732.1 2199.7Z"/><path fill="#cbdb24" d="M1720.3 2273.9L1714.2 2249.0L1724.4 2242.8Z"/><path fill="#97a316" d="M1720.3 2273.9L1732.6 2251.5L1724.4 2242.8Z"/>
<path fill="#72cf6a" d="M1608.6 2232.7L1574.8 2261.6L1578.6 2265.9L1611.0 2235.3Z"/><path fill="#7cdb74" d="M1558.2 2280.4L1568.8 2259.3L1579.7 2261.1Z"/><path fill="#5aa353" d="M1558.2 2280.4L1580.2 2272.1L1579.7 2261.1Z"/>
<path fill="#cf0f0d" d="M1641.6 2232.6L1606.6 2295.4L1615.1 2299.8L1646.8 2235.4Z"/><path fill="#db1714" d="M1591.7 2334.2L1596.3 2295.5L1613.9 2291.7Z"/><path fill="#a30c0a" d="M1591.7 2334.2L1620.9 2308.4L1613.9 2291.7Z"/>
<path fill="#6e0d0d" d="M1675.6 2233.0L1648.4 2304.5L1658.0 2307.9L1681.6 2235.0Z"/><path fill="#781414" d="M1638.5 2347.8L1637.5 2306.3L1655.5 2299.5Z"/><path fill="#570a0a" d="M1638.5 2347.8L1665.4 2316.1L1655.5 2299.5Z"/>
<path fill="#cf110d" d="M1711.7 2233.8L1706.4 2267.4L1710.8 2268.0L1714.3 2234.2Z"/><path fill="#db1914" d="M1706.2 2286.2L1701.9 2269.1L1709.0 2264.7Z"/><path fill="#a30e0a" d="M1706.2 2286.2L1714.8 2270.8L1709.0 2264.7Z"/>
<path fill="#0d92c8" d="M1746.5 2233.8L1741.7 2255.9L1744.4 2256.4L1748.3 2234.2Z"/><path fill="#149dd5" d="M1740.8 2267.7L1738.6 2256.7L1743.4 2254.3Z"/><path fill="#0a729c" d="M1740.8 2267.7L1747.0 2258.4L1743.4 2254.3Z"/>
<path fill="#cf470d" d="M1625.0 2266.8L1578.9 2315.5L1585.5 2321.5L1629.0 2270.4Z"/><path fill="#db5114" d="M1556.5 2347.1L1569.5 2313.3L1586.3 2313.9Z"/><path fill="#a3390a" d="M1556.5 2347.1L1588.8 2330.6L1586.3 2313.9Z"/>
<path fill="#730d0d" d="M1658.6 2267.7L1634.5 2336.3L1643.7 2339.3L1664.2 2269.5Z"/><path fill="#7d1414" d="M1626.2 2377.7L1624.1 2338.3L1641.1 2331.4Z"/><path fill="#5b0a0a" d="M1626.2 2377.7L1651.0 2346.9L1641.1 2331.4Z"/>
<path fill="#cf720d" d="M1694.1 2268.4L1689.1 2310.5L1694.6 2311.0L1697.5 2268.8Z"/><path fill="#db7c14" d="M1689.6 2334.3L1683.4 2312.8L1692.2 2307.0Z"/><path fill="#a35a0a" d="M1689.6 2334.3L1699.7 2314.3L1692.2 2307.0Z"/>
<path fill="#4acf91" d="M1728.6 2268.3L1721.0 2307.1L1726.1 2307.9L1731.8 2268.9Z"/><path fill="#54db9c" d="M1719.9 2329.1L1715.7 2308.8L1724.2 2304.1Z"/><path fill="#3ba373" d="M1719.9 2329.1L1730.6 2311.4L1724.2 2304.1Z"/>
<path fill="#cf780d" d="M1608.6 2301.5L1565.0 2330.6L1569.0 2336.3L1611.0 2304.9Z"/><path fill="#db8314" d="M1542.7 2350.6L1558.2 2327.2L1570.9 2330.7Z"/><path fill="#a35f0a" d="M1542.7 2350.6L1569.9 2343.8L1570.9 2330.7Z"/>
<path fill="#cf2b0d" d="M1642.1 2302.1L1613.7 2354.1L1620.7 2357.7L1646.3 2304.3Z"/><path fill="#db3414" d="M1601.8 2386.0L1605.2 2354.3L1619.7 2351.1Z"/><path fill="#a3220a" d="M1601.8 2386.0L1625.5 2364.7L1619.7 2351.1Z"/>
<path fill="#cf150d" d="M1676.3 2302.4L1655.0 2358.6L1662.5 2361.3L1680.9 2304.0Z"/><path fill="#db1d14" d="M1647.4 2392.3L1646.4 2360.0L1660.5 2354.8Z"/><path fill="#a3100a" d="M1647.4 2392.3L1668.3 2367.7L1660.5 2354.8Z"/>
<path fill="#68cf73" d="M1711.3 2302.7L1696.9 2345.0L1702.5 2346.7L1714.7 2303.7Z"/><path fill="#72db7d" d="M1692.3 2369.8L1690.6 2346.2L1700.9 2342.0Z"/><path fill="#52a35b" d="M1692.3 2369.8L1707.0 2351.3L1700.9 2342.0Z"/>
<path fill="#cfb40d" d="M1557.9 2335.6L1504.2 2342.1L1505.3 2349.2L1558.5 2340.0Z"/><path fill="#dbc014" d="M1474.4 2350.1L1499.6 2335.8L1509.6 2344.9Z"/><path fill="#a38e0a" d="M1474.4 2350.1L1502.6 2356.5L1509.6 2344.9Z"/>
<path fill="#cfa40d" d="M1592.1 2335.4L1532.8 2346.0L1534.4 2353.8L1593.1 2340.2Z"/><path fill="#dbb014" d="M1499.9 2356.8L1527.2 2339.3L1538.9 2348.8Z"/><path fill="#a3820a" d="M1499.9 2356.8L1531.8 2362.1L1538.9 2348.8Z"/>
<path fill="#cf410d" d="M1625.3 2336.8L1600.6 2378.5L1606.2 2381.6L1628.7 2338.8Z"/><path fill="#db4b14" d="M1590.1 2403.9L1593.6 2378.4L1605.5 2376.2Z"/><path fill="#a3340a" d="M1590.1 2403.9L1609.9 2387.5L1605.5 2376.2Z"/>
<path fill="#cf8c0d" d="M1659.7 2337.0L1639.9 2378.7L1645.4 2381.2L1663.1 2338.6Z"/><path fill="#db9714" d="M1632.1 2403.7L1633.3 2379.2L1644.3 2376.2Z"/><path fill="#a36f0a" d="M1632.1 2403.7L1649.5 2386.4L1644.3 2376.2Z"/>
<path fill="#84cf58" d="M1694.4 2337.2L1678.2 2372.5L1682.8 2374.5L1697.2 2338.4Z"/><path fill="#8edb61" d="M1672.0 2393.2L1672.6 2372.9L1681.9 2370.3Z"/><path fill="#68a345" d="M1672.0 2393.2L1686.4 2378.8L1681.9 2370.3Z"/>
<path fill="#0d93c8" d="M1729.3 2337.4L1718.8 2361.1L1721.9 2362.4L1731.1 2338.2Z"/><path fill="#149ed5" d="M1715.1 2374.5L1715.1 2361.4L1721.2 2359.7Z"/><path fill="#0a739d" d="M1715.1 2374.5L1724.3 2365.2L1721.2 2359.7Z"/>
<path fill="#c4cf18" d="M1541.0 2370.5L1493.1 2368.5L1493.0 2374.8L1541.0 2374.3Z"/><path fill="#d0db20" d="M1466.0 2371.2L1489.9 2362.3L1497.3 2371.7Z"/><path fill="#9ba313" d="M1466.0 2371.2L1489.6 2380.8L1497.3 2371.7Z"/>
<path fill="#cfcb0d" d="M1575.4 2370.2L1520.9 2368.8L1520.9 2376.0L1575.4 2374.6Z"/><path fill="#dbd714" d="M1490.0 2372.4L1517.2 2361.9L1525.9 2372.4Z"/><path fill="#a3a00a" d="M1490.0 2372.4L1517.2 2382.9L1525.9 2372.4Z"/>
<path fill="#cfc50d" d="M1609.0 2371.0L1573.5 2389.5L1576.0 2394.0L1610.6 2373.8Z"/><path fill="#dbd114" d="M1555.2 2402.5L1568.7 2386.3L1577.9 2390.0Z"/><path fill="#a39b0a" d="M1555.2 2402.5L1576.1 2399.8L1577.9 2390.0Z"/>
<path fill="#c4cf17" d="M1643.1 2371.5L1620.3 2398.0L1623.8 2400.8L1645.3 2373.3Z"/><path fill="#d1db1f" d="M1609.9 2414.2L1615.4 2396.9L1624.0 2397.0Z"/><path fill="#9ba312" d="M1609.9 2414.2L1625.8 2405.4L1624.0 2397.0Z"/>
<path fill="#c0cf1c" d="M1677.7 2371.8L1662.4 2395.3L1665.4 2397.1L1679.5 2373.0Z"/><path fill="#ccdb24" d="M1656.0 2409.0L1658.4 2394.9L1665.1 2394.2Z"/><path fill="#97a316" d="M1656.0 2409.0L1667.5 2400.6L1665.1 2394.2Z"/>
<path fill="#45cf96" d="M1712.3 2371.9L1699.1 2390.4L1701.4 2392.0L1713.7 2372.9Z"/><path fill="#4fdba1" d="M1693.6 2401.0L1695.9 2389.9L1701.3 2389.6Z"/><path fill="#37a376" d="M1693.6 2401.0L1703.0 2394.8L1701.3 2389.6Z"/>
<path fill="#6ecf6d" d="M1524.2 2405.3L1481.3 2395.4L1480.1 2401.0L1523.4 2408.7Z"/><path fill="#79db77" d="M1456.6 2393.3L1479.5 2389.3L1484.6 2399.0Z"/><path fill="#57a356" d="M1456.6 2393.3L1476.1 2405.9L1484.6 2399.0Z"/>
<path fill="#72cf6a" d="M1558.5 2405.2L1513.0 2397.7L1512.1 2403.7L1557.9 2408.8Z"/><path fill="#7cdb74" d="M1486.9 2397.2L1510.7 2391.5L1516.6 2401.3Z"/><path fill="#5aa353" d="M1486.9 2397.2L1508.2 2409.1L1516.6 2401.3Z"/>
<path fill="#66cf75" d="M1592.4 2405.2L1548.5 2408.3L1549.1 2414.0L1592.8 2408.8Z"/><path fill="#70db80" d="M1524.3 2413.5L1545.1 2403.0L1552.7 2410.8Z"/><path fill="#51a35d" d="M1524.3 2413.5L1546.7 2419.9L1552.7 2410.8Z"/>
<path fill="#46cf95" d="M1626.7 2406.0L1601.4 2413.9L1602.4 2417.0L1627.3 2408.0Z"/><path fill="#4fdba0" d="M1588.5 2420.0L1598.7 2411.2L1604.1 2414.7Z"/><path fill="#38a376" d="M1588.5 2420.0L1601.9 2420.8L1604.1 2414.7Z"/>
<path fill="#33cfa9" d="M1660.9 2406.7L1652.3 2420.5L1654.0 2421.5L1661.9 2407.3Z"/><path fill="#3bdbb5" d="M1649.1 2427.9L1650.2 2420.4L1653.8 2419.9Z"/><path fill="#28a385" d="M1649.1 2427.9L1655.1 2423.3L1653.8 2419.9Z"/>
<path fill="#0d8ec7" d="M1695.0 2406.6L1684.0 2427.3L1686.6 2428.6L1696.6 2407.4Z"/><path fill="#1499d4" d="M1679.8 2439.0L1680.7 2427.3L1686.2 2426.2Z"/><path fill="#0a6f9c" d="M1679.8 2439.0L1688.6 2431.3L1686.2 2426.2Z"/>
<path fill="#51cf8b" d="M1507.2 2440.1L1469.6 2424.4L1467.7 2429.4L1506.0 2443.1Z"/><path fill="#5adb96" d="M1447.6 2418.7L1469.0 2418.6L1472.1 2428.2Z"/><path fill="#40a36e" d="M1447.6 2418.7L1463.3 2433.2L1472.1 2428.2Z"/>
<path fill="#44cf97" d="M1541.4 2440.0L1502.2 2428.0L1500.8 2433.1L1540.6 2443.2Z"/><path fill="#4ddba2" d="M1479.5 2424.4L1501.0 2422.2L1505.0 2431.5Z"/><path fill="#36a377" d="M1479.5 2424.4L1496.8 2437.4L1505.0 2431.5Z"/>
<path fill="#27cfb4" d="M1575.5 2440.4L1544.5 2436.4L1544.1 2440.4L1575.3 2442.8Z"/><path fill="#2fdbc0" d="M1527.4 2436.7L1542.9 2432.3L1547.0 2438.7Z"/><path fill="#1fa38e" d="M1527.4 2436.7L1541.7 2444.2L1547.0 2438.7Z"/>
<path fill="#1dcfbe" d="M1609.5 2440.3L1577.4 2446.6L1578.3 2450.7L1610.1 2442.9Z"/><path fill="#25dbcb" d="M1560.5 2452.4L1574.5 2443.0L1580.7 2448.0Z"/><path fill="#17a396" d="M1560.5 2452.4L1577.1 2455.2L1580.7 2448.0Z"/>
<path fill="#0d90c8" d="M1643.7 2440.8L1622.3 2453.8L1624.0 2456.5L1644.7 2442.4Z"/><path fill="#149bd4" d="M1612.0 2462.4L1619.2 2452.0L1624.9 2454.0Z"/><path fill="#0a719c" d="M1612.0 2462.4L1624.4 2460.0L1624.9 2454.0Z"/>
<path fill="#0d74c4" d="M1678.0 2441.1L1664.6 2455.5L1666.4 2457.2L1679.2 2442.1Z"/><path fill="#147fd1" d="M1658.9 2463.9L1661.9 2454.8L1666.6 2455.1Z"/><path fill="#0a5b99" d="M1658.9 2463.9L1667.5 2459.7L1666.6 2455.1Z"/>
<path fill="#27cfb4" d="M1489.8 2474.8L1455.9 2465.0L1454.7 2469.4L1489.0 2477.6Z"/><path fill="#2fdbc0" d="M1436.5 2462.2L1454.8 2460.0L1458.3 2468.0Z"/><path fill="#1fa38e" d="M1436.5 2462.2L1451.3 2473.1L1458.3 2468.0Z"/>
<path fill="#27cfb4" d="M1524.2 2474.9L1491.9 2463.5L1490.6 2467.7L1523.4 2477.5Z"/><path fill="#2fdbc0" d="M1473.4 2459.7L1491.1 2458.6L1494.1 2466.5Z"/><path fill="#1fa38e" d="M1473.4 2459.7L1487.1 2471.1L1494.1 2466.5Z"/>
<path fill="#15cfc6" d="M1558.5 2475.0L1528.4 2466.8L1527.5 2470.7L1557.9 2477.4Z"/><path fill="#1ddbd2" d="M1511.5 2464.6L1527.4 2462.4L1530.6 2469.4Z"/><path fill="#11a39c" d="M1511.5 2464.6L1524.5 2474.0L1530.6 2469.4Z"/>
<path fill="#0d8ec7" d="M1592.6 2475.3L1568.5 2473.6L1568.4 2476.6L1592.6 2477.1Z"/><path fill="#1499d4" d="M1555.7 2474.5L1567.1 2470.4L1570.5 2475.2Z"/><path fill="#0a6f9c" d="M1555.7 2474.5L1566.7 2479.6L1570.5 2475.2Z"/>
<path fill="#0d58c0" d="M1626.8 2475.5L1609.0 2480.5L1609.7 2482.6L1627.2 2476.9Z"/><path fill="#1462cd" d="M1600.4 2484.2L1607.3 2478.5L1610.8 2481.1Z"/><path fill="#0a4495" d="M1600.4 2484.2L1609.3 2485.2L1610.8 2481.1Z"/>
<path fill="#0d46be" d="M1661.0 2475.7L1646.6 2484.8L1647.8 2486.5L1661.8 2476.7Z"/><path fill="#144fcb" d="M1640.1 2490.4L1644.6 2483.6L1648.3 2484.9Z"/><path fill="#0a3693" d="M1640.1 2490.4L1648.1 2488.9L1648.3 2484.9Z"/>
<path fill="#0d3abd" d="M1695.3 2475.8L1686.4 2485.7L1687.9 2487.0L1696.3 2476.6Z"/><path fill="#1443c9" d="M1683.1 2491.1L1685.2 2485.7L1687.8 2485.6Z"/><path fill="#0a2d91" d="M1683.1 2491.1L1688.1 2488.2L1687.8 2485.6Z"/>
<path fill="#0db3cb" d="M1472.5 2509.7L1444.0 2501.5L1443.0 2505.1L1471.9 2511.9Z"/><path fill="#14c0d8" d="M1427.9 2499.2L1443.0 2497.3L1446.0 2503.9Z"/><path fill="#0a8da0" d="M1427.9 2499.2L1440.2 2508.3L1446.0 2503.9Z"/>
<path fill="#0db3cb" d="M1506.9 2509.8L1480.8 2500.3L1479.6 2503.7L1506.3 2511.8Z"/><path fill="#14c0d8" d="M1466.0 2497.3L1480.2 2496.4L1482.5 2502.8Z"/><path fill="#0a8da0" d="M1466.0 2497.3L1476.8 2506.5L1482.5 2502.8Z"/>
<path fill="#0db3cb" d="M1541.4 2509.8L1516.0 2499.6L1514.8 2502.8L1540.6 2511.8Z"/><path fill="#14c0d8" d="M1501.7 2496.0L1515.6 2495.7L1517.6 2502.0Z"/><path fill="#0a8da0" d="M1501.7 2496.0L1511.9 2505.5L1517.6 2502.0Z"/>
<path fill="#0d71c4" d="M1575.6 2510.0L1553.9 2504.6L1553.3 2507.3L1575.2 2511.6Z"/><path fill="#147cd0" d="M1542.2 2503.4L1553.1 2501.5L1555.4 2506.4Z"/><path fill="#0a5898" d="M1542.2 2503.4L1551.3 2509.8L1555.4 2506.4Z"/>
<path fill="#0d55c0" d="M1609.8 2510.0L1589.4 2510.2L1589.5 2512.7L1609.8 2511.6Z"/><path fill="#145fcd" d="M1579.0 2511.7L1588.0 2507.6L1591.1 2511.4Z"/><path fill="#0a4295" d="M1579.0 2511.7L1588.3 2515.3L1591.1 2511.4Z"/>
<path fill="#0d3abc" d="M1644.0 2510.2L1628.8 2516.0L1629.6 2517.8L1644.4 2511.4Z"/><path fill="#1443c9" d="M1621.8 2519.9L1627.3 2514.6L1630.4 2516.4Z"/><path fill="#0a2d91" d="M1621.8 2519.9L1629.4 2519.8L1630.4 2516.4Z"/>
<path fill="#0d30bb" d="M1678.2 2510.3L1668.5 2517.3L1669.7 2518.8L1679.0 2511.3Z"/><path fill="#1438c8" d="M1664.8 2521.3L1667.7 2517.2L1669.8 2517.5Z"/><path fill="#0a2590" d="M1664.8 2521.3L1669.5 2519.6L1669.8 2517.5Z"/>
<path fill="#0d8ec7" d="M1455.2 2544.4L1428.9 2539.1L1428.3 2542.4L1454.8 2546.4Z"/><path fill="#1499d4" d="M1414.5 2538.3L1427.8 2535.4L1430.9 2541.2Z"/><path fill="#0a6f9c" d="M1414.5 2538.3L1426.0 2545.5L1430.9 2541.2Z"/>
<path fill="#0d89c7" d="M1489.8 2544.5L1467.1 2534.3L1465.9 2537.2L1489.0 2546.3Z"/><path fill="#1494d3" d="M1454.3 2530.7L1466.8 2530.8L1468.4 2536.6Z"/><path fill="#0a6b9b" d="M1454.3 2530.7L1463.2 2539.5L1468.4 2536.6Z"/>
<path fill="#0d7dc5" d="M1524.2 2544.6L1504.3 2533.3L1502.9 2535.8L1523.4 2546.2Z"/><path fill="#1488d2" d="M1493.1 2528.9L1504.4 2530.1L1505.3 2535.5Z"/><path fill="#0a629a" d="M1493.1 2528.9L1500.3 2537.7L1505.3 2535.5Z"/>
<path fill="#0d67c2" d="M1558.5 2544.7L1539.9 2535.6L1538.8 2538.0L1557.9 2546.1Z"/><path fill="#1471cf" d="M1529.6 2532.4L1539.8 2532.7L1540.9 2537.5Z"/><path fill="#0a5097" d="M1529.6 2532.4L1536.5 2539.8L1540.9 2537.5Z"/>
<path fill="#0d39bc" d="M1592.7 2544.8L1577.9 2541.6L1577.5 2543.5L1592.5 2546.0Z"/><path fill="#1442c9" d="M1570.5 2541.2L1577.3 2540.0L1578.8 2542.8Z"/><path fill="#0a2c91" d="M1570.5 2541.2L1576.4 2544.8L1578.8 2542.8Z"/>
<path fill="#0d30bb" d="M1627.0 2544.8L1612.7 2544.0L1612.7 2545.9L1627.0 2546.0Z"/><path fill="#1438c8" d="M1605.9 2544.8L1611.9 2542.8L1613.8 2545.0Z"/><path fill="#0a2590" d="M1605.9 2544.8L1611.8 2547.1L1613.8 2545.0Z"/>
<path fill="#0d27ba" d="M1661.3 2544.8L1649.3 2546.3L1649.6 2548.2L1661.5 2546.0Z"/><path fill="#142fc6" d="M1644.0 2548.1L1648.6 2545.8L1650.3 2547.1Z"/><path fill="#0a1e8e" d="M1644.0 2548.1L1649.0 2548.8L1650.3 2547.1Z"/>
<path fill="#0d66c2" d="M1438.0 2579.2L1417.9 2572.9L1417.2 2575.4L1437.6 2580.8Z"/><path fill="#1470cf" d="M1407.1 2571.1L1417.4 2570.0L1419.2 2574.6Z"/><path fill="#0a4f97" d="M1407.1 2571.1L1415.2 2577.6L1419.2 2574.6Z"/>
<path fill="#0d71c4" d="M1472.6 2579.2L1452.7 2568.1L1451.4 2570.6L1471.8 2580.8Z"/><path fill="#147cd0" d="M1441.5 2563.8L1452.8 2564.8L1453.7 2570.2Z"/><path fill="#0a5898" d="M1441.5 2563.8L1448.7 2572.5L1453.7 2570.2Z"/>
<path fill="#0d5ac1" d="M1507.0 2579.4L1491.0 2567.9L1489.6 2569.9L1506.2 2580.6Z"/><path fill="#1463cd" d="M1482.0 2563.3L1491.4 2565.2L1491.7 2569.8Z"/><path fill="#0a4695" d="M1482.0 2563.3L1487.2 2571.3L1491.7 2569.8Z"/>
<path fill="#0d4abf" d="M1541.4 2579.4L1526.7 2569.5L1525.5 2571.4L1540.6 2580.6Z"/><path fill="#1453cb" d="M1518.6 2565.7L1527.0 2567.1L1527.3 2571.2Z"/><path fill="#0a3993" d="M1518.6 2565.7L1523.4 2572.7L1527.3 2571.2Z"/>
<path fill="#0d3abc" d="M1575.8 2579.5L1563.1 2569.7L1561.9 2571.3L1575.0 2580.5Z"/><path fill="#1443c9" d="M1556.2 2565.9L1563.4 2567.7L1563.5 2571.3Z"/><path fill="#0a2d91" d="M1556.2 2565.9L1560.1 2572.2L1563.5 2571.3Z"/>
<path fill="#0d1eb8" d="M1609.9 2579.4L1599.5 2576.9L1599.1 2578.8L1609.7 2580.6Z"/><path fill="#1427c5" d="M1594.7 2576.9L1599.0 2576.6L1600.0 2578.0Z"/><path fill="#0a188d" d="M1594.7 2576.9L1598.5 2578.9L1600.0 2578.0Z"/>
<path fill="#0d1ab7" d="M1644.1 2579.4L1635.1 2579.9L1635.3 2581.8L1644.3 2580.6Z"/><path fill="#1422c4" d="M1631.6 2581.2L1634.7 2580.1L1635.8 2580.8Z"/><path fill="#0a148c" d="M1631.6 2581.2L1634.9 2581.7L1635.8 2580.8Z"/>
<path fill="#0d54c0" d="M1420.7 2613.9L1402.1 2609.8L1401.6 2612.1L1420.5 2615.3Z"/><path fill="#145dcd" d="M1392.4 2609.1L1401.4 2607.2L1403.4 2611.2Z"/><path fill="#0a4195" d="M1392.4 2609.1L1400.0 2614.2L1403.4 2611.2Z"/>
<path fill="#0d3abd" d="M1455.2 2614.0L1440.3 2608.3L1439.6 2610.2L1454.8 2615.2Z"/><path fill="#1443c9" d="M1432.5 2606.6L1440.0 2606.3L1441.1 2609.7Z"/><path fill="#0a2d91" d="M1432.5 2606.6L1438.1 2611.5L1441.1 2609.7Z"/>
<path fill="#0d49bf" d="M1489.8 2614.0L1474.4 2603.8L1473.2 2605.7L1489.0 2615.2Z"/><path fill="#1453cb" d="M1466.0 2599.7L1474.8 2601.2L1475.1 2605.5Z"/><path fill="#0a3993" d="M1466.0 2599.7L1471.0 2607.1L1475.1 2605.5Z"/>
<path fill="#0d3ebd" d="M1524.2 2614.2L1512.5 2602.1L1511.1 2603.5L1523.4 2615.0Z"/><path fill="#1448ca" d="M1505.9 2597.0L1513.2 2599.9L1512.8 2603.7Z"/><path fill="#0a3092" d="M1505.9 2597.0L1508.9 2604.3L1512.8 2603.7Z"/>
<path fill="#0d2bba" d="M1558.6 2614.1L1547.8 2605.7L1546.6 2607.2L1557.8 2615.1Z"/><path fill="#1434c7" d="M1542.0 2602.6L1547.8 2604.4L1548.0 2607.1Z"/><path fill="#0a228f" d="M1542.0 2602.6L1545.4 2607.6L1548.0 2607.1Z"/>
<path fill="#0d1eb8" d="M1592.8 2614.0L1583.5 2609.9L1582.8 2611.7L1592.4 2615.2Z"/><path fill="#1426c5" d="M1579.1 2609.1L1583.1 2609.6L1583.8 2611.0Z"/><path fill="#0a178d" d="M1579.1 2609.1L1582.3 2611.6L1583.8 2611.0Z"/>
<circle cx="1625.1" cy="2614.2" r="1.2" fill="#0d14d4"/></g>
<g font-family="'Liberation Serif','Times New Roman',serif" font-weight="bold" font-size="89.5" fill="#000" text-anchor="middle">
<text transform="translate(271.4,2722.8) scale(0.989,1)">Cycle one</text>
<text transform="translate(946.3,2722.8) scale(0.989,1)">Cycle two</text>
<text transform="translate(1612,2722.8) scale(0.989,1)">Cycle three</text>
</g>
<linearGradient id="cb" x1="0" y1="0" x2="0" y2="1"><stop offset="0.0000" stop-color="#800000"/><stop offset="0.0312" stop-color="#9f0000"/><stop offset="0.0625" stop-color="#bf0000"/><stop offset="0.0938" stop-color="#df0000"/><stop offset="0.1250" stop-color="#ff0000"/><stop offset="0.1562" stop-color="#ff2000"/><stop offset="0.1875" stop-color="#ff4000"/><stop offset="0.2188" stop-color="#ff6000"/><stop offset="0.2500" stop-color="#ff8000"/><stop offset="0.2812" stop-color="#ff9f00"/><stop offset="0.3125" stop-color="#ffbf00"/><stop offset="0.3438" stop-color="#ffdf00"/><stop offset="0.3750" stop-color="#ffff00"/><stop offset="0.4062" stop-color="#dfff20"/><stop offset="0.4375" stop-color="#bfff40"/><stop offset="0.4688" stop-color="#9fff60"/><stop offset="0.5000" stop-color="#80ff80"/><stop offset="0.5312" stop-color="#60ff9f"/><stop offset="0.5625" stop-color="#40ffbf"/><stop offset="0.5938" stop-color="#20ffdf"/><stop offset="0.6250" stop-color="#00ffff"/><stop offset="0.6562" stop-color="#00dfff"/><stop offset="0.6875" stop-color="#00bfff"/><stop offset="0.7188" stop-color="#009fff"/><stop offset="0.7500" stop-color="#0080ff"/><stop offset="0.7812" stop-color="#0060ff"/><stop offset="0.8125" stop-color="#0040ff"/><stop offset="0.8438" stop-color="#0020ff"/><stop offset="0.8750" stop-color="#0000ff"/><stop offset="0.9062" stop-color="#0000df"/><stop offset="0.9375" stop-color="#0000bf"/><stop offset="0.9688" stop-color="#00009f"/><stop offset="1.0000" stop-color="#000080"/></linearGradient>
<rect x="1927.5" y="1582.0" width="63.3" height="1031.5" fill="url(#cb)"/>
<path d="M1980.5 1584.0H2026.5M1980.5 1791.0H2026.5M1980.5 1996.5H2026.5M1980.5 2204.8H2026.5M1980.5 2410.0H2026.5M1980.5 2615.0H2026.5" stroke="#000" stroke-width="4" fill="none"/>
<g font-family="'Liberation Serif','Times New Roman',serif" font-size="91" fill="#000" text-anchor="middle">
<text transform="translate(2075.9,1614.1) scale(0.93,1)">10</text>
<text transform="translate(2078.0,1821.1) scale(0.93,1)">8</text>
<text transform="translate(2078.0,2026.6) scale(0.93,1)">6</text>
<text transform="translate(2078.0,2234.9) scale(0.93,1)">4</text>
<text transform="translate(2078.0,2440.1) scale(0.93,1)">2</text>
<text transform="translate(2078.0,2642.9) scale(0.93,1)">0</text>
<text transform="translate(2249.3,2140.7) rotate(-90) scale(0.962,1)" font-size="92">Velocity Magnitude (mm/s)</text>
</g>
<text x="1143.7" y="2887.4" text-anchor="middle" font-family="'Liberation Serif','Times New Roman',serif" font-size="76" fill="#000">(<tspan font-weight="bold" dx="-1">b</tspan><tspan dx="-1">)</tspan></text>
</svg>
</body></html>
